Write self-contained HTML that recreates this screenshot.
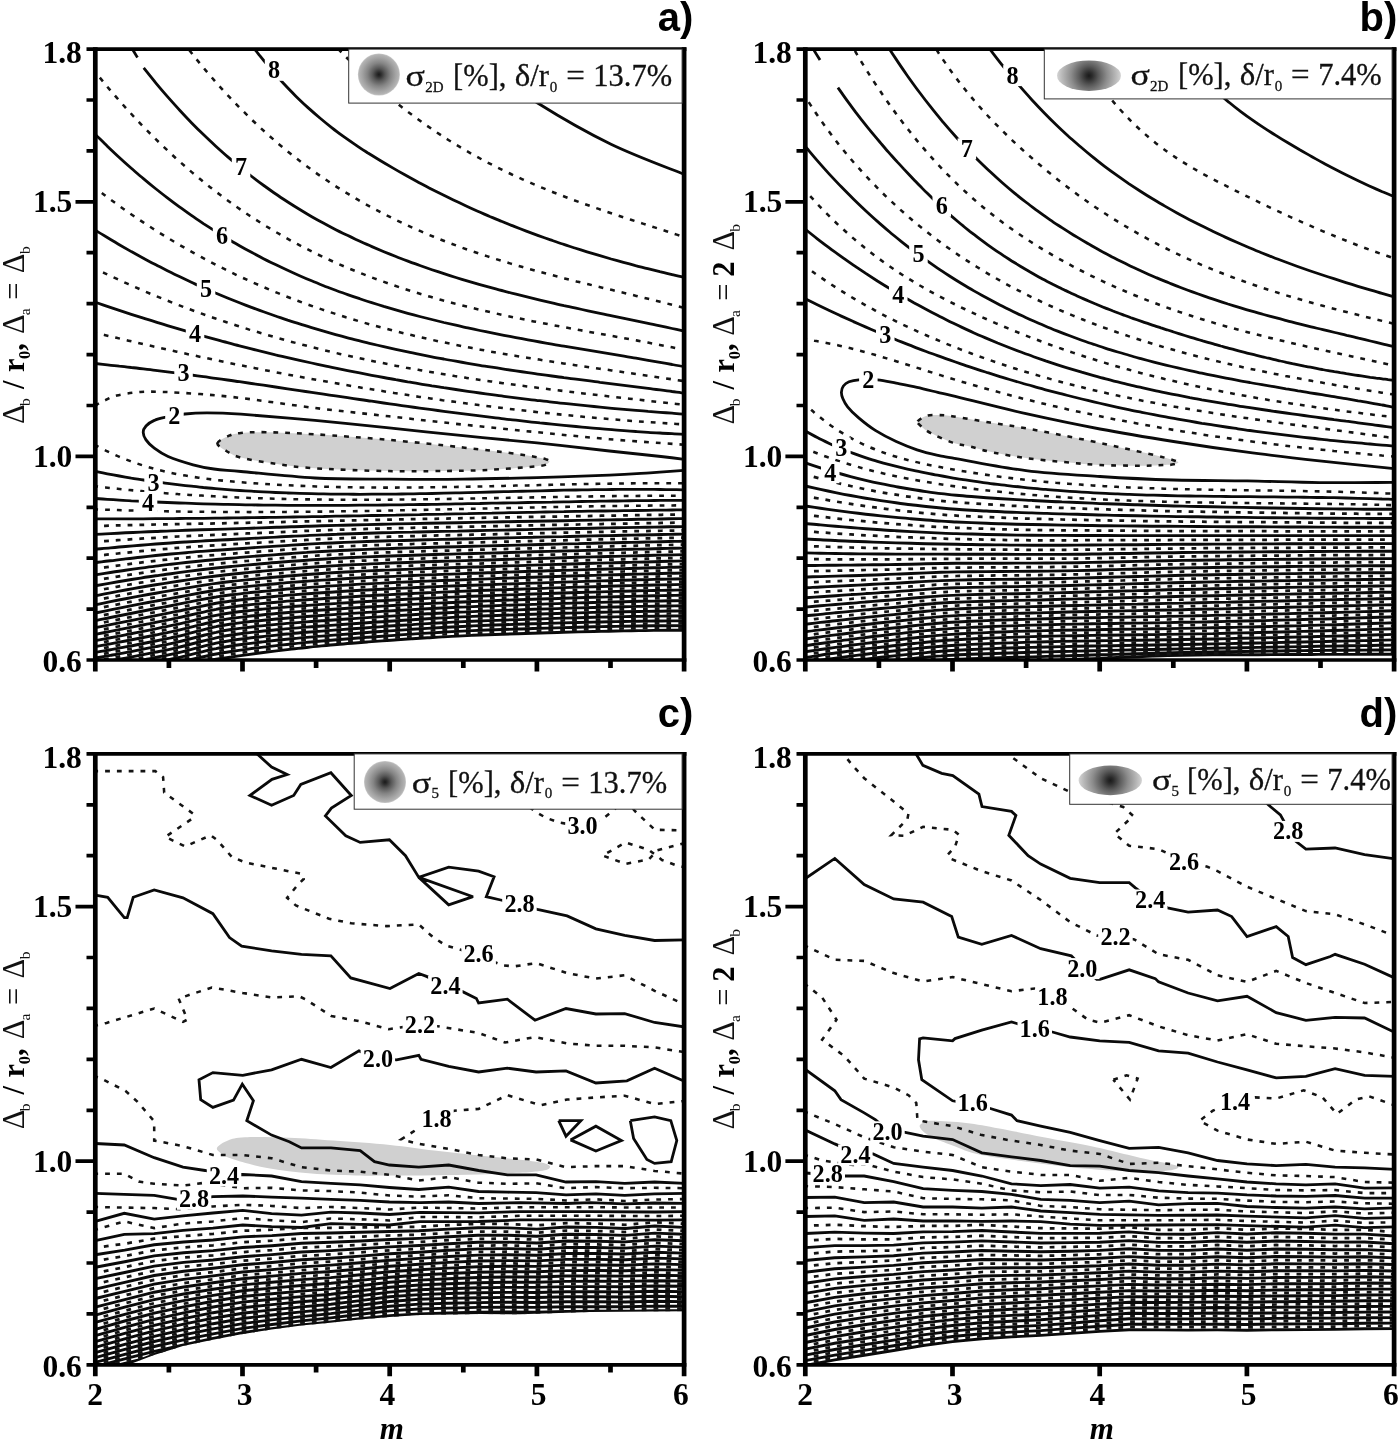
<!DOCTYPE html>
<html><head><meta charset="utf-8"><title>Contour figure</title>
<style>
html,body{margin:0;padding:0;background:#fff;overflow:hidden}
svg{display:block}
.s{fill:none;stroke:#0a0a0a;stroke-width:2.8;stroke-linejoin:miter;stroke-miterlimit:3}
.d{fill:none;stroke:#141414;stroke-width:2.55;stroke-dasharray:4.8 7.0}
.sb{stroke-width:2.9}
.db{stroke-width:2.75;stroke-dasharray:4.8 7.0}
.cl{font-family:'Liberation Serif',serif;font-weight:bold;text-anchor:middle;fill:#000}
.tl{font-family:'Liberation Serif',serif;font-weight:bold;font-size:31.5px;fill:#000}
.pl{font-family:'Liberation Sans',sans-serif;font-weight:bold;font-size:40px;fill:#000;text-anchor:end}
.lg{font-family:'Liberation Serif',serif;font-size:30.5px;fill:#111;stroke:#111;stroke-width:0.3}
.sub{font-size:15px !important}
.yr{font-family:'Liberation Serif',serif;font-size:30.5px;fill:#111}
.yb{font-family:'Liberation Serif',serif;font-size:30.5px;font-weight:bold;fill:#000}
.ysr{font-family:'Liberation Serif',serif;font-size:15.5px;fill:#111}
.ysb{font-family:'Liberation Serif',serif;font-size:16.5px;font-weight:bold;fill:#000}
.xl{font-family:'Liberation Serif',serif;font-style:italic;font-weight:bold;font-size:31px;fill:#000;text-anchor:middle}
</style></head>
<body>
<svg width="1400" height="1442" viewBox="0 0 1400 1442">
<defs><radialGradient id="rg" cx="50%" cy="50%" r="50%"><stop offset="0" stop-color="#1a1a1a"/><stop offset="0.1" stop-color="#2b2b2b"/><stop offset="0.3" stop-color="#585858"/><stop offset="0.55" stop-color="#848484"/><stop offset="0.8" stop-color="#a4a4a4"/><stop offset="0.94" stop-color="#b3b3b3"/><stop offset="1" stop-color="#cacaca"/></radialGradient><radialGradient id="rgb" gradientUnits="userSpaceOnUse" cx="1089" cy="75.7" r="32.5"><stop offset="0" stop-color="#1a1a1a"/><stop offset="0.1" stop-color="#2b2b2b"/><stop offset="0.3" stop-color="#5a5a5a"/><stop offset="0.55" stop-color="#8c8c8c"/><stop offset="0.8" stop-color="#b4b4b4"/><stop offset="0.94" stop-color="#cccccc"/><stop offset="1" stop-color="#dcdcdc"/></radialGradient><radialGradient id="rgd" gradientUnits="userSpaceOnUse" cx="1110.3" cy="780.4" r="32.2"><stop offset="0" stop-color="#1a1a1a"/><stop offset="0.1" stop-color="#2b2b2b"/><stop offset="0.3" stop-color="#5a5a5a"/><stop offset="0.55" stop-color="#8c8c8c"/><stop offset="0.8" stop-color="#b4b4b4"/><stop offset="0.94" stop-color="#cccccc"/><stop offset="1" stop-color="#dcdcdc"/></radialGradient></defs>
<rect width="1400" height="1442" fill="#fff"/>
<clipPath id="clipa"><rect x="95.3" y="49.1" width="588.8" height="610.9"/></clipPath>
<g clip-path="url(#clipa)">
<path d="M217.4,443.3C217.8,440.8 225.2,437.4 229.1,435.7C233,434 234.8,433.5 241,432.9C247.2,432.3 253.7,432 266,432.2C278.3,432.4 294.5,433 315,434.3C335.5,435.6 364.3,437.7 389,439.9C413.7,442.1 442.8,445.3 463,447.5C483.2,449.7 497.7,451.4 510,453C522.3,454.6 530.9,456.1 537,457.2C543.1,458.3 544.4,458.8 546.5,459.5C548.6,460.2 549.6,460.8 549.5,461.6C549.4,462.5 548.1,463.8 546,464.6C543.9,465.4 544.7,465.4 537,466.2C529.3,467 512.3,468.4 500,469.2C487.7,469.9 481.5,470.4 463,470.7C444.5,471 413.7,471.5 389,471.1C364.3,470.7 333.7,469.5 315,468.3C296.3,467.1 289.3,465.8 277,464C264.7,462.2 249.4,459.8 241,457.6C232.6,455.4 230.3,453.4 226.4,451C222.5,448.6 217,445.9 217.4,443.3Z" fill="#d0d0d0"/>
<path class="s" d="M455,40C459.2,43.7 466.2,51.5 480,62C493.8,72.5 516.2,89.5 538,103.2C559.8,116.9 586.6,132.3 611,144.2C635.4,156 671.9,169.3 684.1,174.3 M247,39.2C249,41.8 255.1,49.8 259.1,54.9C263.2,60 267.2,65 271.3,69.7C275.3,74.4 279.4,79 283.4,83.3C287.5,87.7 291.5,91.9 295.6,95.9C299.6,99.9 303.7,103.7 307.7,107.4C311.8,111.1 315.8,114.6 319.9,118C323.9,121.4 327.9,124.7 332,127.8C336,131 340.1,134 344.1,136.9C348.2,139.8 352.2,142.6 356.3,145.3C360.3,148.1 364.4,150.7 368.4,153.3C372.5,155.8 376.5,158.3 380.6,160.8C384.6,163.2 388.7,165.6 392.7,167.9C396.7,170.3 400.8,172.6 404.8,174.8C408.9,177.1 412.9,179.3 417,181.5C421,183.7 425.1,185.8 429.1,187.9C433.2,190 437.2,192 441.3,194.1C445.3,196.1 449.4,198.1 453.4,200C457.5,201.9 461.5,203.8 465.6,205.7C469.6,207.6 473.6,209.4 477.7,211.2C481.7,213 485.8,214.7 489.8,216.5C493.9,218.2 497.9,219.9 502,221.5C506,223.2 510.1,224.8 514.1,226.4C518.2,228 522.2,229.5 526.3,231.1C530.3,232.6 534.4,234.1 538.4,235.6C542.4,237 546.5,238.5 550.5,239.9C554.6,241.3 558.6,242.7 562.7,244C566.7,245.4 570.8,246.7 574.8,248C578.9,249.3 582.9,250.5 587,251.8C591,253 595.1,254.2 599.1,255.4C603.2,256.6 607.2,257.8 611.2,259C615.3,260.1 619.3,261.2 623.4,262.3C627.4,263.4 631.5,264.5 635.5,265.6C639.6,266.6 643.6,267.7 647.7,268.7C651.7,269.7 655.8,270.7 659.8,271.7C663.9,272.6 667.9,273.6 672,274.6C676,275.5 682.1,276.9 684.1,277.3 M126,40C126.8,41.2 129.1,44.1 131,47C132.9,49.9 136.4,55.8 137.5,57.6 M143.7,67.9C145.7,70.4 151.7,78 155.7,82.8C159.7,87.6 163.7,92.3 167.7,96.9C171.7,101.4 175.7,105.9 179.7,110.2C183.7,114.6 187.7,118.8 191.7,122.9C195.7,127 199.7,131 203.7,134.8C207.7,138.7 211.8,142.5 215.8,146.2C219.8,149.8 223.8,153.4 227.8,156.9C231.8,160.3 235.8,163.7 239.8,167C243.8,170.3 247.8,173.4 251.8,176.5C255.8,179.6 259.8,182.6 263.8,185.5C267.8,188.4 271.8,191.3 275.8,194C279.8,196.8 283.8,199.4 287.8,202C291.8,204.6 295.8,207.1 299.8,209.5C303.8,212 307.8,214.4 311.8,216.7C315.8,219 319.8,221.2 323.8,223.3C327.8,225.5 331.8,227.6 335.8,229.7C339.8,231.7 343.8,233.7 347.9,235.6C351.9,237.6 355.9,239.4 359.9,241.3C363.9,243.1 367.9,244.9 371.9,246.6C375.9,248.3 379.9,250 383.9,251.7C387.9,253.3 391.9,254.9 395.9,256.5C399.9,258.1 403.9,259.6 407.9,261.1C411.9,262.6 415.9,264.1 419.9,265.5C423.9,266.9 427.9,268.3 431.9,269.7C435.9,271 439.9,272.4 443.9,273.7C447.9,275 451.9,276.2 455.9,277.5C459.9,278.7 463.9,279.9 467.9,281.1C471.9,282.3 475.9,283.4 479.9,284.6C484,285.7 488,286.8 492,287.9C496,289 500,290.1 504,291.1C508,292.2 512,293.2 516,294.2C520,295.2 524,296.2 528,297.2C532,298.2 536,299.1 540,300.1C544,301 548,301.9 552,302.8C556,303.8 560,304.7 564,305.6C568,306.4 572,307.3 576,308.2C580,309.1 584,309.9 588,310.8C592,311.7 596,312.5 600,313.4C604,314.2 608,315 612,315.9C616,316.7 620.1,317.6 624.1,318.4C628.1,319.2 632.1,320.1 636.1,320.9C640.1,321.7 644.1,322.6 648.1,323.4C652.1,324.3 656.1,325.1 660.1,325.9C664.1,326.8 668.1,327.6 672.1,328.5C676.1,329.4 682.1,330.7 684.1,331.1 M95.3,134.4C97.3,136.3 103.3,142.3 107.3,146.2C111.3,150 115.3,153.8 119.3,157.5C123.3,161.2 127.3,164.8 131.3,168.3C135.4,171.8 139.4,175.3 143.4,178.6C147.4,182 151.4,185.3 155.4,188.5C159.4,191.7 163.4,194.8 167.4,197.9C171.4,201 175.4,204 179.4,206.9C183.4,209.8 187.4,212.6 191.4,215.4C195.4,218.2 199.4,220.9 203.4,223.6C207.5,226.2 211.5,228.8 215.5,231.3C219.5,233.8 223.5,236.3 227.5,238.7C231.5,241.1 235.5,243.4 239.5,245.7C243.5,248 247.5,250.2 251.5,252.3C255.5,254.5 259.5,256.6 263.5,258.7C267.5,260.7 271.5,262.7 275.5,264.6C279.6,266.6 283.6,268.5 287.6,270.3C291.6,272.2 295.6,274 299.6,275.7C303.6,277.5 307.6,279.2 311.6,280.8C315.6,282.5 319.6,284.1 323.6,285.7C327.6,287.2 331.6,288.8 335.6,290.2C339.6,291.7 343.6,293.2 347.6,294.6C351.6,296 355.7,297.4 359.7,298.7C363.7,300.1 367.7,301.4 371.7,302.6C375.7,303.9 379.7,305.1 383.7,306.4C387.7,307.6 391.7,308.7 395.7,309.9C399.7,311 403.7,312.2 407.7,313.3C411.7,314.4 415.7,315.4 419.7,316.5C423.7,317.5 427.8,318.5 431.8,319.5C435.8,320.5 439.8,321.5 443.8,322.5C447.8,323.4 451.8,324.3 455.8,325.2C459.8,326.2 463.8,327 467.8,327.9C471.8,328.8 475.8,329.6 479.8,330.5C483.8,331.3 487.8,332.1 491.8,332.9C495.8,333.7 499.8,334.5 503.9,335.3C507.9,336.1 511.9,336.8 515.9,337.6C519.9,338.3 523.9,339.1 527.9,339.8C531.9,340.5 535.9,341.3 539.9,342C543.9,342.7 547.9,343.4 551.9,344.1C555.9,344.8 559.9,345.5 563.9,346.1C567.9,346.8 571.9,347.5 576,348.2C580,348.9 584,349.5 588,350.2C592,350.9 596,351.5 600,352.2C604,352.9 608,353.5 612,354.2C616,354.9 620,355.5 624,356.2C628,356.9 632,357.6 636,358.2C640,358.9 644,359.6 648.1,360.3C652.1,361 656.1,361.7 660.1,362.4C664.1,363.1 668.1,363.8 672.1,364.5C676.1,365.3 682.1,366.4 684.1,366.7 M95.3,230.1C97.3,231.4 103.3,235.1 107.3,237.5C111.3,240 115.3,242.3 119.3,244.7C123.3,247 127.3,249.3 131.3,251.6C135.4,253.8 139.4,256 143.4,258.2C147.4,260.4 151.4,262.5 155.4,264.6C159.4,266.7 163.4,268.7 167.4,270.7C171.4,272.7 175.4,274.7 179.4,276.6C183.4,278.5 187.4,280.4 191.4,282.3C195.4,284.1 199.4,286 203.4,287.7C207.5,289.5 211.5,291.2 215.5,293C219.5,294.7 223.5,296.3 227.5,298C231.5,299.6 235.5,301.2 239.5,302.8C243.5,304.3 247.5,305.9 251.5,307.4C255.5,308.9 259.5,310.4 263.5,311.8C267.5,313.2 271.5,314.6 275.5,316C279.6,317.4 283.6,318.7 287.6,320.1C291.6,321.4 295.6,322.7 299.6,323.9C303.6,325.2 307.6,326.4 311.6,327.6C315.6,328.8 319.6,330 323.6,331.2C327.6,332.3 331.6,333.5 335.6,334.6C339.6,335.7 343.6,336.7 347.6,337.8C351.6,338.9 355.7,339.9 359.7,340.9C363.7,341.9 367.7,342.9 371.7,343.8C375.7,344.8 379.7,345.7 383.7,346.7C387.7,347.6 391.7,348.5 395.7,349.4C399.7,350.2 403.7,351.1 407.7,351.9C411.7,352.8 415.7,353.6 419.7,354.4C423.7,355.2 427.8,356 431.8,356.8C435.8,357.6 439.8,358.3 443.8,359C447.8,359.8 451.8,360.5 455.8,361.2C459.8,361.9 463.8,362.6 467.8,363.3C471.8,364 475.8,364.6 479.8,365.3C483.8,366 487.8,366.6 491.8,367.2C495.8,367.9 499.8,368.5 503.9,369.1C507.9,369.7 511.9,370.3 515.9,370.9C519.9,371.5 523.9,372 527.9,372.6C531.9,373.2 535.9,373.8 539.9,374.3C543.9,374.9 547.9,375.4 551.9,376C555.9,376.5 559.9,377 563.9,377.6C567.9,378.1 571.9,378.6 576,379.2C580,379.7 584,380.2 588,380.7C592,381.2 596,381.7 600,382.3C604,382.8 608,383.3 612,383.8C616,384.3 620,384.8 624,385.3C628,385.8 632,386.3 636,386.8C640,387.3 644,387.8 648.1,388.3C652.1,388.9 656.1,389.4 660.1,389.9C664.1,390.4 668.1,390.9 672.1,391.5C676.1,392 682.1,392.8 684.1,393 M95.3,302.2C97.3,302.9 103.3,305 107.3,306.4C111.3,307.7 115.3,309.1 119.3,310.4C123.3,311.7 127.3,313 131.3,314.3C135.4,315.6 139.4,316.9 143.4,318.2C147.4,319.5 151.4,320.7 155.4,321.9C159.4,323.2 163.4,324.4 167.4,325.6C171.4,326.8 175.4,328 179.4,329.2C183.4,330.4 187.4,331.5 191.4,332.7C195.4,333.8 199.4,335 203.4,336.1C207.5,337.2 211.5,338.3 215.5,339.4C219.5,340.5 223.5,341.6 227.5,342.6C231.5,343.7 235.5,344.8 239.5,345.8C243.5,346.8 247.5,347.9 251.5,348.9C255.5,349.9 259.5,350.9 263.5,351.8C267.5,352.8 271.5,353.8 275.5,354.8C279.6,355.7 283.6,356.7 287.6,357.6C291.6,358.5 295.6,359.4 299.6,360.3C303.6,361.2 307.6,362.1 311.6,363C315.6,363.9 319.6,364.7 323.6,365.6C327.6,366.5 331.6,367.3 335.6,368.1C339.6,368.9 343.6,369.8 347.6,370.6C351.6,371.4 355.7,372.2 359.7,372.9C363.7,373.7 367.7,374.5 371.7,375.3C375.7,376 379.7,376.8 383.7,377.5C387.7,378.2 391.7,378.9 395.7,379.7C399.7,380.4 403.7,381.1 407.7,381.8C411.7,382.4 415.7,383.1 419.7,383.8C423.7,384.5 427.8,385.1 431.8,385.8C435.8,386.4 439.8,387 443.8,387.7C447.8,388.3 451.8,388.9 455.8,389.5C459.8,390.1 463.8,390.7 467.8,391.3C471.8,391.9 475.8,392.4 479.8,393C483.8,393.6 487.8,394.1 491.8,394.7C495.8,395.2 499.8,395.7 503.9,396.3C507.9,396.8 511.9,397.3 515.9,397.8C519.9,398.3 523.9,398.8 527.9,399.3C531.9,399.8 535.9,400.3 539.9,400.7C543.9,401.2 547.9,401.7 551.9,402.1C555.9,402.6 559.9,403 563.9,403.4C567.9,403.9 571.9,404.3 576,404.7C580,405.1 584,405.5 588,405.9C592,406.3 596,406.7 600,407.1C604,407.5 608,407.9 612,408.3C616,408.6 620,409 624,409.3C628,409.7 632,410 636,410.4C640,410.7 644,411 648.1,411.4C652.1,411.7 656.1,412 660.1,412.3C664.1,412.6 668.1,412.9 672.1,413.2C676.1,413.5 682.1,413.9 684.1,414.1 M95.3,363.5C97.3,363.7 103.3,364.4 107.3,364.8C111.3,365.2 115.3,365.6 119.3,366.1C123.3,366.5 127.3,367 131.3,367.5C135.4,367.9 139.4,368.4 143.4,368.9C147.4,369.4 151.4,369.9 155.4,370.3C159.4,370.8 163.4,371.4 167.4,371.9C171.4,372.4 175.4,372.9 179.4,373.4C183.4,374 187.4,374.5 191.4,375C195.4,375.6 199.4,376.1 203.4,376.7C207.5,377.2 211.5,377.8 215.5,378.3C219.5,378.9 223.5,379.4 227.5,380C231.5,380.6 235.5,381.2 239.5,381.7C243.5,382.3 247.5,382.9 251.5,383.5C255.5,384.1 259.5,384.6 263.5,385.2C267.5,385.8 271.5,386.4 275.5,387C279.6,387.6 283.6,388.2 287.6,388.8C291.6,389.4 295.6,390 299.6,390.6C303.6,391.2 307.6,391.8 311.6,392.4C315.6,393 319.6,393.6 323.6,394.2C327.6,394.8 331.6,395.3 335.6,395.9C339.6,396.5 343.6,397.1 347.6,397.7C351.6,398.3 355.7,398.9 359.7,399.5C363.7,400.1 367.7,400.7 371.7,401.2C375.7,401.8 379.7,402.4 383.7,403C387.7,403.6 391.7,404.1 395.7,404.7C399.7,405.3 403.7,405.8 407.7,406.4C411.7,407 415.7,407.5 419.7,408.1C423.7,408.6 427.8,409.2 431.8,409.7C435.8,410.2 439.8,410.8 443.8,411.3C447.8,411.8 451.8,412.4 455.8,412.9C459.8,413.4 463.8,413.9 467.8,414.4C471.8,414.9 475.8,415.4 479.8,415.9C483.8,416.4 487.8,416.9 491.8,417.4C495.8,417.9 499.8,418.4 503.9,418.8C507.9,419.3 511.9,419.8 515.9,420.2C519.9,420.7 523.9,421.1 527.9,421.6C531.9,422 535.9,422.4 539.9,422.9C543.9,423.3 547.9,423.7 551.9,424.1C555.9,424.5 559.9,424.9 563.9,425.3C567.9,425.7 571.9,426.1 576,426.5C580,426.9 584,427.2 588,427.6C592,428 596,428.3 600,428.6C604,429 608,429.3 612,429.6C616,430 620,430.3 624,430.6C628,430.9 632,431.2 636,431.5C640,431.8 644,432 648.1,432.3C652.1,432.6 656.1,432.8 660.1,433C664.1,433.3 668.1,433.5 672.1,433.7C676.1,434 682.1,434.3 684.1,434.4 M684.1,459.3C680.2,458.8 673.5,457.9 661,456.5C648.5,455.1 630.1,453.3 609.4,451C588.7,448.7 561.4,445.4 537,442.9C512.6,440.3 487.7,438.2 463,435.7C438.3,433.2 413.7,430.4 389,427.9C364.3,425.3 339.7,422.7 315,420.4C290.3,418.1 259,415.5 241,414.2C223,412.9 216.4,412.8 207,412.8C197.6,412.8 191.8,413.2 184.8,414C177.8,414.8 170.1,416.2 165,417.3C159.9,418.4 157.5,418.9 154.3,420.4C151.1,421.8 147.8,424 146,426C144.2,428 143.2,429.9 143.2,432.2C143.2,434.5 144.2,437.2 146,439.9C147.8,442.6 150.6,445.4 154.3,448.2C158,451 161.6,453.7 168.1,456.5C174.6,459.3 185.5,462.7 193.1,464.8C200.7,466.9 205.9,467.9 213.9,469C221.9,470.1 224.2,470 241,471.5C257.9,473 290.3,476.7 315,478C339.7,479.3 364.3,478.9 389,479.1C413.7,479.3 438.3,479.4 463,479.1C487.7,478.9 512.6,478.2 537,477.6C561.4,477 590.6,476 609.4,475.2C628.2,474.4 637.5,473.6 650,472.8C662.5,472 678.4,470.8 684.1,470.4 M95.3,471.4C97.3,471.8 103.3,473 107.3,473.8C111.3,474.5 115.3,475.3 119.3,476C123.3,476.7 127.3,477.4 131.3,478.1C135.4,478.7 139.4,479.4 143.4,480C147.4,480.6 151.4,481.2 155.4,481.7C159.4,482.3 163.4,482.9 167.4,483.4C171.4,483.9 175.4,484.4 179.4,484.9C183.4,485.3 187.4,485.8 191.4,486.2C195.4,486.7 199.4,487.1 203.4,487.5C207.5,487.8 211.5,488.2 215.5,488.6C219.5,488.9 223.5,489.3 227.5,489.6C231.5,489.9 235.5,490.2 239.5,490.5C243.5,490.7 247.5,491 251.5,491.2C255.5,491.5 259.5,491.7 263.5,491.9C267.5,492.1 271.5,492.3 275.5,492.5C279.6,492.7 283.6,492.8 287.6,493C291.6,493.1 295.6,493.3 299.6,493.4C303.6,493.5 307.6,493.6 311.6,493.7C315.6,493.8 319.6,493.9 323.6,493.9C327.6,494 331.6,494.1 335.6,494.1C339.6,494.2 343.6,494.2 347.6,494.2C351.6,494.2 355.7,494.3 359.7,494.3C363.7,494.3 367.7,494.3 371.7,494.2C375.7,494.2 379.7,494.2 383.7,494.2C387.7,494.1 391.7,494.1 395.7,494.1C399.7,494 403.7,494 407.7,493.9C411.7,493.8 415.7,493.8 419.7,493.7C423.7,493.6 427.8,493.6 431.8,493.5C435.8,493.4 439.8,493.3 443.8,493.2C447.8,493.1 451.8,493 455.8,492.9C459.8,492.8 463.8,492.8 467.8,492.6C471.8,492.5 475.8,492.4 479.8,492.3C483.8,492.2 487.8,492.1 491.8,492C495.8,491.9 499.8,491.8 503.9,491.7C507.9,491.6 511.9,491.5 515.9,491.4C519.9,491.3 523.9,491.2 527.9,491.1C531.9,491 535.9,490.9 539.9,490.8C543.9,490.7 547.9,490.6 551.9,490.5C555.9,490.4 559.9,490.3 563.9,490.2C567.9,490.1 571.9,490.1 576,490C580,489.9 584,489.9 588,489.8C592,489.7 596,489.7 600,489.6C604,489.6 608,489.5 612,489.5C616,489.5 620,489.4 624,489.4C628,489.4 632,489.4 636,489.4C640,489.4 644,489.4 648.1,489.4C652.1,489.4 656.1,489.5 660.1,489.5C664.1,489.5 668.1,489.6 672.1,489.6C676.1,489.7 682.1,489.8 684.1,489.9 M95.3,498.5C97.3,498.6 103.3,499 107.3,499.3C111.3,499.6 115.3,499.8 119.3,500.1C123.3,500.3 127.3,500.5 131.3,500.8C135.4,501 139.4,501.2 143.4,501.4C147.4,501.6 151.4,501.8 155.4,502C159.4,502.2 163.4,502.3 167.4,502.5C171.4,502.7 175.4,502.8 179.4,503C183.4,503.1 187.4,503.3 191.4,503.4C195.4,503.6 199.4,503.7 203.4,503.8C207.5,503.9 211.5,504 215.5,504.1C219.5,504.3 223.5,504.3 227.5,504.4C231.5,504.5 235.5,504.6 239.5,504.7C243.5,504.8 247.5,504.8 251.5,504.9C255.5,505 259.5,505 263.5,505.1C267.5,505.1 271.5,505.2 275.5,505.2C279.6,505.2 283.6,505.3 287.6,505.3C291.6,505.3 295.6,505.3 299.6,505.4C303.6,505.4 307.6,505.4 311.6,505.4C315.6,505.4 319.6,505.4 323.6,505.4C327.6,505.4 331.6,505.4 335.6,505.4C339.6,505.3 343.6,505.3 347.6,505.3C351.6,505.3 355.7,505.3 359.7,505.2C363.7,505.2 367.7,505.2 371.7,505.1C375.7,505.1 379.7,505 383.7,505C387.7,505 391.7,504.9 395.7,504.9C399.7,504.8 403.7,504.8 407.7,504.7C411.7,504.6 415.7,504.6 419.7,504.5C423.7,504.5 427.8,504.4 431.8,504.3C435.8,504.3 439.8,504.2 443.8,504.1C447.8,504.1 451.8,504 455.8,503.9C459.8,503.8 463.8,503.8 467.8,503.7C471.8,503.6 475.8,503.5 479.8,503.5C483.8,503.4 487.8,503.3 491.8,503.2C495.8,503.2 499.8,503.1 503.9,503C507.9,502.9 511.9,502.8 515.9,502.8C519.9,502.7 523.9,502.6 527.9,502.5C531.9,502.4 535.9,502.4 539.9,502.3C543.9,502.2 547.9,502.1 551.9,502.1C555.9,502 559.9,501.9 563.9,501.8C567.9,501.8 571.9,501.7 576,501.6C580,501.5 584,501.5 588,501.4C592,501.3 596,501.3 600,501.2C604,501.1 608,501.1 612,501C616,501 620,500.9 624,500.8C628,500.8 632,500.7 636,500.7C640,500.6 644,500.6 648.1,500.6C652.1,500.5 656.1,500.5 660.1,500.4C664.1,500.4 668.1,500.4 672.1,500.3C676.1,500.3 682.1,500.3 684.1,500.3 M95.3,518.9C97.3,518.9 103.3,518.9 107.3,518.9C111.3,518.9 115.3,518.9 119.3,518.9C123.3,518.8 127.3,518.8 131.3,518.8C135.4,518.8 139.4,518.8 143.4,518.8C147.4,518.7 151.4,518.7 155.4,518.7C159.4,518.7 163.4,518.6 167.4,518.6C171.4,518.6 175.4,518.5 179.4,518.5C183.4,518.5 187.4,518.4 191.4,518.4C195.4,518.4 199.4,518.3 203.4,518.3C207.5,518.2 211.5,518.2 215.5,518.1C219.5,518.1 223.5,518 227.5,518C231.5,517.9 235.5,517.9 239.5,517.8C243.5,517.8 247.5,517.7 251.5,517.7C255.5,517.6 259.5,517.5 263.5,517.5C267.5,517.4 271.5,517.4 275.5,517.3C279.6,517.2 283.6,517.2 287.6,517.1C291.6,517 295.6,517 299.6,516.9C303.6,516.8 307.6,516.8 311.6,516.7C315.6,516.6 319.6,516.5 323.6,516.5C327.6,516.4 331.6,516.3 335.6,516.2C339.6,516.2 343.6,516.1 347.6,516C351.6,515.9 355.7,515.9 359.7,515.8C363.7,515.7 367.7,515.6 371.7,515.5C375.7,515.5 379.7,515.4 383.7,515.3C387.7,515.2 391.7,515.1 395.7,515.1C399.7,515 403.7,514.9 407.7,514.8C411.7,514.7 415.7,514.6 419.7,514.6C423.7,514.5 427.8,514.4 431.8,514.3C435.8,514.2 439.8,514.1 443.8,514.1C447.8,514 451.8,513.9 455.8,513.8C459.8,513.7 463.8,513.6 467.8,513.6C471.8,513.5 475.8,513.4 479.8,513.3C483.8,513.2 487.8,513.1 491.8,513.1C495.8,513 499.8,512.9 503.9,512.8C507.9,512.7 511.9,512.7 515.9,512.6C519.9,512.5 523.9,512.4 527.9,512.3C531.9,512.3 535.9,512.2 539.9,512.1C543.9,512 547.9,512 551.9,511.9C555.9,511.8 559.9,511.7 563.9,511.7C567.9,511.6 571.9,511.5 576,511.4C580,511.4 584,511.3 588,511.2C592,511.2 596,511.1 600,511C604,511 608,510.9 612,510.8C616,510.8 620,510.7 624,510.6C628,510.6 632,510.5 636,510.5C640,510.4 644,510.4 648.1,510.3C652.1,510.2 656.1,510.2 660.1,510.1C664.1,510.1 668.1,510 672.1,510C676.1,510 682.1,509.9 684.1,509.9"/>
<path class="s sb" d="M95.3,534.4C97.8,534.2 105.4,533.8 110.4,533.6C115.4,533.3 120.5,533.1 125.5,532.8C130.5,532.6 135.6,532.3 140.6,532.1C145.6,531.9 150.7,531.7 155.7,531.5C160.7,531.3 165.8,531 170.8,530.9C175.8,530.7 180.9,530.5 185.9,530.3C190.9,530.1 195.9,530 201,529.8C206,529.7 211,529.5 216.1,529.4C221.1,529.2 226.1,529 231.2,528.9C236.2,528.7 241.2,528.6 246.3,528.4C251.3,528.2 256.3,528 261.4,527.9C266.4,527.7 271.4,527.5 276.5,527.3C281.5,527.2 286.5,527 291.6,526.8C296.6,526.7 301.6,526.5 306.7,526.3C311.7,526.2 316.7,526 321.8,525.8C326.8,525.7 331.8,525.5 336.9,525.4C341.9,525.2 346.9,525.1 352,525C357,524.9 362,524.7 367.1,524.6C372.1,524.5 377.1,524.4 382.2,524.3C387.2,524.1 392.2,524 397.2,523.9C402.3,523.8 407.3,523.7 412.3,523.6C417.4,523.5 422.4,523.4 427.4,523.3C432.5,523.2 437.5,523.1 442.5,523C447.6,522.9 452.6,522.8 457.6,522.7C462.7,522.6 467.7,522.5 472.7,522.4C477.8,522.3 482.8,522.2 487.8,522.1C492.9,522 497.9,521.9 502.9,521.8C508,521.7 513,521.6 518,521.5C523.1,521.4 528.1,521.3 533.1,521.2C538.2,521.1 543.2,521.1 548.2,521C553.3,520.9 558.3,520.8 563.3,520.7C568.4,520.6 573.4,520.5 578.4,520.4C583.5,520.3 588.5,520.2 593.5,520.1C598.5,520 603.6,520 608.6,519.9C613.6,519.8 618.7,519.7 623.7,519.6C628.7,519.5 633.8,519.4 638.8,519.3C643.8,519.3 648.9,519.2 653.9,519.1C658.9,519 664,518.9 669,518.8C674,518.8 681.6,518.6 684.1,518.6 M95.3,549.3C97.8,549.1 105.4,548.3 110.4,547.9C115.4,547.4 120.5,546.9 125.5,546.5C130.5,546.1 135.6,545.6 140.6,545.2C145.6,544.8 150.7,544.4 155.7,544C160.7,543.7 165.8,543.3 170.8,543C175.8,542.6 180.9,542.3 185.9,542C190.9,541.7 195.9,541.4 201,541.1C206,540.8 211,540.5 216.1,540.3C221.1,540 226.1,539.7 231.2,539.5C236.2,539.2 241.2,538.9 246.3,538.7C251.3,538.4 256.3,538.1 261.4,537.9C266.4,537.6 271.4,537.3 276.5,537.1C281.5,536.8 286.5,536.5 291.6,536.3C296.6,536 301.6,535.8 306.7,535.6C311.7,535.3 316.7,535.1 321.8,534.9C326.8,534.7 331.8,534.4 336.9,534.3C341.9,534.1 346.9,533.9 352,533.7C357,533.6 362,533.4 367.1,533.3C372.1,533.1 377.1,533 382.2,532.8C387.2,532.7 392.2,532.6 397.2,532.4C402.3,532.3 407.3,532.2 412.3,532.1C417.4,531.9 422.4,531.8 427.4,531.7C432.5,531.6 437.5,531.5 442.5,531.4C447.6,531.3 452.6,531.2 457.6,531.1C462.7,531 467.7,530.8 472.7,530.7C477.8,530.6 482.8,530.5 487.8,530.4C492.9,530.3 497.9,530.2 502.9,530.1C508,530 513,529.9 518,529.8C523.1,529.7 528.1,529.6 533.1,529.4C538.2,529.3 543.2,529.2 548.2,529.1C553.3,529 558.3,528.9 563.3,528.8C568.4,528.7 573.4,528.6 578.4,528.5C583.5,528.4 588.5,528.3 593.5,528.2C598.5,528.1 603.6,528 608.6,527.9C613.6,527.8 618.7,527.7 623.7,527.6C628.7,527.5 633.8,527.4 638.8,527.4C643.8,527.3 648.9,527.2 653.9,527.1C658.9,527 664,526.9 669,526.8C674,526.7 681.6,526.6 684.1,526.6 M95.3,562.8C97.8,562.4 105.4,561.4 110.4,560.8C115.4,560.1 120.5,559.5 125.5,558.9C130.5,558.3 135.6,557.7 140.6,557.2C145.6,556.6 150.7,556.1 155.7,555.5C160.7,555 165.8,554.5 170.8,554C175.8,553.6 180.9,553.1 185.9,552.7C190.9,552.2 195.9,551.8 201,551.4C206,551 211,550.7 216.1,550.3C221.1,549.9 226.1,549.6 231.2,549.2C236.2,548.9 241.2,548.5 246.3,548.2C251.3,547.8 256.3,547.5 261.4,547.1C266.4,546.8 271.4,546.4 276.5,546.1C281.5,545.8 286.5,545.5 291.6,545.1C296.6,544.8 301.6,544.5 306.7,544.2C311.7,543.9 316.7,543.7 321.8,543.4C326.8,543.1 331.8,542.9 336.9,542.7C341.9,542.4 346.9,542.2 352,542.1C357,541.9 362,541.7 367.1,541.5C372.1,541.3 377.1,541.2 382.2,541C387.2,540.9 392.2,540.7 397.2,540.6C402.3,540.4 407.3,540.3 412.3,540.2C417.4,540 422.4,539.9 427.4,539.8C432.5,539.6 437.5,539.5 442.5,539.4C447.6,539.3 452.6,539.2 457.6,539C462.7,538.9 467.7,538.8 472.7,538.7C477.8,538.6 482.8,538.5 487.8,538.3C492.9,538.2 497.9,538.1 502.9,538C508,537.9 513,537.7 518,537.6C523.1,537.5 528.1,537.4 533.1,537.3C538.2,537.1 543.2,537 548.2,536.9C553.3,536.8 558.3,536.7 563.3,536.6C568.4,536.4 573.4,536.3 578.4,536.2C583.5,536.1 588.5,536 593.5,535.9C598.5,535.8 603.6,535.7 608.6,535.6C613.6,535.5 618.7,535.4 623.7,535.3C628.7,535.2 633.8,535.1 638.8,535C643.8,534.8 648.9,534.7 653.9,534.7C658.9,534.6 664,534.5 669,534.4C674,534.3 681.6,534.1 684.1,534.1 M95.3,574.9C97.8,574.5 105.4,573.3 110.4,572.5C115.4,571.7 120.5,570.9 125.5,570.2C130.5,569.5 135.6,568.8 140.6,568.1C145.6,567.4 150.7,566.7 155.7,566.1C160.7,565.4 165.8,564.8 170.8,564.2C175.8,563.6 180.9,563.1 185.9,562.5C190.9,562 195.9,561.5 201,561C206,560.4 211,560 216.1,559.5C221.1,559 226.1,558.6 231.2,558.2C236.2,557.8 241.2,557.4 246.3,556.9C251.3,556.5 256.3,556.1 261.4,555.7C266.4,555.3 271.4,554.9 276.5,554.6C281.5,554.2 286.5,553.8 291.6,553.5C296.6,553.1 301.6,552.8 306.7,552.4C311.7,552.1 316.7,551.8 321.8,551.5C326.8,551.2 331.8,550.9 336.9,550.7C341.9,550.4 346.9,550.2 352,550C357,549.8 362,549.6 367.1,549.4C372.1,549.2 377.1,549 382.2,548.8C387.2,548.7 392.2,548.5 397.2,548.3C402.3,548.2 407.3,548 412.3,547.9C417.4,547.7 422.4,547.6 427.4,547.5C432.5,547.3 437.5,547.2 442.5,547C447.6,546.9 452.6,546.8 457.6,546.7C462.7,546.5 467.7,546.4 472.7,546.3C477.8,546.1 482.8,546 487.8,545.9C492.9,545.8 497.9,545.6 502.9,545.5C508,545.4 513,545.2 518,545.1C523.1,545 528.1,544.8 533.1,544.7C538.2,544.6 543.2,544.4 548.2,544.3C553.3,544.2 558.3,544.1 563.3,543.9C568.4,543.8 573.4,543.7 578.4,543.6C583.5,543.5 588.5,543.3 593.5,543.2C598.5,543.1 603.6,543 608.6,542.9C613.6,542.7 618.7,542.6 623.7,542.5C628.7,542.4 633.8,542.3 638.8,542.2C643.8,542.1 648.9,542 653.9,541.9C658.9,541.8 664,541.6 669,541.5C674,541.4 681.6,541.3 684.1,541.2 M95.3,585.8C97.8,585.4 105.4,584 110.4,583.1C115.4,582.2 120.5,581.4 125.5,580.5C130.5,579.7 135.6,578.9 140.6,578.1C145.6,577.3 150.7,576.5 155.7,575.8C160.7,575.1 165.8,574.3 170.8,573.7C175.8,573 180.9,572.3 185.9,571.6C190.9,571 195.9,570.4 201,569.8C206,569.2 211,568.6 216.1,568C221.1,567.5 226.1,567 231.2,566.5C236.2,566 241.2,565.6 246.3,565.1C251.3,564.7 256.3,564.2 261.4,563.8C266.4,563.3 271.4,562.9 276.5,562.5C281.5,562.1 286.5,561.7 291.6,561.3C296.6,560.9 301.6,560.5 306.7,560.2C311.7,559.8 316.7,559.5 321.8,559.2C326.8,558.9 331.8,558.6 336.9,558.3C341.9,558 346.9,557.8 352,557.5C357,557.3 362,557.1 367.1,556.9C372.1,556.7 377.1,556.5 382.2,556.3C387.2,556.1 392.2,555.9 397.2,555.8C402.3,555.6 407.3,555.4 412.3,555.3C417.4,555.1 422.4,554.9 427.4,554.8C432.5,554.6 437.5,554.5 442.5,554.3C447.6,554.2 452.6,554.1 457.6,553.9C462.7,553.8 467.7,553.6 472.7,553.5C477.8,553.4 482.8,553.2 487.8,553.1C492.9,552.9 497.9,552.8 502.9,552.7C508,552.5 513,552.4 518,552.2C523.1,552.1 528.1,551.9 533.1,551.8C538.2,551.7 543.2,551.5 548.2,551.4C553.3,551.3 558.3,551.1 563.3,551C568.4,550.9 573.4,550.7 578.4,550.6C583.5,550.5 588.5,550.3 593.5,550.2C598.5,550.1 603.6,549.9 608.6,549.8C613.6,549.7 618.7,549.6 623.7,549.4C628.7,549.3 633.8,549.2 638.8,549.1C643.8,549 648.9,548.9 653.9,548.7C658.9,548.6 664,548.5 669,548.4C674,548.3 681.6,548.1 684.1,548.1 M95.3,595.8C97.8,595.3 105.4,593.8 110.4,592.8C115.4,591.9 120.5,590.9 125.5,590C130.5,589.1 135.6,588.2 140.6,587.3C145.6,586.5 150.7,585.6 155.7,584.8C160.7,584 165.8,583.2 170.8,582.4C175.8,581.6 180.9,580.9 185.9,580.1C190.9,579.4 195.9,578.6 201,577.9C206,577.3 211,576.6 216.1,576C221.1,575.3 226.1,574.8 231.2,574.2C236.2,573.7 241.2,573.2 246.3,572.7C251.3,572.2 256.3,571.8 261.4,571.3C266.4,570.8 271.4,570.4 276.5,569.9C281.5,569.5 286.5,569.1 291.6,568.7C296.6,568.3 301.6,567.9 306.7,567.5C311.7,567.2 316.7,566.8 321.8,566.5C326.8,566.2 331.8,565.9 336.9,565.6C341.9,565.3 346.9,565 352,564.8C357,564.5 362,564.3 367.1,564.1C372.1,563.8 377.1,563.6 382.2,563.4C387.2,563.2 392.2,563 397.2,562.8C402.3,562.7 407.3,562.5 412.3,562.3C417.4,562.1 422.4,562 427.4,561.8C432.5,561.6 437.5,561.5 442.5,561.3C447.6,561.2 452.6,561 457.6,560.9C462.7,560.7 467.7,560.6 472.7,560.4C477.8,560.3 482.8,560.1 487.8,560C492.9,559.8 497.9,559.7 502.9,559.5C508,559.3 513,559.2 518,559C523.1,558.9 528.1,558.7 533.1,558.6C538.2,558.4 543.2,558.3 548.2,558.2C553.3,558 558.3,557.9 563.3,557.7C568.4,557.6 573.4,557.4 578.4,557.3C583.5,557.2 588.5,557 593.5,556.9C598.5,556.7 603.6,556.6 608.6,556.5C613.6,556.3 618.7,556.2 623.7,556.1C628.7,556 633.8,555.8 638.8,555.7C643.8,555.6 648.9,555.5 653.9,555.3C658.9,555.2 664,555.1 669,555C674,554.9 681.6,554.7 684.1,554.6 M95.3,604.8C97.8,604.3 105.4,602.7 110.4,601.7C115.4,600.7 120.5,599.7 125.5,598.8C130.5,597.8 135.6,596.8 140.6,595.9C145.6,595 150.7,594.1 155.7,593.2C160.7,592.3 165.8,591.5 170.8,590.6C175.8,589.8 180.9,588.9 185.9,588.1C190.9,587.3 195.9,586.4 201,585.6C206,584.8 211,584.1 216.1,583.4C221.1,582.7 226.1,582.1 231.2,581.5C236.2,580.9 241.2,580.4 246.3,579.9C251.3,579.4 256.3,578.9 261.4,578.4C266.4,577.9 271.4,577.4 276.5,577C281.5,576.5 286.5,576.1 291.6,575.7C296.6,575.3 301.6,574.9 306.7,574.5C311.7,574.2 316.7,573.8 321.8,573.5C326.8,573.1 331.8,572.8 336.9,572.5C341.9,572.2 346.9,571.9 352,571.7C357,571.4 362,571.2 367.1,570.9C372.1,570.7 377.1,570.5 382.2,570.3C387.2,570 392.2,569.8 397.2,569.6C402.3,569.4 407.3,569.2 412.3,569.1C417.4,568.9 422.4,568.7 427.4,568.5C432.5,568.3 437.5,568.2 442.5,568C447.6,567.8 452.6,567.7 457.6,567.5C462.7,567.3 467.7,567.2 472.7,567C477.8,566.9 482.8,566.7 487.8,566.5C492.9,566.4 497.9,566.2 502.9,566C508,565.9 513,565.7 518,565.6C523.1,565.4 528.1,565.2 533.1,565.1C538.2,564.9 543.2,564.8 548.2,564.6C553.3,564.5 558.3,564.3 563.3,564.2C568.4,564 573.4,563.9 578.4,563.7C583.5,563.6 588.5,563.4 593.5,563.3C598.5,563.1 603.6,563 608.6,562.9C613.6,562.7 618.7,562.6 623.7,562.5C628.7,562.3 633.8,562.2 638.8,562.1C643.8,561.9 648.9,561.8 653.9,561.7C658.9,561.5 664,561.4 669,561.3C674,561.2 681.6,561 684.1,560.9 M95.3,613C97.8,612.5 105.4,610.9 110.4,609.9C115.4,608.9 120.5,607.9 125.5,606.9C130.5,605.9 135.6,604.9 140.6,603.9C145.6,603 150.7,602 155.7,601.1C160.7,600.2 165.8,599.3 170.8,598.3C175.8,597.4 180.9,596.5 185.9,595.6C190.9,594.7 195.9,593.7 201,592.8C206,592 211,591.1 216.1,590.3C221.1,589.6 226.1,588.9 231.2,588.3C236.2,587.7 241.2,587.2 246.3,586.6C251.3,586.1 256.3,585.6 261.4,585.1C266.4,584.6 271.4,584.1 276.5,583.7C281.5,583.2 286.5,582.8 291.6,582.4C296.6,582 301.6,581.6 306.7,581.2C311.7,580.8 316.7,580.5 321.8,580.1C326.8,579.8 331.8,579.5 336.9,579.2C341.9,578.9 346.9,578.6 352,578.3C357,578 362,577.8 367.1,577.5C372.1,577.3 377.1,577 382.2,576.8C387.2,576.6 392.2,576.4 397.2,576.1C402.3,575.9 407.3,575.7 412.3,575.5C417.4,575.3 422.4,575.1 427.4,574.9C432.5,574.7 437.5,574.6 442.5,574.4C447.6,574.2 452.6,574 457.6,573.9C462.7,573.7 467.7,573.5 472.7,573.3C477.8,573.2 482.8,573 487.8,572.8C492.9,572.7 497.9,572.5 502.9,572.3C508,572.1 513,572 518,571.8C523.1,571.6 528.1,571.5 533.1,571.3C538.2,571.2 543.2,571 548.2,570.8C553.3,570.7 558.3,570.5 563.3,570.4C568.4,570.2 573.4,570 578.4,569.9C583.5,569.7 588.5,569.6 593.5,569.4C598.5,569.3 603.6,569.1 608.6,569C613.6,568.9 618.7,568.7 623.7,568.6C628.7,568.4 633.8,568.3 638.8,568.2C643.8,568 648.9,567.9 653.9,567.8C658.9,567.7 664,567.5 669,567.4C674,567.3 681.6,567.1 684.1,567 M95.3,620.7C97.8,620.1 105.4,618.6 110.4,617.5C115.4,616.5 120.5,615.5 125.5,614.5C130.5,613.5 135.6,612.5 140.6,611.5C145.6,610.5 150.7,609.5 155.7,608.5C160.7,607.6 165.8,606.6 170.8,605.7C175.8,604.7 180.9,603.7 185.9,602.7C190.9,601.7 195.9,600.7 201,599.7C206,598.7 211,597.8 216.1,597C221.1,596.1 226.1,595.5 231.2,594.8C236.2,594.2 241.2,593.6 246.3,593.1C251.3,592.5 256.3,592 261.4,591.5C266.4,591 271.4,590.5 276.5,590.1C281.5,589.6 286.5,589.2 291.6,588.8C296.6,588.4 301.6,588 306.7,587.6C311.7,587.2 316.7,586.9 321.8,586.6C326.8,586.2 331.8,585.9 336.9,585.6C341.9,585.3 346.9,585 352,584.7C357,584.4 362,584.1 367.1,583.9C372.1,583.6 377.1,583.3 382.2,583.1C387.2,582.9 392.2,582.6 397.2,582.4C402.3,582.2 407.3,581.9 412.3,581.7C417.4,581.5 422.4,581.3 427.4,581.1C432.5,580.9 437.5,580.7 442.5,580.5C447.6,580.3 452.6,580.1 457.6,580C462.7,579.8 467.7,579.6 472.7,579.4C477.8,579.2 482.8,579 487.8,578.9C492.9,578.7 497.9,578.5 502.9,578.3C508,578.2 513,578 518,577.8C523.1,577.6 528.1,577.5 533.1,577.3C538.2,577.1 543.2,577 548.2,576.8C553.3,576.6 558.3,576.5 563.3,576.3C568.4,576.1 573.4,576 578.4,575.8C583.5,575.7 588.5,575.5 593.5,575.4C598.5,575.2 603.6,575.1 608.6,574.9C613.6,574.8 618.7,574.6 623.7,574.5C628.7,574.4 633.8,574.2 638.8,574.1C643.8,574 648.9,573.8 653.9,573.7C658.9,573.6 664,573.4 669,573.3C674,573.2 681.6,573 684.1,573 M95.3,627.7C97.8,627.2 105.4,625.7 110.4,624.7C115.4,623.7 120.5,622.6 125.5,621.6C130.5,620.6 135.6,619.6 140.6,618.6C145.6,617.6 150.7,616.6 155.7,615.6C160.7,614.6 165.8,613.6 170.8,612.6C175.8,611.6 180.9,610.6 185.9,609.5C190.9,608.5 195.9,607.3 201,606.3C206,605.2 211,604.2 216.1,603.3C221.1,602.4 226.1,601.7 231.2,601C236.2,600.3 241.2,599.8 246.3,599.2C251.3,598.7 256.3,598.2 261.4,597.7C266.4,597.2 271.4,596.7 276.5,596.2C281.5,595.8 286.5,595.4 291.6,594.9C296.6,594.5 301.6,594.2 306.7,593.8C311.7,593.4 316.7,593.1 321.8,592.7C326.8,592.4 331.8,592.1 336.9,591.7C341.9,591.4 346.9,591.1 352,590.8C357,590.5 362,590.2 367.1,590C372.1,589.7 377.1,589.4 382.2,589.2C387.2,588.9 392.2,588.7 397.2,588.4C402.3,588.2 407.3,587.9 412.3,587.7C417.4,587.5 422.4,587.3 427.4,587C432.5,586.8 437.5,586.6 442.5,586.4C447.6,586.2 452.6,586 457.6,585.8C462.7,585.6 467.7,585.4 472.7,585.2C477.8,585 482.8,584.9 487.8,584.7C492.9,584.5 497.9,584.3 502.9,584.1C508,583.9 513,583.8 518,583.6C523.1,583.4 528.1,583.2 533.1,583.1C538.2,582.9 543.2,582.7 548.2,582.6C553.3,582.4 558.3,582.2 563.3,582.1C568.4,581.9 573.4,581.7 578.4,581.6C583.5,581.4 588.5,581.3 593.5,581.1C598.5,581 603.6,580.8 608.6,580.7C613.6,580.5 618.7,580.4 623.7,580.2C628.7,580.1 633.8,580 638.8,579.8C643.8,579.7 648.9,579.6 653.9,579.4C658.9,579.3 664,579.2 669,579.1C674,579 681.6,578.8 684.1,578.7 M95.3,634.4C97.8,633.9 105.4,632.4 110.4,631.4C115.4,630.4 120.5,629.4 125.5,628.4C130.5,627.4 135.6,626.4 140.6,625.4C145.6,624.4 150.7,623.4 155.7,622.3C160.7,621.3 165.8,620.3 170.8,619.3C175.8,618.2 180.9,617.2 185.9,616C190.9,614.9 195.9,613.7 201,612.6C206,611.5 211,610.3 216.1,609.4C221.1,608.4 226.1,607.7 231.2,607C236.2,606.3 241.2,605.7 246.3,605.2C251.3,604.6 256.3,604.1 261.4,603.6C266.4,603.1 271.4,602.6 276.5,602.2C281.5,601.7 286.5,601.3 291.6,600.9C296.6,600.5 301.6,600.1 306.7,599.7C311.7,599.4 316.7,599 321.8,598.7C326.8,598.3 331.8,598 336.9,597.7C341.9,597.4 346.9,597 352,596.7C357,596.4 362,596.1 367.1,595.8C372.1,595.6 377.1,595.3 382.2,595C387.2,594.7 392.2,594.5 397.2,594.2C402.3,594 407.3,593.7 412.3,593.5C417.4,593.2 422.4,593 427.4,592.8C432.5,592.5 437.5,592.3 442.5,592.1C447.6,591.9 452.6,591.7 457.6,591.5C462.7,591.2 467.7,591 472.7,590.8C477.8,590.6 482.8,590.5 487.8,590.3C492.9,590.1 497.9,589.9 502.9,589.7C508,589.5 513,589.3 518,589.2C523.1,589 528.1,588.8 533.1,588.6C538.2,588.5 543.2,588.3 548.2,588.1C553.3,587.9 558.3,587.8 563.3,587.6C568.4,587.4 573.4,587.3 578.4,587.1C583.5,587 588.5,586.8 593.5,586.7C598.5,586.5 603.6,586.4 608.6,586.2C613.6,586.1 618.7,585.9 623.7,585.8C628.7,585.7 633.8,585.5 638.8,585.4C643.8,585.3 648.9,585.1 653.9,585C658.9,584.9 664,584.8 669,584.7C674,584.6 681.6,584.4 684.1,584.4 M95.3,640.6C97.8,640.1 105.4,638.7 110.4,637.8C115.4,636.8 120.5,635.8 125.5,634.8C130.5,633.8 135.6,632.9 140.6,631.8C145.6,630.8 150.7,629.8 155.7,628.8C160.7,627.8 165.8,626.8 170.8,625.7C175.8,624.6 180.9,623.5 185.9,622.3C190.9,621.2 195.9,619.8 201,618.7C206,617.5 211,616.3 216.1,615.3C221.1,614.3 226.1,613.5 231.2,612.8C236.2,612.1 241.2,611.5 246.3,611C251.3,610.4 256.3,609.8 261.4,609.3C266.4,608.8 271.4,608.4 276.5,607.9C281.5,607.5 286.5,607 291.6,606.6C296.6,606.2 301.6,605.9 306.7,605.5C311.7,605.1 316.7,604.8 321.8,604.4C326.8,604.1 331.8,603.8 336.9,603.4C341.9,603.1 346.9,602.8 352,602.5C357,602.1 362,601.8 367.1,601.5C372.1,601.2 377.1,600.9 382.2,600.7C387.2,600.4 392.2,600.1 397.2,599.8C402.3,599.5 407.3,599.3 412.3,599C417.4,598.8 422.4,598.5 427.4,598.3C432.5,598 437.5,597.8 442.5,597.6C447.6,597.3 452.6,597.1 457.6,596.9C462.7,596.7 467.7,596.5 472.7,596.3C477.8,596.1 482.8,595.9 487.8,595.7C492.9,595.5 497.9,595.3 502.9,595.1C508,594.9 513,594.7 518,594.6C523.1,594.4 528.1,594.2 533.1,594C538.2,593.8 543.2,593.7 548.2,593.5C553.3,593.3 558.3,593.2 563.3,593C568.4,592.8 573.4,592.7 578.4,592.5C583.5,592.4 588.5,592.2 593.5,592.1C598.5,591.9 603.6,591.8 608.6,591.6C613.6,591.5 618.7,591.3 623.7,591.2C628.7,591.1 633.8,591 638.8,590.8C643.8,590.7 648.9,590.6 653.9,590.5C658.9,590.4 664,590.3 669,590.2C674,590.1 681.6,589.9 684.1,589.9 M95.3,646.6C97.8,646.2 105.4,644.8 110.4,643.9C115.4,642.9 120.5,642 125.5,641C130.5,640 135.6,639 140.6,638C145.6,637 150.7,636 155.7,635C160.7,634 165.8,633 170.8,631.9C175.8,630.8 180.9,629.6 185.9,628.4C190.9,627.2 195.9,625.8 201,624.6C206,623.4 211,622.1 216.1,621C221.1,620 226.1,619.2 231.2,618.4C236.2,617.7 241.2,617.2 246.3,616.6C251.3,616 256.3,615.5 261.4,615C266.4,614.4 271.4,614 276.5,613.5C281.5,613.1 286.5,612.6 291.6,612.2C296.6,611.8 301.6,611.5 306.7,611.1C311.7,610.7 316.7,610.4 321.8,610C326.8,609.7 331.8,609.3 336.9,609C341.9,608.7 346.9,608.3 352,608C357,607.7 362,607.4 367.1,607C372.1,606.7 377.1,606.4 382.2,606.1C387.2,605.8 392.2,605.5 397.2,605.2C402.3,605 407.3,604.7 412.3,604.4C417.4,604.1 422.4,603.9 427.4,603.6C432.5,603.4 437.5,603.1 442.5,602.9C447.6,602.6 452.6,602.4 457.6,602.2C462.7,601.9 467.7,601.7 472.7,601.5C477.8,601.3 482.8,601.1 487.8,600.9C492.9,600.7 497.9,600.5 502.9,600.3C508,600.1 513,600 518,599.8C523.1,599.6 528.1,599.4 533.1,599.3C538.2,599.1 543.2,598.9 548.2,598.7C553.3,598.6 558.3,598.4 563.3,598.2C568.4,598.1 573.4,597.9 578.4,597.8C583.5,597.6 588.5,597.5 593.5,597.3C598.5,597.2 603.6,597 608.6,596.9C613.6,596.8 618.7,596.6 623.7,596.5C628.7,596.4 633.8,596.3 638.8,596.1C643.8,596 648.9,595.9 653.9,595.8C658.9,595.7 664,595.6 669,595.5C674,595.4 681.6,595.3 684.1,595.3 M95.3,652.4C97.8,651.9 105.4,650.6 110.4,649.7C115.4,648.8 120.5,647.9 125.5,646.9C130.5,646 135.6,645 140.6,644C145.6,643 150.7,642 155.7,641C160.7,639.9 165.8,638.9 170.8,637.8C175.8,636.7 180.9,635.6 185.9,634.3C190.9,633.1 195.9,631.6 201,630.4C206,629.1 211,627.7 216.1,626.7C221.1,625.6 226.1,624.8 231.2,624C236.2,623.3 241.2,622.7 246.3,622.1C251.3,621.5 256.3,621 261.4,620.5C266.4,620 271.4,619.5 276.5,619C281.5,618.6 286.5,618.1 291.6,617.7C296.6,617.3 301.6,616.9 306.7,616.5C311.7,616.2 316.7,615.8 321.8,615.5C326.8,615.1 331.8,614.8 336.9,614.4C341.9,614.1 346.9,613.7 352,613.4C357,613.1 362,612.7 367.1,612.4C372.1,612.1 377.1,611.8 382.2,611.4C387.2,611.1 392.2,610.8 397.2,610.5C402.3,610.2 407.3,609.9 412.3,609.6C417.4,609.4 422.4,609.1 427.4,608.8C432.5,608.5 437.5,608.3 442.5,608C447.6,607.8 452.6,607.5 457.6,607.3C462.7,607 467.7,606.8 472.7,606.6C477.8,606.4 482.8,606.2 487.8,606C492.9,605.8 497.9,605.6 502.9,605.4C508,605.2 513,605.1 518,604.9C523.1,604.7 528.1,604.5 533.1,604.4C538.2,604.2 543.2,604 548.2,603.9C553.3,603.7 558.3,603.5 563.3,603.4C568.4,603.2 573.4,603 578.4,602.9C583.5,602.7 588.5,602.6 593.5,602.5C598.5,602.3 603.6,602.2 608.6,602.1C613.6,601.9 618.7,601.8 623.7,601.7C628.7,601.6 633.8,601.5 638.8,601.3C643.8,601.2 648.9,601.1 653.9,601.1C658.9,601 664,600.9 669,600.8C674,600.7 681.6,600.6 684.1,600.6 M95.3,658C97.8,657.6 105.4,656.3 110.4,655.4C115.4,654.5 120.5,653.6 125.5,652.6C130.5,651.7 135.6,650.7 140.6,649.7C145.6,648.7 150.7,647.7 155.7,646.7C160.7,645.7 165.8,644.7 170.8,643.6C175.8,642.4 180.9,641.3 185.9,640C190.9,638.8 195.9,637.3 201,636C206,634.7 211,633.3 216.1,632.3C221.1,631.2 226.1,630.3 231.2,629.5C236.2,628.8 241.2,628.2 246.3,627.6C251.3,627 256.3,626.4 261.4,625.9C266.4,625.4 271.4,624.9 276.5,624.4C281.5,623.9 286.5,623.5 291.6,623.1C296.6,622.7 301.6,622.3 306.7,621.9C311.7,621.5 316.7,621.1 321.8,620.8C326.8,620.4 331.8,620.1 336.9,619.7C341.9,619.3 346.9,619 352,618.7C357,618.3 362,618 367.1,617.6C372.1,617.3 377.1,616.9 382.2,616.6C387.2,616.3 392.2,616 397.2,615.6C402.3,615.3 407.3,615 412.3,614.7C417.4,614.4 422.4,614.1 427.4,613.8C432.5,613.6 437.5,613.3 442.5,613C447.6,612.8 452.6,612.5 457.6,612.3C462.7,612 467.7,611.8 472.7,611.6C477.8,611.4 482.8,611.1 487.8,610.9C492.9,610.8 497.9,610.6 502.9,610.4C508,610.2 513,610 518,609.9C523.1,609.7 528.1,609.5 533.1,609.3C538.2,609.2 543.2,609 548.2,608.9C553.3,608.7 558.3,608.5 563.3,608.4C568.4,608.2 573.4,608.1 578.4,607.9C583.5,607.8 588.5,607.6 593.5,607.5C598.5,607.4 603.6,607.2 608.6,607.1C613.6,607 618.7,606.9 623.7,606.8C628.7,606.6 633.8,606.5 638.8,606.4C643.8,606.4 648.9,606.3 653.9,606.2C658.9,606.1 664,606 669,606C674,605.9 681.6,605.8 684.1,605.8 M95.3,663.6C97.8,663.1 105.4,661.8 110.4,660.9C115.4,660 120.5,659.1 125.5,658.2C130.5,657.2 135.6,656.2 140.6,655.2C145.6,654.2 150.7,653.2 155.7,652.2C160.7,651.2 165.8,650.2 170.8,649.1C175.8,647.9 180.9,646.8 185.9,645.5C190.9,644.3 195.9,642.8 201,641.5C206,640.2 211,638.9 216.1,637.8C221.1,636.7 226.1,635.8 231.2,635C236.2,634.2 241.2,633.7 246.3,633C251.3,632.4 256.3,631.9 261.4,631.3C266.4,630.8 271.4,630.2 276.5,629.8C281.5,629.3 286.5,628.8 291.6,628.4C296.6,627.9 301.6,627.5 306.7,627.1C311.7,626.7 316.7,626.3 321.8,626C326.8,625.6 331.8,625.2 336.9,624.9C341.9,624.5 346.9,624.1 352,623.8C357,623.4 362,623.1 367.1,622.7C372.1,622.3 377.1,622 382.2,621.7C387.2,621.3 392.2,621 397.2,620.7C402.3,620.3 407.3,620 412.3,619.7C417.4,619.4 422.4,619.1 427.4,618.8C432.5,618.5 437.5,618.2 442.5,617.9C447.6,617.7 452.6,617.4 457.6,617.1C462.7,616.9 467.7,616.7 472.7,616.4C477.8,616.2 482.8,616 487.8,615.8C492.9,615.6 497.9,615.4 502.9,615.3C508,615.1 513,614.9 518,614.8C523.1,614.6 528.1,614.4 533.1,614.2C538.2,614.1 543.2,613.9 548.2,613.8C553.3,613.6 558.3,613.4 563.3,613.3C568.4,613.1 573.4,613 578.4,612.9C583.5,612.7 588.5,612.6 593.5,612.4C598.5,612.3 603.6,612.2 608.6,612.1C613.6,612 618.7,611.8 623.7,611.7C628.7,611.6 633.8,611.5 638.8,611.5C643.8,611.4 648.9,611.3 653.9,611.2C658.9,611.2 664,611.1 669,611C674,611 681.6,610.9 684.1,610.9 M95.3,669C97.8,668.6 105.4,667.2 110.4,666.3C115.4,665.4 120.5,664.4 125.5,663.5C130.5,662.5 135.6,661.5 140.6,660.5C145.6,659.5 150.7,658.5 155.7,657.4C160.7,656.4 165.8,655.4 170.8,654.3C175.8,653.2 180.9,652 185.9,650.8C190.9,649.6 195.9,648.2 201,646.9C206,645.6 211,644.3 216.1,643.2C221.1,642.2 226.1,641.3 231.2,640.5C236.2,639.7 241.2,639.1 246.3,638.5C251.3,637.8 256.3,637.2 261.4,636.7C266.4,636.1 271.4,635.6 276.5,635.1C281.5,634.5 286.5,634.1 291.6,633.6C296.6,633.1 301.6,632.7 306.7,632.3C311.7,631.9 316.7,631.5 321.8,631.1C326.8,630.7 331.8,630.3 336.9,629.9C341.9,629.5 346.9,629.2 352,628.8C357,628.4 362,628 367.1,627.7C372.1,627.3 377.1,626.9 382.2,626.6C387.2,626.2 392.2,625.9 397.2,625.5C402.3,625.2 407.3,624.9 412.3,624.6C417.4,624.2 422.4,623.9 427.4,623.6C432.5,623.3 437.5,623 442.5,622.7C447.6,622.5 452.6,622.2 457.6,621.9C462.7,621.7 467.7,621.4 472.7,621.2C477.8,621 482.8,620.8 487.8,620.6C492.9,620.4 497.9,620.2 502.9,620.1C508,619.9 513,619.7 518,619.6C523.1,619.4 528.1,619.2 533.1,619.1C538.2,618.9 543.2,618.7 548.2,618.6C553.3,618.4 558.3,618.3 563.3,618.1C568.4,618 573.4,617.8 578.4,617.7C583.5,617.6 588.5,617.4 593.5,617.3C598.5,617.2 603.6,617.1 608.6,617C613.6,616.8 618.7,616.7 623.7,616.6C628.7,616.5 633.8,616.5 638.8,616.4C643.8,616.3 648.9,616.2 653.9,616.2C658.9,616.1 664,616.1 669,616C674,616 681.6,616 684.1,615.9 M95.3,674.5C97.8,674 105.4,672.6 110.4,671.6C115.4,670.6 120.5,669.6 125.5,668.6C130.5,667.6 135.6,666.5 140.6,665.5C145.6,664.5 150.7,663.4 155.7,662.4C160.7,661.4 165.8,660.3 170.8,659.2C175.8,658.1 180.9,657 185.9,655.8C190.9,654.6 195.9,653.3 201,652.1C206,650.9 211,649.7 216.1,648.7C221.1,647.6 226.1,646.8 231.2,646C236.2,645.2 241.2,644.6 246.3,643.9C251.3,643.2 256.3,642.6 261.4,642C266.4,641.4 271.4,640.9 276.5,640.3C281.5,639.8 286.5,639.3 291.6,638.8C296.6,638.3 301.6,637.8 306.7,637.4C311.7,636.9 316.7,636.5 321.8,636.1C326.8,635.7 331.8,635.3 336.9,634.9C341.9,634.5 346.9,634.1 352,633.7C357,633.3 362,632.9 367.1,632.5C372.1,632.2 377.1,631.8 382.2,631.4C387.2,631.1 392.2,630.7 397.2,630.4C402.3,630 407.3,629.7 412.3,629.3C417.4,629 422.4,628.7 427.4,628.4C432.5,628.1 437.5,627.8 442.5,627.5C447.6,627.2 452.6,626.9 457.6,626.7C462.7,626.4 467.7,626.2 472.7,625.9C477.8,625.7 482.8,625.5 487.8,625.3C492.9,625.1 497.9,625 502.9,624.8C508,624.6 513,624.5 518,624.3C523.1,624.1 528.1,624 533.1,623.8C538.2,623.7 543.2,623.5 548.2,623.4C553.3,623.2 558.3,623.1 563.3,622.9C568.4,622.8 573.4,622.6 578.4,622.5C583.5,622.4 588.5,622.2 593.5,622.1C598.5,622 603.6,621.9 608.6,621.8C613.6,621.7 618.7,621.6 623.7,621.5C628.7,621.4 633.8,621.3 638.8,621.2C643.8,621.1 648.9,621.1 653.9,621C658.9,621 664,620.9 669,620.9C674,620.9 681.6,620.9 684.1,620.9 M95.3,680C97.8,679.4 105.4,677.8 110.4,676.7C115.4,675.6 120.5,674.5 125.5,673.4C130.5,672.4 135.6,671.3 140.6,670.2C145.6,669.1 150.7,668.1 155.7,667C160.7,665.9 165.8,664.9 170.8,663.8C175.8,662.8 180.9,661.7 185.9,660.6C190.9,659.5 195.9,658.3 201,657.2C206,656.1 211,655 216.1,654C221.1,653.1 226.1,652.3 231.2,651.5C236.2,650.7 241.2,650 246.3,649.4C251.3,648.7 256.3,648 261.4,647.4C266.4,646.8 271.4,646.2 276.5,645.6C281.5,645 286.5,644.5 291.6,644C296.6,643.4 301.6,642.9 306.7,642.4C311.7,641.9 316.7,641.5 321.8,641C326.8,640.6 331.8,640.1 336.9,639.7C341.9,639.3 346.9,638.9 352,638.5C357,638.1 362,637.7 367.1,637.3C372.1,636.9 377.1,636.6 382.2,636.2C387.2,635.8 392.2,635.4 397.2,635.1C402.3,634.7 407.3,634.4 412.3,634.1C417.4,633.7 422.4,633.4 427.4,633.1C432.5,632.8 437.5,632.5 442.5,632.2C447.6,631.9 452.6,631.6 457.6,631.4C462.7,631.1 467.7,630.9 472.7,630.6C477.8,630.4 482.8,630.2 487.8,630C492.9,629.8 497.9,629.7 502.9,629.5C508,629.3 513,629.2 518,629C523.1,628.9 528.1,628.7 533.1,628.5C538.2,628.4 543.2,628.2 548.2,628.1C553.3,627.9 558.3,627.8 563.3,627.6C568.4,627.5 573.4,627.4 578.4,627.2C583.5,627.1 588.5,627 593.5,626.8C598.5,626.7 603.6,626.6 608.6,626.5C613.6,626.4 618.7,626.3 623.7,626.2C628.7,626.1 633.8,626 638.8,626C643.8,625.9 648.9,625.8 653.9,625.8C658.9,625.7 664,625.7 669,625.7C674,625.7 681.6,625.7 684.1,625.6 M95.3,685.4C97.8,684.8 105.4,682.9 110.4,681.6C115.4,680.4 120.5,679.2 125.5,678C130.5,676.8 135.6,675.6 140.6,674.5C145.6,673.4 150.7,672.3 155.7,671.2C160.7,670.1 165.8,669.1 170.8,668C175.8,667 180.9,666 185.9,665C190.9,664 195.9,663 201,662.1C206,661.1 211,660.2 216.1,659.3C221.1,658.5 226.1,657.7 231.2,657C236.2,656.2 241.2,655.5 246.3,654.9C251.3,654.2 256.3,653.5 261.4,652.8C266.4,652.2 271.4,651.5 276.5,650.9C281.5,650.3 286.5,649.7 291.6,649.1C296.6,648.5 301.6,648 306.7,647.5C311.7,646.9 316.7,646.4 321.8,645.9C326.8,645.4 331.8,644.9 336.9,644.5C341.9,644 346.9,643.6 352,643.2C357,642.8 362,642.4 367.1,642C372.1,641.6 377.1,641.3 382.2,640.9C387.2,640.5 392.2,640.1 397.2,639.8C402.3,639.4 407.3,639.1 412.3,638.7C417.4,638.4 422.4,638.1 427.4,637.8C432.5,637.5 437.5,637.1 442.5,636.9C447.6,636.6 452.6,636.3 457.6,636.1C462.7,635.8 467.7,635.6 472.7,635.3C477.8,635.1 482.8,634.9 487.8,634.7C492.9,634.5 497.9,634.4 502.9,634.2C508,634 513,633.9 518,633.7C523.1,633.5 528.1,633.4 533.1,633.2C538.2,633.1 543.2,632.9 548.2,632.8C553.3,632.6 558.3,632.4 563.3,632.3C568.4,632.2 573.4,632 578.4,631.9C583.5,631.8 588.5,631.6 593.5,631.5C598.5,631.4 603.6,631.3 608.6,631.2C613.6,631.1 618.7,631 623.7,630.9C628.7,630.8 633.8,630.7 638.8,630.6C643.8,630.6 648.9,630.5 653.9,630.4C658.9,630.4 664,630.4 669,630.3C674,630.3 681.6,630.3 684.1,630.3"/>
<path class="d" d="M330,40.1C332,42.2 337.9,48.6 341.8,52.7C345.7,56.7 349.7,60.7 353.6,64.6C357.5,68.4 361.5,72.2 365.4,75.8C369.3,79.5 373.3,83.1 377.2,86.5C381.1,90 385.1,93.4 389,96.7C393,100 396.9,103.2 400.8,106.3C404.8,109.4 408.7,112.4 412.6,115.3C416.6,118.3 420.5,121.1 424.4,123.9C428.4,126.7 432.3,129.4 436.2,132C440.2,134.7 444.1,137.2 448,139.7C452,142.2 455.9,144.6 459.8,146.9C463.8,149.3 467.7,151.6 471.6,153.8C475.6,156 479.5,158.2 483.4,160.3C487.4,162.4 491.3,164.4 495.2,166.4C499.2,168.4 503.1,170.3 507.1,172.2C511,174.1 514.9,175.9 518.9,177.7C522.8,179.5 526.7,181.2 530.7,182.9C534.6,184.6 538.5,186.3 542.5,187.9C546.4,189.5 550.3,191.1 554.3,192.7C558.2,194.2 562.1,195.7 566.1,197.2C570,198.7 573.9,200.2 577.9,201.6C581.8,203 585.7,204.4 589.7,205.8C593.6,207.2 597.5,208.6 601.5,209.9C605.4,211.3 609.3,212.6 613.3,213.9C617.2,215.2 621.1,216.5 625.1,217.8C629,219.1 633,220.4 636.9,221.7C640.8,223 644.8,224.2 648.7,225.5C652.6,226.8 656.6,228 660.5,229.3C664.4,230.6 668.4,231.9 672.3,233.2C676.2,234.4 682.1,236.4 684.1,237 M182,40.8C184,43.4 190,51.2 194,56.1C197.9,61.1 201.9,65.9 205.9,70.6C209.9,75.3 213.9,79.9 217.9,84.4C221.8,88.9 225.8,93.2 229.8,97.4C233.8,101.7 237.8,105.8 241.8,109.8C245.8,113.8 249.7,117.7 253.7,121.5C257.7,125.3 261.7,129 265.7,132.6C269.7,136.2 273.7,139.7 277.6,143.1C281.6,146.5 285.6,149.7 289.6,153C293.6,156.2 297.6,159.3 301.5,162.3C305.5,165.3 309.5,168.3 313.5,171.1C317.5,174 321.5,176.8 325.5,179.4C329.4,182.1 333.4,184.8 337.4,187.3C341.4,189.9 345.4,192.3 349.4,194.7C353.4,197.1 357.3,199.5 361.3,201.7C365.3,204 369.3,206.2 373.3,208.3C377.3,210.5 381.2,212.6 385.2,214.6C389.2,216.6 393.2,218.6 397.2,220.5C401.2,222.4 405.2,224.3 409.1,226.1C413.1,228 417.1,229.7 421.1,231.4C425.1,233.2 429.1,234.9 433.1,236.5C437,238.1 441,239.7 445,241.3C449,242.8 453,244.3 457,245.8C460.9,247.3 464.9,248.7 468.9,250.1C472.9,251.5 476.9,252.9 480.9,254.2C484.9,255.5 488.8,256.8 492.8,258.1C496.8,259.4 500.8,260.6 504.8,261.8C508.8,263 512.7,264.2 516.7,265.4C520.7,266.5 524.7,267.7 528.7,268.8C532.7,269.9 536.7,271 540.6,272.1C544.6,273.2 548.6,274.2 552.6,275.3C556.6,276.3 560.6,277.3 564.6,278.4C568.5,279.4 572.5,280.4 576.5,281.4C580.5,282.4 584.5,283.4 588.5,284.3C592.4,285.3 596.4,286.3 600.4,287.2C604.4,288.2 608.4,289.2 612.4,290.1C616.4,291.1 620.3,292.1 624.3,293C628.3,294 632.3,294.9 636.3,295.9C640.3,296.9 644.3,297.9 648.2,298.8C652.2,299.8 656.2,300.8 660.2,301.8C664.2,302.8 668.2,303.8 672.1,304.8C676.1,305.8 682.1,307.4 684.1,307.9 M92.3,68.4C94.3,70.9 100.4,78.4 104.4,83.2C108.4,88.1 112.4,92.8 116.5,97.4C120.5,102 124.5,106.5 128.5,110.9C132.6,115.3 136.6,119.6 140.6,123.8C144.6,128 148.7,132.1 152.7,136.1C156.7,140.1 160.7,144 164.8,147.9C168.8,151.7 172.8,155.4 176.8,159.1C180.9,162.7 184.9,166.2 188.9,169.7C192.9,173.2 197,176.5 201,179.8C205,183.1 209,186.3 213.1,189.4C217.1,192.6 221.1,195.6 225.2,198.6C229.2,201.6 233.2,204.4 237.2,207.3C241.3,210.1 245.3,212.8 249.3,215.5C253.3,218.1 257.4,220.7 261.4,223.3C265.4,225.8 269.4,228.2 273.5,230.6C277.5,233 281.5,235.3 285.5,237.6C289.6,239.9 293.6,242.1 297.6,244.2C301.6,246.3 305.7,248.4 309.7,250.4C313.7,252.5 317.7,254.4 321.8,256.3C325.8,258.3 329.8,260.1 333.9,261.9C337.9,263.7 341.9,265.5 345.9,267.2C350,268.9 354,270.5 358,272.1C362,273.8 366.1,275.3 370.1,276.8C374.1,278.4 378.1,279.8 382.2,281.3C386.2,282.7 390.2,284.1 394.2,285.5C398.3,286.9 402.3,288.2 406.3,289.5C410.3,290.8 414.4,292 418.4,293.3C422.4,294.5 426.4,295.7 430.5,296.8C434.5,298 438.5,299.1 442.5,300.3C446.6,301.4 450.6,302.4 454.6,303.5C458.7,304.5 462.7,305.6 466.7,306.6C470.7,307.6 474.8,308.5 478.8,309.5C482.8,310.4 486.8,311.4 490.9,312.3C494.9,313.2 498.9,314.1 502.9,315C507,315.9 511,316.7 515,317.6C519,318.4 523.1,319.2 527.1,320C531.1,320.9 535.1,321.7 539.2,322.4C543.2,323.2 547.2,324 551.2,324.8C555.3,325.6 559.3,326.3 563.3,327.1C567.4,327.8 571.4,328.6 575.4,329.3C579.4,330.1 583.5,330.8 587.5,331.5C591.5,332.3 595.5,333 599.6,333.7C603.6,334.5 607.6,335.2 611.6,335.9C615.7,336.6 619.7,337.4 623.7,338.1C627.7,338.9 631.8,339.6 635.8,340.3C639.8,341.1 643.8,341.8 647.9,342.6C651.9,343.4 655.9,344.1 659.9,344.9C664,345.7 668,346.5 672,347.3C676,348.1 682.1,349.3 684.1,349.7 M92.3,185.8C94.3,187.3 100.4,192 104.4,195C108.4,198 112.4,201 116.5,203.9C120.5,206.8 124.5,209.6 128.5,212.4C132.6,215.2 136.6,218 140.6,220.6C144.6,223.3 148.7,225.9 152.7,228.5C156.7,231.1 160.7,233.6 164.8,236.1C168.8,238.5 172.8,241 176.8,243.3C180.9,245.7 184.9,248 188.9,250.3C192.9,252.5 197,254.8 201,256.9C205,259.1 209,261.2 213.1,263.3C217.1,265.4 221.1,267.4 225.2,269.4C229.2,271.4 233.2,273.4 237.2,275.3C241.3,277.2 245.3,279 249.3,280.8C253.3,282.7 257.4,284.4 261.4,286.2C265.4,287.9 269.4,289.6 273.5,291.3C277.5,292.9 281.5,294.6 285.5,296.1C289.6,297.7 293.6,299.3 297.6,300.8C301.6,302.3 305.7,303.8 309.7,305.2C313.7,306.6 317.7,308 321.8,309.4C325.8,310.8 329.8,312.1 333.9,313.4C337.9,314.7 341.9,316 345.9,317.3C350,318.5 354,319.7 358,320.9C362,322.1 366.1,323.3 370.1,324.4C374.1,325.5 378.1,326.6 382.2,327.7C386.2,328.8 390.2,329.8 394.2,330.9C398.3,331.9 402.3,332.9 406.3,333.9C410.3,334.9 414.4,335.8 418.4,336.8C422.4,337.7 426.4,338.6 430.5,339.5C434.5,340.4 438.5,341.3 442.5,342.1C446.6,343 450.6,343.8 454.6,344.6C458.7,345.5 462.7,346.3 466.7,347C470.7,347.8 474.8,348.6 478.8,349.3C482.8,350.1 486.8,350.8 490.9,351.6C494.9,352.3 498.9,353 502.9,353.7C507,354.4 511,355.1 515,355.7C519,356.4 523.1,357.1 527.1,357.7C531.1,358.4 535.1,359 539.2,359.6C543.2,360.3 547.2,360.9 551.2,361.5C555.3,362.1 559.3,362.8 563.3,363.4C567.4,364 571.4,364.6 575.4,365.2C579.4,365.8 583.5,366.3 587.5,366.9C591.5,367.5 595.5,368.1 599.6,368.7C603.6,369.3 607.6,369.8 611.6,370.4C615.7,371 619.7,371.6 623.7,372.2C627.7,372.8 631.8,373.3 635.8,373.9C639.8,374.5 643.8,375.1 647.9,375.7C651.9,376.3 655.9,376.9 659.9,377.5C664,378.1 668,378.7 672,379.3C676,379.9 682.1,380.8 684.1,381.1 M92.3,267.2C94.3,268.2 100.4,271.1 104.4,273.1C108.4,275 112.4,276.9 116.5,278.7C120.5,280.6 124.5,282.4 128.5,284.2C132.6,286 136.6,287.8 140.6,289.5C144.6,291.3 148.7,293 152.7,294.7C156.7,296.3 160.7,298 164.8,299.6C168.8,301.2 172.8,302.8 176.8,304.4C180.9,305.9 184.9,307.5 188.9,309C192.9,310.5 197,311.9 201,313.4C205,314.8 209,316.3 213.1,317.7C217.1,319.1 221.1,320.4 225.2,321.8C229.2,323.1 233.2,324.4 237.2,325.7C241.3,327 245.3,328.3 249.3,329.6C253.3,330.8 257.4,332 261.4,333.2C265.4,334.4 269.4,335.6 273.5,336.8C277.5,337.9 281.5,339 285.5,340.2C289.6,341.3 293.6,342.4 297.6,343.4C301.6,344.5 305.7,345.5 309.7,346.6C313.7,347.6 317.7,348.6 321.8,349.6C325.8,350.6 329.8,351.5 333.9,352.5C337.9,353.4 341.9,354.4 345.9,355.3C350,356.2 354,357.1 358,357.9C362,358.8 366.1,359.7 370.1,360.5C374.1,361.4 378.1,362.2 382.2,363C386.2,363.8 390.2,364.6 394.2,365.4C398.3,366.1 402.3,366.9 406.3,367.7C410.3,368.4 414.4,369.1 418.4,369.8C422.4,370.6 426.4,371.3 430.5,372C434.5,372.7 438.5,373.3 442.5,374C446.6,374.7 450.6,375.3 454.6,376C458.7,376.6 462.7,377.2 466.7,377.9C470.7,378.5 474.8,379.1 478.8,379.7C482.8,380.3 486.8,380.9 490.9,381.4C494.9,382 498.9,382.6 502.9,383.2C507,383.7 511,384.3 515,384.8C519,385.4 523.1,385.9 527.1,386.4C531.1,386.9 535.1,387.5 539.2,388C543.2,388.5 547.2,389 551.2,389.5C555.3,390 559.3,390.5 563.3,391C567.4,391.5 571.4,392 575.4,392.4C579.4,392.9 583.5,393.4 587.5,393.9C591.5,394.3 595.5,394.8 599.6,395.3C603.6,395.7 607.6,396.2 611.6,396.7C615.7,397.1 619.7,397.6 623.7,398C627.7,398.5 631.8,399 635.8,399.4C639.8,399.9 643.8,400.3 647.9,400.8C651.9,401.2 655.9,401.7 659.9,402.1C664,402.6 668,403 672,403.5C676,403.9 682.1,404.6 684.1,404.9 M92.3,332C94.3,332.5 100.4,334 104.4,334.9C108.4,335.9 112.4,336.9 116.5,337.8C120.5,338.8 124.5,339.7 128.5,340.7C132.6,341.6 136.6,342.6 140.6,343.5C144.6,344.4 148.7,345.4 152.7,346.3C156.7,347.2 160.7,348.1 164.8,349C168.8,349.9 172.8,350.8 176.8,351.7C180.9,352.6 184.9,353.5 188.9,354.4C192.9,355.2 197,356.1 201,357C205,357.8 209,358.7 213.1,359.6C217.1,360.4 221.1,361.2 225.2,362.1C229.2,362.9 233.2,363.7 237.2,364.6C241.3,365.4 245.3,366.2 249.3,367C253.3,367.8 257.4,368.6 261.4,369.4C265.4,370.2 269.4,371 273.5,371.8C277.5,372.6 281.5,373.3 285.5,374.1C289.6,374.9 293.6,375.6 297.6,376.4C301.6,377.1 305.7,377.9 309.7,378.6C313.7,379.3 317.7,380.1 321.8,380.8C325.8,381.5 329.8,382.2 333.9,382.9C337.9,383.6 341.9,384.3 345.9,385C350,385.7 354,386.4 358,387.1C362,387.8 366.1,388.4 370.1,389.1C374.1,389.7 378.1,390.4 382.2,391C386.2,391.7 390.2,392.3 394.2,393C398.3,393.6 402.3,394.2 406.3,394.8C410.3,395.4 414.4,396.1 418.4,396.7C422.4,397.3 426.4,397.8 430.5,398.4C434.5,399 438.5,399.6 442.5,400.2C446.6,400.7 450.6,401.3 454.6,401.8C458.7,402.4 462.7,402.9 466.7,403.5C470.7,404 474.8,404.5 478.8,405.1C482.8,405.6 486.8,406.1 490.9,406.6C494.9,407.1 498.9,407.6 502.9,408.1C507,408.6 511,409.1 515,409.5C519,410 523.1,410.5 527.1,410.9C531.1,411.4 535.1,411.8 539.2,412.3C543.2,412.7 547.2,413.1 551.2,413.5C555.3,414 559.3,414.4 563.3,414.8C567.4,415.2 571.4,415.6 575.4,416C579.4,416.4 583.5,416.8 587.5,417.1C591.5,417.5 595.5,417.9 599.6,418.2C603.6,418.6 607.6,418.9 611.6,419.2C615.7,419.6 619.7,419.9 623.7,420.2C627.7,420.6 631.8,420.9 635.8,421.2C639.8,421.5 643.8,421.8 647.9,422.1C651.9,422.3 655.9,422.6 659.9,422.9C664,423.1 668,423.4 672,423.7C676,423.9 682.1,424.3 684.1,424.4 M684.1,444.7C671.6,443.8 633.9,441.3 609.4,439.2C584.9,437.1 561.4,434.6 537,432.2C512.6,429.8 487.7,427.2 463,424.6C438.3,422 413.7,419.1 389,416.3C364.3,413.5 339.7,411.1 315,408C290.3,404.9 260.2,400.3 241,398C221.8,395.7 212.6,395.1 200,394.1C187.4,393.1 175.2,392.4 165.3,392C155.4,391.6 148.5,391.4 140.4,392C132.3,392.6 122.7,394.1 116.8,395.5C110.9,396.9 108.8,398.6 105,400.3C101.2,402.1 96.1,405.1 94.3,406 M94.3,444.6C96.3,445.7 102.3,448.9 106.3,450.9C110.3,452.8 114.4,454.6 118.4,456.4C122.4,458.1 126.4,459.6 130.4,461.1C134.4,462.6 138.4,464 142.4,465.3C146.5,466.5 150.5,467.7 154.5,468.8C158.5,469.9 162.5,470.9 166.5,471.8C170.5,472.8 174.5,473.6 178.6,474.4C182.6,475.1 186.6,475.8 190.6,476.5C194.6,477.1 198.6,477.7 202.6,478.3C206.6,478.8 210.7,479.3 214.7,479.8C218.7,480.2 222.7,480.6 226.7,481C230.7,481.4 234.7,481.7 238.7,482.1C242.8,482.4 246.8,482.7 250.8,483C254.8,483.3 258.8,483.6 262.8,483.9C266.8,484.1 270.8,484.4 274.9,484.6C278.9,484.8 282.9,485 286.9,485.2C290.9,485.5 294.9,485.6 298.9,485.8C302.9,486 306.9,486.1 311,486.3C315,486.4 319,486.6 323,486.7C327,486.8 331,486.9 335,487C339,487.1 343.1,487.2 347.1,487.2C351.1,487.3 355.1,487.4 359.1,487.4C363.1,487.5 367.1,487.5 371.1,487.5C375.2,487.5 379.2,487.6 383.2,487.6C387.2,487.6 391.2,487.6 395.2,487.6C399.2,487.6 403.2,487.6 407.3,487.5C411.3,487.5 415.3,487.5 419.3,487.4C423.3,487.4 427.3,487.4 431.3,487.3C435.3,487.3 439.4,487.2 443.4,487.1C447.4,487.1 451.4,487 455.4,486.9C459.4,486.9 463.4,486.8 467.4,486.7C471.5,486.6 475.5,486.6 479.5,486.5C483.5,486.4 487.5,486.3 491.5,486.2C495.5,486.1 499.5,486 503.5,485.9C507.6,485.8 511.6,485.7 515.6,485.6C519.6,485.5 523.6,485.4 527.6,485.4C531.6,485.3 535.6,485.2 539.7,485.1C543.7,485 547.7,484.9 551.7,484.8C555.7,484.7 559.7,484.6 563.7,484.5C567.7,484.4 571.8,484.3 575.8,484.2C579.8,484.2 583.8,484.1 587.8,484C591.8,483.9 595.8,483.9 599.8,483.8C603.9,483.7 607.9,483.7 611.9,483.6C615.9,483.5 619.9,483.5 623.9,483.5C627.9,483.4 631.9,483.4 636,483.3C640,483.3 644,483.3 648,483.3C652,483.2 656,483.2 660,483.2C664,483.2 668.1,483.2 672.1,483.2C676.1,483.3 682.1,483.3 684.1,483.3 M93.3,486C95.3,486.2 101.3,487 105.4,487.4C109.4,487.9 113.4,488.3 117.4,488.7C121.4,489.2 125.5,489.6 129.5,490C133.5,490.4 137.5,490.8 141.5,491.1C145.5,491.5 149.6,491.9 153.6,492.2C157.6,492.5 161.6,492.9 165.6,493.2C169.7,493.5 173.7,493.8 177.7,494.1C181.7,494.4 185.7,494.6 189.8,494.9C193.8,495.2 197.8,495.4 201.8,495.6C205.8,495.9 209.9,496.1 213.9,496.3C217.9,496.5 221.9,496.7 225.9,496.9C229.9,497.1 234,497.3 238,497.5C242,497.6 246,497.8 250,497.9C254.1,498.1 258.1,498.2 262.1,498.3C266.1,498.5 270.1,498.6 274.2,498.7C278.2,498.8 282.2,498.9 286.2,499C290.2,499.1 294.3,499.2 298.3,499.2C302.3,499.3 306.3,499.4 310.3,499.4C314.3,499.5 318.4,499.5 322.4,499.6C326.4,499.6 330.4,499.6 334.4,499.7C338.5,499.7 342.5,499.7 346.5,499.7C350.5,499.7 354.5,499.7 358.6,499.7C362.6,499.7 366.6,499.7 370.6,499.7C374.6,499.7 378.7,499.7 382.7,499.7C386.7,499.7 390.7,499.6 394.7,499.6C398.7,499.6 402.8,499.5 406.8,499.5C410.8,499.5 414.8,499.4 418.8,499.4C422.9,499.3 426.9,499.3 430.9,499.2C434.9,499.2 438.9,499.1 443,499C447,499 451,498.9 455,498.8C459,498.8 463.1,498.7 467.1,498.6C471.1,498.6 475.1,498.5 479.1,498.4C483.1,498.3 487.2,498.3 491.2,498.2C495.2,498.1 499.2,498 503.2,498C507.3,497.9 511.3,497.8 515.3,497.7C519.3,497.7 523.3,497.6 527.4,497.5C531.4,497.4 535.4,497.4 539.4,497.3C543.4,497.2 547.5,497.1 551.5,497.1C555.5,497 559.5,496.9 563.5,496.8C567.5,496.8 571.6,496.7 575.6,496.6C579.6,496.6 583.6,496.5 587.6,496.5C591.7,496.4 595.7,496.3 599.7,496.3C603.7,496.2 607.7,496.2 611.8,496.1C615.8,496.1 619.8,496.1 623.8,496C627.8,496 631.9,495.9 635.9,495.9C639.9,495.9 643.9,495.9 647.9,495.8C651.9,495.8 656,495.8 660,495.8C664,495.8 668,495.8 672,495.8C676.1,495.8 682.1,495.8 684.1,495.8 M93.3,509.2C95.3,509.3 101.3,509.6 105.4,509.7C109.4,509.8 113.4,510 117.4,510.1C121.4,510.2 125.5,510.4 129.5,510.5C133.5,510.6 137.5,510.7 141.5,510.8C145.5,510.9 149.6,511 153.6,511.1C157.6,511.2 161.6,511.3 165.6,511.3C169.7,511.4 173.7,511.5 177.7,511.5C181.7,511.6 185.7,511.7 189.8,511.7C193.8,511.8 197.8,511.8 201.8,511.8C205.8,511.9 209.9,511.9 213.9,511.9C217.9,512 221.9,512 225.9,512C229.9,512 234,512 238,512C242,512.1 246,512.1 250,512.1C254.1,512.1 258.1,512.1 262.1,512C266.1,512 270.1,512 274.2,512C278.2,512 282.2,512 286.2,511.9C290.2,511.9 294.3,511.9 298.3,511.8C302.3,511.8 306.3,511.8 310.3,511.7C314.3,511.7 318.4,511.6 322.4,511.6C326.4,511.5 330.4,511.5 334.4,511.4C338.5,511.4 342.5,511.3 346.5,511.3C350.5,511.2 354.5,511.1 358.6,511.1C362.6,511 366.6,510.9 370.6,510.9C374.6,510.8 378.7,510.7 382.7,510.7C386.7,510.6 390.7,510.5 394.7,510.4C398.7,510.3 402.8,510.3 406.8,510.2C410.8,510.1 414.8,510 418.8,509.9C422.9,509.9 426.9,509.8 430.9,509.7C434.9,509.6 438.9,509.5 443,509.4C447,509.3 451,509.3 455,509.2C459,509.1 463.1,509 467.1,508.9C471.1,508.8 475.1,508.7 479.1,508.6C483.1,508.6 487.2,508.5 491.2,508.4C495.2,508.3 499.2,508.2 503.2,508.1C507.3,508 511.3,507.9 515.3,507.8C519.3,507.8 523.3,507.7 527.4,507.6C531.4,507.5 535.4,507.4 539.4,507.3C543.4,507.3 547.5,507.2 551.5,507.1C555.5,507 559.5,506.9 563.5,506.9C567.5,506.8 571.6,506.7 575.6,506.6C579.6,506.6 583.6,506.5 587.6,506.4C591.7,506.4 595.7,506.3 599.7,506.2C603.7,506.2 607.7,506.1 611.8,506C615.8,506 619.8,505.9 623.8,505.9C627.8,505.8 631.9,505.8 635.9,505.7C639.9,505.7 643.9,505.6 647.9,505.6C651.9,505.6 656,505.5 660,505.5C664,505.5 668,505.4 672,505.4C676.1,505.4 682.1,505.4 684.1,505.3 M217.4,443.3C217.8,440.8 225.2,437.4 229.1,435.7C233,434 234.8,433.5 241,432.9C247.2,432.3 253.7,432 266,432.2C278.3,432.4 294.5,433 315,434.3C335.5,435.6 364.3,437.7 389,439.9C413.7,442.1 442.8,445.3 463,447.5C483.2,449.7 497.7,451.4 510,453C522.3,454.6 530.9,456.1 537,457.2C543.1,458.3 544.4,458.8 546.5,459.5C548.6,460.2 549.6,460.8 549.5,461.6C549.4,462.5 548.1,463.8 546,464.6C543.9,465.4 544.7,465.4 537,466.2C529.3,467 512.3,468.4 500,469.2C487.7,469.9 481.5,470.4 463,470.7C444.5,471 413.7,471.5 389,471.1C364.3,470.7 333.7,469.5 315,468.3C296.3,467.1 289.3,465.8 277,464C264.7,462.2 249.4,459.8 241,457.6C232.6,455.4 230.3,453.4 226.4,451C222.5,448.6 217,445.9 217.4,443.3Z"/>
<path class="d db" d="M92.3,526.6C92.8,526.5 92.3,526.2 95.3,526C98.3,525.9 105.4,525.8 110.4,525.6C115.4,525.5 120.5,525.4 125.5,525.3C130.5,525.1 135.6,525 140.6,524.9C145.6,524.8 150.7,524.7 155.7,524.5C160.7,524.4 165.8,524.3 170.8,524.2C175.8,524.1 180.9,524 185.9,523.9C190.9,523.8 195.9,523.7 201,523.7C206,523.6 211,523.5 216.1,523.4C221.1,523.3 226.1,523.2 231.2,523.1C236.2,523 241.2,522.9 246.3,522.8C251.3,522.7 256.3,522.6 261.4,522.5C266.4,522.3 271.4,522.2 276.5,522.1C281.5,522 286.5,521.9 291.6,521.7C296.6,521.6 301.6,521.5 306.7,521.4C311.7,521.3 316.7,521.2 321.8,521C326.8,520.9 331.8,520.8 336.9,520.7C341.9,520.6 346.9,520.5 352,520.4C357,520.3 362,520.2 367.1,520.1C372.1,520 377.1,519.9 382.2,519.8C387.2,519.7 392.2,519.6 397.2,519.5C402.3,519.4 407.3,519.3 412.3,519.2C417.4,519.1 422.4,519 427.4,518.9C432.5,518.8 437.5,518.7 442.5,518.6C447.6,518.5 452.6,518.4 457.6,518.3C462.7,518.2 467.7,518.1 472.7,518C477.8,517.9 482.8,517.8 487.8,517.7C492.9,517.7 497.9,517.6 502.9,517.5C508,517.4 513,517.3 518,517.2C523.1,517.1 528.1,517 533.1,516.9C538.2,516.8 543.2,516.8 548.2,516.7C553.3,516.6 558.3,516.5 563.3,516.4C568.4,516.3 573.4,516.2 578.4,516.1C583.5,516.1 588.5,516 593.5,515.9C598.5,515.8 603.6,515.7 608.6,515.6C613.6,515.5 618.7,515.5 623.7,515.4C628.7,515.3 633.8,515.2 638.8,515.1C643.8,515 648.9,515 653.9,514.9C658.9,514.8 664,514.7 669,514.6C674,514.6 681.6,514.4 684.1,514.4 M92.3,542.4C92.8,542.3 92.3,542.1 95.3,541.8C98.3,541.5 105.4,541.1 110.4,540.7C115.4,540.3 120.5,540 125.5,539.7C130.5,539.3 135.6,539 140.6,538.7C145.6,538.3 150.7,538 155.7,537.8C160.7,537.5 165.8,537.2 170.8,536.9C175.8,536.6 180.9,536.4 185.9,536.1C190.9,535.9 195.9,535.7 201,535.5C206,535.2 211,535 216.1,534.8C221.1,534.6 226.1,534.4 231.2,534.2C236.2,534 241.2,533.7 246.3,533.5C251.3,533.3 256.3,533.1 261.4,532.9C266.4,532.6 271.4,532.4 276.5,532.2C281.5,532 286.5,531.8 291.6,531.6C296.6,531.3 301.6,531.1 306.7,530.9C311.7,530.7 316.7,530.5 321.8,530.4C326.8,530.2 331.8,530 336.9,529.8C341.9,529.7 346.9,529.5 352,529.4C357,529.2 362,529.1 367.1,528.9C372.1,528.8 377.1,528.7 382.2,528.5C387.2,528.4 392.2,528.3 397.2,528.2C402.3,528.1 407.3,527.9 412.3,527.8C417.4,527.7 422.4,527.6 427.4,527.5C432.5,527.4 437.5,527.3 442.5,527.2C447.6,527.1 452.6,527 457.6,526.9C462.7,526.8 467.7,526.7 472.7,526.6C477.8,526.5 482.8,526.4 487.8,526.3C492.9,526.2 497.9,526.1 502.9,526C508,525.9 513,525.7 518,525.6C523.1,525.5 528.1,525.4 533.1,525.3C538.2,525.2 543.2,525.1 548.2,525C553.3,524.9 558.3,524.8 563.3,524.8C568.4,524.7 573.4,524.6 578.4,524.5C583.5,524.4 588.5,524.3 593.5,524.2C598.5,524.1 603.6,524 608.6,523.9C613.6,523.8 618.7,523.7 623.7,523.6C628.7,523.5 633.8,523.4 638.8,523.4C643.8,523.3 648.9,523.2 653.9,523.1C658.9,523 664,522.9 669,522.8C674,522.7 681.6,522.6 684.1,522.6 M92.3,556.6C92.8,556.5 92.3,556.4 95.3,556C98.3,555.6 105.4,554.9 110.4,554.3C115.4,553.8 120.5,553.2 125.5,552.7C130.5,552.2 135.6,551.7 140.6,551.2C145.6,550.7 150.7,550.2 155.7,549.8C160.7,549.3 165.8,548.9 170.8,548.5C175.8,548.1 180.9,547.7 185.9,547.3C190.9,547 195.9,546.6 201,546.3C206,545.9 211,545.6 216.1,545.3C221.1,545 226.1,544.7 231.2,544.3C236.2,544 241.2,543.7 246.3,543.4C251.3,543.1 256.3,542.8 261.4,542.5C266.4,542.2 271.4,541.9 276.5,541.6C281.5,541.3 286.5,541 291.6,540.7C296.6,540.4 301.6,540.2 306.7,539.9C311.7,539.6 316.7,539.4 321.8,539.1C326.8,538.9 331.8,538.7 336.9,538.5C341.9,538.3 346.9,538.1 352,537.9C357,537.7 362,537.5 367.1,537.4C372.1,537.2 377.1,537.1 382.2,536.9C387.2,536.8 392.2,536.6 397.2,536.5C402.3,536.4 407.3,536.2 412.3,536.1C417.4,536 422.4,535.9 427.4,535.7C432.5,535.6 437.5,535.5 442.5,535.4C447.6,535.3 452.6,535.2 457.6,535.1C462.7,534.9 467.7,534.8 472.7,534.7C477.8,534.6 482.8,534.5 487.8,534.4C492.9,534.3 497.9,534.1 502.9,534C508,533.9 513,533.8 518,533.7C523.1,533.6 528.1,533.5 533.1,533.4C538.2,533.2 543.2,533.1 548.2,533C553.3,532.9 558.3,532.8 563.3,532.7C568.4,532.6 573.4,532.5 578.4,532.4C583.5,532.3 588.5,532.2 593.5,532.1C598.5,532 603.6,531.8 608.6,531.7C613.6,531.6 618.7,531.5 623.7,531.4C628.7,531.3 633.8,531.2 638.8,531.2C643.8,531.1 648.9,531 653.9,530.9C658.9,530.8 664,530.7 669,530.6C674,530.5 681.6,530.4 684.1,530.3 M92.3,569.4C92.8,569.3 92.3,569.3 95.3,568.8C98.3,568.4 105.4,567.3 110.4,566.6C115.4,565.9 120.5,565.2 125.5,564.6C130.5,563.9 135.6,563.2 140.6,562.6C145.6,562 150.7,561.4 155.7,560.8C160.7,560.2 165.8,559.7 170.8,559.1C175.8,558.6 180.9,558.1 185.9,557.6C190.9,557.1 195.9,556.6 201,556.2C206,555.7 211,555.3 216.1,554.9C221.1,554.5 226.1,554.1 231.2,553.7C236.2,553.3 241.2,552.9 246.3,552.6C251.3,552.2 256.3,551.8 261.4,551.4C266.4,551.1 271.4,550.7 276.5,550.3C281.5,550 286.5,549.6 291.6,549.3C296.6,549 301.6,548.6 306.7,548.3C311.7,548 316.7,547.7 321.8,547.4C326.8,547.2 331.8,546.9 336.9,546.7C341.9,546.4 346.9,546.2 352,546C357,545.8 362,545.6 367.1,545.4C372.1,545.3 377.1,545.1 382.2,544.9C387.2,544.8 392.2,544.6 397.2,544.5C402.3,544.3 407.3,544.2 412.3,544C417.4,543.9 422.4,543.7 427.4,543.6C432.5,543.5 437.5,543.4 442.5,543.2C447.6,543.1 452.6,543 457.6,542.8C462.7,542.7 467.7,542.6 472.7,542.5C477.8,542.4 482.8,542.2 487.8,542.1C492.9,542 497.9,541.9 502.9,541.7C508,541.6 513,541.5 518,541.4C523.1,541.2 528.1,541.1 533.1,541C538.2,540.9 543.2,540.7 548.2,540.6C553.3,540.5 558.3,540.4 563.3,540.3C568.4,540.1 573.4,540 578.4,539.9C583.5,539.8 588.5,539.7 593.5,539.6C598.5,539.4 603.6,539.3 608.6,539.2C613.6,539.1 618.7,539 623.7,538.9C628.7,538.8 633.8,538.7 638.8,538.6C643.8,538.5 648.9,538.4 653.9,538.3C658.9,538.2 664,538.1 669,538C674,537.9 681.6,537.7 684.1,537.7 M92.3,581C92.8,580.9 92.3,580.9 95.3,580.4C98.3,579.8 105.4,578.6 110.4,577.8C115.4,577 120.5,576.1 125.5,575.4C130.5,574.6 135.6,573.8 140.6,573.1C145.6,572.3 150.7,571.6 155.7,570.9C160.7,570.2 165.8,569.6 170.8,568.9C175.8,568.3 180.9,567.7 185.9,567.1C190.9,566.5 195.9,565.9 201,565.4C206,564.8 211,564.3 216.1,563.8C221.1,563.3 226.1,562.8 231.2,562.3C236.2,561.9 241.2,561.5 246.3,561C251.3,560.6 256.3,560.2 261.4,559.7C266.4,559.3 271.4,558.9 276.5,558.5C281.5,558.1 286.5,557.7 291.6,557.4C296.6,557 301.6,556.6 306.7,556.3C311.7,556 316.7,555.6 321.8,555.3C326.8,555 331.8,554.7 336.9,554.5C341.9,554.2 346.9,554 352,553.8C357,553.5 362,553.3 367.1,553.1C372.1,552.9 377.1,552.7 382.2,552.6C387.2,552.4 392.2,552.2 397.2,552C402.3,551.9 407.3,551.7 412.3,551.6C417.4,551.4 422.4,551.3 427.4,551.1C432.5,551 437.5,550.8 442.5,550.7C447.6,550.6 452.6,550.4 457.6,550.3C462.7,550.2 467.7,550 472.7,549.9C477.8,549.8 482.8,549.6 487.8,549.5C492.9,549.3 497.9,549.2 502.9,549.1C508,548.9 513,548.8 518,548.7C523.1,548.5 528.1,548.4 533.1,548.3C538.2,548.1 543.2,548 548.2,547.9C553.3,547.7 558.3,547.6 563.3,547.5C568.4,547.3 573.4,547.2 578.4,547.1C583.5,547 588.5,546.8 593.5,546.7C598.5,546.6 603.6,546.5 608.6,546.3C613.6,546.2 618.7,546.1 623.7,546C628.7,545.9 633.8,545.8 638.8,545.6C643.8,545.5 648.9,545.4 653.9,545.3C658.9,545.2 664,545.1 669,545C674,544.9 681.6,544.7 684.1,544.7 M92.3,591.4C92.8,591.3 92.3,591.4 95.3,590.8C98.3,590.2 105.4,588.9 110.4,588C115.4,587 120.5,586.1 125.5,585.3C130.5,584.4 135.6,583.5 140.6,582.7C145.6,581.9 150.7,581.1 155.7,580.3C160.7,579.5 165.8,578.8 170.8,578C175.8,577.3 180.9,576.6 185.9,575.9C190.9,575.2 195.9,574.5 201,573.9C206,573.2 211,572.6 216.1,572C221.1,571.4 226.1,570.9 231.2,570.4C236.2,569.9 241.2,569.4 246.3,568.9C251.3,568.4 256.3,568 261.4,567.5C266.4,567.1 271.4,566.6 276.5,566.2C281.5,565.8 286.5,565.4 291.6,565C296.6,564.6 301.6,564.2 306.7,563.9C311.7,563.5 316.7,563.2 321.8,562.8C326.8,562.5 331.8,562.2 336.9,561.9C341.9,561.6 346.9,561.4 352,561.2C357,560.9 362,560.7 367.1,560.5C372.1,560.3 377.1,560.1 382.2,559.9C387.2,559.7 392.2,559.5 397.2,559.3C402.3,559.1 407.3,558.9 412.3,558.8C417.4,558.6 422.4,558.5 427.4,558.3C432.5,558.1 437.5,558 442.5,557.8C447.6,557.7 452.6,557.5 457.6,557.4C462.7,557.2 467.7,557.1 472.7,557C477.8,556.8 482.8,556.7 487.8,556.5C492.9,556.4 497.9,556.2 502.9,556.1C508,555.9 513,555.8 518,555.6C523.1,555.5 528.1,555.3 533.1,555.2C538.2,555.1 543.2,554.9 548.2,554.8C553.3,554.6 558.3,554.5 563.3,554.4C568.4,554.2 573.4,554.1 578.4,553.9C583.5,553.8 588.5,553.7 593.5,553.5C598.5,553.4 603.6,553.3 608.6,553.1C613.6,553 618.7,552.9 623.7,552.8C628.7,552.6 633.8,552.5 638.8,552.4C643.8,552.3 648.9,552.2 653.9,552C658.9,551.9 664,551.8 669,551.7C674,551.6 681.6,551.4 684.1,551.4 M92.3,600.9C92.8,600.8 92.3,600.9 95.3,600.3C98.3,599.7 105.4,598.2 110.4,597.3C115.4,596.3 120.5,595.3 125.5,594.4C130.5,593.4 135.6,592.5 140.6,591.6C145.6,590.7 150.7,589.9 155.7,589C160.7,588.2 165.8,587.3 170.8,586.5C175.8,585.7 180.9,584.9 185.9,584.1C190.9,583.3 195.9,582.5 201,581.8C206,581 211,580.3 216.1,579.7C221.1,579 226.1,578.4 231.2,577.9C236.2,577.3 241.2,576.8 246.3,576.3C251.3,575.8 256.3,575.3 261.4,574.8C266.4,574.4 271.4,573.9 276.5,573.5C281.5,573 286.5,572.6 291.6,572.2C296.6,571.8 301.6,571.4 306.7,571C311.7,570.7 316.7,570.3 321.8,570C326.8,569.6 331.8,569.3 336.9,569C341.9,568.7 346.9,568.5 352,568.2C357,568 362,567.7 367.1,567.5C372.1,567.3 377.1,567.1 382.2,566.8C387.2,566.6 392.2,566.4 397.2,566.2C402.3,566 407.3,565.9 412.3,565.7C417.4,565.5 422.4,565.3 427.4,565.2C432.5,565 437.5,564.8 442.5,564.7C447.6,564.5 452.6,564.3 457.6,564.2C462.7,564 467.7,563.9 472.7,563.7C477.8,563.6 482.8,563.4 487.8,563.2C492.9,563.1 497.9,562.9 502.9,562.8C508,562.6 513,562.5 518,562.3C523.1,562.1 528.1,562 533.1,561.8C538.2,561.7 543.2,561.5 548.2,561.4C553.3,561.2 558.3,561.1 563.3,560.9C568.4,560.8 573.4,560.6 578.4,560.5C583.5,560.4 588.5,560.2 593.5,560.1C598.5,559.9 603.6,559.8 608.6,559.7C613.6,559.5 618.7,559.4 623.7,559.3C628.7,559.1 633.8,559 638.8,558.9C643.8,558.8 648.9,558.6 653.9,558.5C658.9,558.4 664,558.3 669,558.1C674,558 681.6,557.8 684.1,557.8 M92.3,609.5C92.8,609.4 92.3,609.5 95.3,608.9C98.3,608.3 105.4,606.8 110.4,605.8C115.4,604.8 120.5,603.8 125.5,602.8C130.5,601.8 135.6,600.9 140.6,599.9C145.6,599 150.7,598.1 155.7,597.2C160.7,596.2 165.8,595.4 170.8,594.5C175.8,593.6 180.9,592.7 185.9,591.8C190.9,591 195.9,590.1 201,589.2C206,588.4 211,587.6 216.1,586.9C221.1,586.1 226.1,585.5 231.2,584.9C236.2,584.3 241.2,583.8 246.3,583.3C251.3,582.7 256.3,582.2 261.4,581.7C266.4,581.3 271.4,580.8 276.5,580.3C281.5,579.9 286.5,579.5 291.6,579C296.6,578.6 301.6,578.2 306.7,577.9C311.7,577.5 316.7,577.1 321.8,576.8C326.8,576.5 331.8,576.1 336.9,575.8C341.9,575.5 346.9,575.3 352,575C357,574.7 362,574.5 367.1,574.2C372.1,574 377.1,573.8 382.2,573.5C387.2,573.3 392.2,573.1 397.2,572.9C402.3,572.7 407.3,572.5 412.3,572.3C417.4,572.1 422.4,571.9 427.4,571.7C432.5,571.5 437.5,571.4 442.5,571.2C447.6,571 452.6,570.8 457.6,570.7C462.7,570.5 467.7,570.3 472.7,570.2C477.8,570 482.8,569.8 487.8,569.7C492.9,569.5 497.9,569.3 502.9,569.2C508,569 513,568.9 518,568.7C523.1,568.5 528.1,568.4 533.1,568.2C538.2,568 543.2,567.9 548.2,567.7C553.3,567.6 558.3,567.4 563.3,567.3C568.4,567.1 573.4,567 578.4,566.8C583.5,566.7 588.5,566.5 593.5,566.4C598.5,566.2 603.6,566.1 608.6,565.9C613.6,565.8 618.7,565.7 623.7,565.5C628.7,565.4 633.8,565.2 638.8,565.1C643.8,565 648.9,564.9 653.9,564.7C658.9,564.6 664,564.5 669,564.4C674,564.2 681.6,564.1 684.1,564 M92.3,617.5C92.8,617.4 92.3,617.5 95.3,616.9C98.3,616.2 105.4,614.8 110.4,613.7C115.4,612.7 120.5,611.7 125.5,610.7C130.5,609.7 135.6,608.7 140.6,607.7C145.6,606.7 150.7,605.8 155.7,604.8C160.7,603.9 165.8,602.9 170.8,602C175.8,601.1 180.9,600.1 185.9,599.2C190.9,598.2 195.9,597.2 201,596.3C206,595.4 211,594.4 216.1,593.7C221.1,592.9 226.1,592.2 231.2,591.6C236.2,590.9 241.2,590.4 246.3,589.9C251.3,589.3 256.3,588.8 261.4,588.3C266.4,587.8 271.4,587.3 276.5,586.9C281.5,586.4 286.5,586 291.6,585.6C296.6,585.2 301.6,584.8 306.7,584.4C311.7,584 316.7,583.7 321.8,583.3C326.8,583 331.8,582.7 336.9,582.4C341.9,582.1 346.9,581.8 352,581.5C357,581.2 362,581 367.1,580.7C372.1,580.4 377.1,580.2 382.2,580C387.2,579.7 392.2,579.5 397.2,579.3C402.3,579 407.3,578.8 412.3,578.6C417.4,578.4 422.4,578.2 427.4,578C432.5,577.8 437.5,577.6 442.5,577.5C447.6,577.3 452.6,577.1 457.6,576.9C462.7,576.7 467.7,576.5 472.7,576.4C477.8,576.2 482.8,576 487.8,575.8C492.9,575.7 497.9,575.5 502.9,575.3C508,575.2 513,575 518,574.8C523.1,574.6 528.1,574.5 533.1,574.3C538.2,574.1 543.2,574 548.2,573.8C553.3,573.7 558.3,573.5 563.3,573.3C568.4,573.2 573.4,573 578.4,572.9C583.5,572.7 588.5,572.6 593.5,572.4C598.5,572.3 603.6,572.1 608.6,572C613.6,571.8 618.7,571.7 623.7,571.5C628.7,571.4 633.8,571.3 638.8,571.1C643.8,571 648.9,570.9 653.9,570.7C658.9,570.6 664,570.5 669,570.4C674,570.2 681.6,570.1 684.1,570 M92.3,624.8C92.8,624.7 92.3,624.8 95.3,624.2C98.3,623.6 105.4,622.1 110.4,621.1C115.4,620.1 120.5,619.1 125.5,618.1C130.5,617 135.6,616 140.6,615C145.6,614 150.7,613.1 155.7,612.1C160.7,611.1 165.8,610.1 170.8,609.1C175.8,608.1 180.9,607.1 185.9,606.1C190.9,605.1 195.9,604 201,603C206,602 211,601 216.1,600.1C221.1,599.3 226.1,598.6 231.2,597.9C236.2,597.2 241.2,596.7 246.3,596.2C251.3,595.6 256.3,595.1 261.4,594.6C266.4,594.1 271.4,593.6 276.5,593.2C281.5,592.7 286.5,592.3 291.6,591.9C296.6,591.5 301.6,591.1 306.7,590.7C311.7,590.3 316.7,590 321.8,589.6C326.8,589.3 331.8,589 336.9,588.7C341.9,588.3 346.9,588 352,587.8C357,587.5 362,587.2 367.1,586.9C372.1,586.6 377.1,586.4 382.2,586.1C387.2,585.9 392.2,585.6 397.2,585.4C402.3,585.2 407.3,584.9 412.3,584.7C417.4,584.5 422.4,584.3 427.4,584.1C432.5,583.9 437.5,583.7 442.5,583.5C447.6,583.3 452.6,583.1 457.6,582.9C462.7,582.7 467.7,582.5 472.7,582.3C477.8,582.1 482.8,582 487.8,581.8C492.9,581.6 497.9,581.4 502.9,581.2C508,581.1 513,580.9 518,580.7C523.1,580.5 528.1,580.4 533.1,580.2C538.2,580 543.2,579.8 548.2,579.7C553.3,579.5 558.3,579.3 563.3,579.2C568.4,579 573.4,578.9 578.4,578.7C583.5,578.5 588.5,578.4 593.5,578.2C598.5,578.1 603.6,577.9 608.6,577.8C613.6,577.6 618.7,577.5 623.7,577.4C628.7,577.2 633.8,577.1 638.8,577C643.8,576.8 648.9,576.7 653.9,576.6C658.9,576.4 664,576.3 669,576.2C674,576.1 681.6,575.9 684.1,575.9 M92.3,631.6C92.8,631.5 92.3,631.6 95.3,631C98.3,630.4 105.4,629 110.4,628C115.4,627 120.5,626 125.5,625C130.5,624 135.6,623 140.6,622C145.6,621 150.7,620 155.7,619C160.7,618 165.8,617 170.8,616C175.8,614.9 180.9,613.9 185.9,612.8C190.9,611.7 195.9,610.5 201,609.4C206,608.3 211,607.2 216.1,606.3C221.1,605.4 226.1,604.7 231.2,604C236.2,603.3 241.2,602.8 246.3,602.2C251.3,601.7 256.3,601.1 261.4,600.6C266.4,600.1 271.4,599.6 276.5,599.2C281.5,598.7 286.5,598.3 291.6,597.9C296.6,597.5 301.6,597.1 306.7,596.8C311.7,596.4 316.7,596 321.8,595.7C326.8,595.3 331.8,595 336.9,594.7C341.9,594.4 346.9,594.1 352,593.8C357,593.5 362,593.2 367.1,592.9C372.1,592.6 377.1,592.3 382.2,592.1C387.2,591.8 392.2,591.6 397.2,591.3C402.3,591.1 407.3,590.8 412.3,590.6C417.4,590.3 422.4,590.1 427.4,589.9C432.5,589.7 437.5,589.5 442.5,589.2C447.6,589 452.6,588.8 457.6,588.6C462.7,588.4 467.7,588.2 472.7,588C477.8,587.8 482.8,587.7 487.8,587.5C492.9,587.3 497.9,587.1 502.9,586.9C508,586.7 513,586.6 518,586.4C523.1,586.2 528.1,586 533.1,585.8C538.2,585.7 543.2,585.5 548.2,585.3C553.3,585.2 558.3,585 563.3,584.8C568.4,584.7 573.4,584.5 578.4,584.3C583.5,584.2 588.5,584 593.5,583.9C598.5,583.7 603.6,583.6 608.6,583.4C613.6,583.3 618.7,583.2 623.7,583C628.7,582.9 633.8,582.7 638.8,582.6C643.8,582.5 648.9,582.4 653.9,582.2C658.9,582.1 664,582 669,581.9C674,581.8 681.6,581.6 684.1,581.6 M92.3,638.1C92.8,638 92.3,638.1 95.3,637.5C98.3,636.9 105.4,635.6 110.4,634.6C115.4,633.6 120.5,632.6 125.5,631.6C130.5,630.6 135.6,629.6 140.6,628.6C145.6,627.6 150.7,626.6 155.7,625.6C160.7,624.6 165.8,623.6 170.8,622.5C175.8,621.4 180.9,620.3 185.9,619.2C190.9,618 195.9,616.8 201,615.6C206,614.5 211,613.3 216.1,612.3C221.1,611.4 226.1,610.6 231.2,609.9C236.2,609.2 241.2,608.6 246.3,608.1C251.3,607.5 256.3,607 261.4,606.5C266.4,606 271.4,605.5 276.5,605C281.5,604.6 286.5,604.2 291.6,603.8C296.6,603.4 301.6,603 306.7,602.6C311.7,602.2 316.7,601.9 321.8,601.5C326.8,601.2 331.8,600.9 336.9,600.6C341.9,600.2 346.9,599.9 352,599.6C357,599.3 362,599 367.1,598.7C372.1,598.4 377.1,598.1 382.2,597.8C387.2,597.5 392.2,597.3 397.2,597C402.3,596.8 407.3,596.5 412.3,596.2C417.4,596 422.4,595.8 427.4,595.5C432.5,595.3 437.5,595 442.5,594.8C447.6,594.6 452.6,594.4 457.6,594.2C462.7,594 467.7,593.8 472.7,593.6C477.8,593.4 482.8,593.2 487.8,593C492.9,592.8 497.9,592.6 502.9,592.4C508,592.2 513,592 518,591.9C523.1,591.7 528.1,591.5 533.1,591.3C538.2,591.1 543.2,591 548.2,590.8C553.3,590.6 558.3,590.5 563.3,590.3C568.4,590.1 573.4,590 578.4,589.8C583.5,589.7 588.5,589.5 593.5,589.4C598.5,589.2 603.6,589.1 608.6,588.9C613.6,588.8 618.7,588.6 623.7,588.5C628.7,588.4 633.8,588.2 638.8,588.1C643.8,588 648.9,587.9 653.9,587.8C658.9,587.6 664,587.5 669,587.4C674,587.3 681.6,587.2 684.1,587.1 M92.3,644.2C92.8,644.1 92.3,644.2 95.3,643.6C98.3,643 105.4,641.8 110.4,640.8C115.4,639.9 120.5,638.9 125.5,637.9C130.5,636.9 135.6,635.9 140.6,634.9C145.6,633.9 150.7,632.9 155.7,631.9C160.7,630.9 165.8,629.9 170.8,628.8C175.8,627.7 180.9,626.6 185.9,625.4C190.9,624.2 195.9,622.8 201,621.6C206,620.4 211,619.2 216.1,618.2C221.1,617.2 226.1,616.3 231.2,615.6C236.2,614.9 241.2,614.3 246.3,613.8C251.3,613.2 256.3,612.7 261.4,612.1C266.4,611.6 271.4,611.2 276.5,610.7C281.5,610.3 286.5,609.8 291.6,609.4C296.6,609 301.6,608.7 306.7,608.3C311.7,607.9 316.7,607.6 321.8,607.2C326.8,606.9 331.8,606.5 336.9,606.2C341.9,605.9 346.9,605.6 352,605.2C357,604.9 362,604.6 367.1,604.3C372.1,604 377.1,603.7 382.2,603.4C387.2,603.1 392.2,602.8 397.2,602.5C402.3,602.3 407.3,602 412.3,601.7C417.4,601.5 422.4,601.2 427.4,600.9C432.5,600.7 437.5,600.5 442.5,600.2C447.6,600 452.6,599.8 457.6,599.5C462.7,599.3 467.7,599.1 472.7,598.9C477.8,598.7 482.8,598.5 487.8,598.3C492.9,598.1 497.9,597.9 502.9,597.7C508,597.5 513,597.3 518,597.2C523.1,597 528.1,596.8 533.1,596.6C538.2,596.5 543.2,596.3 548.2,596.1C553.3,596 558.3,595.8 563.3,595.6C568.4,595.5 573.4,595.3 578.4,595.1C583.5,595 588.5,594.8 593.5,594.7C598.5,594.5 603.6,594.4 608.6,594.3C613.6,594.1 618.7,594 623.7,593.9C628.7,593.7 633.8,593.6 638.8,593.5C643.8,593.4 648.9,593.3 653.9,593.2C658.9,593 664,592.9 669,592.8C674,592.8 681.6,592.6 684.1,592.6 M92.3,650.1C92.8,650 92.3,650.1 95.3,649.5C98.3,648.9 105.4,647.7 110.4,646.8C115.4,645.9 120.5,644.9 125.5,644C130.5,643 135.6,642 140.6,641C145.6,640 150.7,639 155.7,638C160.7,637 165.8,636 170.8,634.9C175.8,633.8 180.9,632.6 185.9,631.4C190.9,630.1 195.9,628.7 201,627.5C206,626.2 211,624.9 216.1,623.9C221.1,622.8 226.1,622 231.2,621.2C236.2,620.5 241.2,619.9 246.3,619.4C251.3,618.8 256.3,618.2 261.4,617.7C266.4,617.2 271.4,616.7 276.5,616.3C281.5,615.8 286.5,615.4 291.6,615C296.6,614.6 301.6,614.2 306.7,613.8C311.7,613.4 316.7,613.1 321.8,612.7C326.8,612.4 331.8,612 336.9,611.7C341.9,611.4 346.9,611 352,610.7C357,610.4 362,610 367.1,609.7C372.1,609.4 377.1,609.1 382.2,608.8C387.2,608.5 392.2,608.2 397.2,607.9C402.3,607.6 407.3,607.3 412.3,607C417.4,606.7 422.4,606.5 427.4,606.2C432.5,605.9 437.5,605.7 442.5,605.4C447.6,605.2 452.6,605 457.6,604.7C462.7,604.5 467.7,604.3 472.7,604.1C477.8,603.8 482.8,603.6 487.8,603.4C492.9,603.2 497.9,603.1 502.9,602.9C508,602.7 513,602.5 518,602.3C523.1,602.2 528.1,602 533.1,601.8C538.2,601.6 543.2,601.5 548.2,601.3C553.3,601.1 558.3,601 563.3,600.8C568.4,600.6 573.4,600.5 578.4,600.3C583.5,600.2 588.5,600 593.5,599.9C598.5,599.7 603.6,599.6 608.6,599.5C613.6,599.3 618.7,599.2 623.7,599.1C628.7,599 633.8,598.9 638.8,598.7C643.8,598.6 648.9,598.5 653.9,598.4C658.9,598.3 664,598.2 669,598.2C674,598.1 681.6,598 684.1,597.9 M92.3,655.8C92.8,655.7 92.3,655.7 95.3,655.2C98.3,654.7 105.4,653.5 110.4,652.6C115.4,651.7 120.5,650.7 125.5,649.8C130.5,648.8 135.6,647.9 140.6,646.9C145.6,645.9 150.7,644.9 155.7,643.8C160.7,642.8 165.8,641.8 170.8,640.7C175.8,639.6 180.9,638.4 185.9,637.2C190.9,635.9 195.9,634.5 201,633.2C206,631.9 211,630.5 216.1,629.5C221.1,628.4 226.1,627.6 231.2,626.8C236.2,626 241.2,625.5 246.3,624.9C251.3,624.3 256.3,623.7 261.4,623.2C266.4,622.7 271.4,622.2 276.5,621.7C281.5,621.2 286.5,620.8 291.6,620.4C296.6,620 301.6,619.6 306.7,619.2C311.7,618.8 316.7,618.5 321.8,618.1C326.8,617.8 331.8,617.4 336.9,617.1C341.9,616.7 346.9,616.4 352,616C357,615.7 362,615.3 367.1,615C372.1,614.7 377.1,614.3 382.2,614C387.2,613.7 392.2,613.4 397.2,613.1C402.3,612.8 407.3,612.5 412.3,612.2C417.4,611.9 422.4,611.6 427.4,611.3C432.5,611 437.5,610.8 442.5,610.5C447.6,610.3 452.6,610 457.6,609.8C462.7,609.5 467.7,609.3 472.7,609.1C477.8,608.9 482.8,608.7 487.8,608.5C492.9,608.3 497.9,608.1 502.9,607.9C508,607.7 513,607.6 518,607.4C523.1,607.2 528.1,607 533.1,606.9C538.2,606.7 543.2,606.5 548.2,606.4C553.3,606.2 558.3,606 563.3,605.9C568.4,605.7 573.4,605.6 578.4,605.4C583.5,605.3 588.5,605.1 593.5,605C598.5,604.8 603.6,604.7 608.6,604.6C613.6,604.5 618.7,604.3 623.7,604.2C628.7,604.1 633.8,604 638.8,603.9C643.8,603.8 648.9,603.7 653.9,603.6C658.9,603.5 664,603.5 669,603.4C674,603.3 681.6,603.2 684.1,603.2 M92.3,661.4C92.8,661.3 92.3,661.3 95.3,660.8C98.3,660.3 105.4,659.1 110.4,658.2C115.4,657.3 120.5,656.3 125.5,655.4C130.5,654.5 135.6,653.5 140.6,652.5C145.6,651.5 150.7,650.5 155.7,649.5C160.7,648.4 165.8,647.4 170.8,646.3C175.8,645.2 180.9,644 185.9,642.8C190.9,641.5 195.9,640.1 201,638.8C206,637.5 211,636.1 216.1,635C221.1,633.9 226.1,633.1 231.2,632.3C236.2,631.5 241.2,630.9 246.3,630.3C251.3,629.7 256.3,629.1 261.4,628.6C266.4,628.1 271.4,627.6 276.5,627.1C281.5,626.6 286.5,626.2 291.6,625.7C296.6,625.3 301.6,624.9 306.7,624.5C311.7,624.1 316.7,623.7 321.8,623.4C326.8,623 331.8,622.6 336.9,622.3C341.9,621.9 346.9,621.6 352,621.2C357,620.9 362,620.5 367.1,620.2C372.1,619.8 377.1,619.5 382.2,619.1C387.2,618.8 392.2,618.5 397.2,618.1C402.3,617.8 407.3,617.5 412.3,617.2C417.4,616.9 422.4,616.6 427.4,616.3C432.5,616 437.5,615.7 442.5,615.5C447.6,615.2 452.6,615 457.6,614.7C462.7,614.5 467.7,614.2 472.7,614C477.8,613.8 482.8,613.6 487.8,613.4C492.9,613.2 497.9,613 502.9,612.8C508,612.7 513,612.5 518,612.3C523.1,612.1 528.1,612 533.1,611.8C538.2,611.6 543.2,611.5 548.2,611.3C553.3,611.1 558.3,611 563.3,610.8C568.4,610.7 573.4,610.5 578.4,610.4C583.5,610.2 588.5,610.1 593.5,610C598.5,609.8 603.6,609.7 608.6,609.6C613.6,609.5 618.7,609.4 623.7,609.3C628.7,609.1 633.8,609 638.8,609C643.8,608.9 648.9,608.8 653.9,608.7C658.9,608.6 664,608.6 669,608.5C674,608.5 681.6,608.4 684.1,608.4 M92.3,666.9C92.8,666.8 92.3,666.8 95.3,666.3C98.3,665.8 105.4,664.5 110.4,663.6C115.4,662.7 120.5,661.8 125.5,660.8C130.5,659.9 135.6,658.9 140.6,657.9C145.6,656.9 150.7,655.9 155.7,654.8C160.7,653.8 165.8,652.8 170.8,651.7C175.8,650.6 180.9,649.4 185.9,648.2C190.9,646.9 195.9,645.5 201,644.2C206,642.9 211,641.6 216.1,640.5C221.1,639.4 226.1,638.6 231.2,637.8C236.2,637 241.2,636.4 246.3,635.8C251.3,635.1 256.3,634.5 261.4,634C266.4,633.4 271.4,632.9 276.5,632.4C281.5,631.9 286.5,631.4 291.6,631C296.6,630.5 301.6,630.1 306.7,629.7C311.7,629.3 316.7,628.9 321.8,628.5C326.8,628.1 331.8,627.8 336.9,627.4C341.9,627 346.9,626.6 352,626.3C357,625.9 362,625.5 367.1,625.2C372.1,624.8 377.1,624.5 382.2,624.1C387.2,623.8 392.2,623.4 397.2,623.1C402.3,622.8 407.3,622.4 412.3,622.1C417.4,621.8 422.4,621.5 427.4,621.2C432.5,620.9 437.5,620.6 442.5,620.3C447.6,620.1 452.6,619.8 457.6,619.5C462.7,619.3 467.7,619 472.7,618.8C477.8,618.6 482.8,618.4 487.8,618.2C492.9,618 497.9,617.8 502.9,617.7C508,617.5 513,617.3 518,617.2C523.1,617 528.1,616.8 533.1,616.7C538.2,616.5 543.2,616.3 548.2,616.2C553.3,616 558.3,615.9 563.3,615.7C568.4,615.6 573.4,615.4 578.4,615.3C583.5,615.1 588.5,615 593.5,614.9C598.5,614.8 603.6,614.6 608.6,614.5C613.6,614.4 618.7,614.3 623.7,614.2C628.7,614.1 633.8,614 638.8,613.9C643.8,613.8 648.9,613.8 653.9,613.7C658.9,613.6 664,613.6 669,613.5C674,613.5 681.6,613.5 684.1,613.4 M92.3,672.4C92.8,672.3 92.3,672.3 95.3,671.8C98.3,671.2 105.4,669.9 110.4,668.9C115.4,668 120.5,667 125.5,666C130.5,665 135.6,664 140.6,663C145.6,662 150.7,661 155.7,659.9C160.7,658.9 165.8,657.9 170.8,656.8C175.8,655.7 180.9,654.5 185.9,653.3C190.9,652.1 195.9,650.7 201,649.5C206,648.3 211,647 216.1,646C221.1,644.9 226.1,644 231.2,643.2C236.2,642.5 241.2,641.8 246.3,641.2C251.3,640.5 256.3,639.9 261.4,639.3C266.4,638.8 271.4,638.2 276.5,637.7C281.5,637.2 286.5,636.7 291.6,636.2C296.6,635.7 301.6,635.3 306.7,634.8C311.7,634.4 316.7,634 321.8,633.6C326.8,633.2 331.8,632.8 336.9,632.4C341.9,632 346.9,631.6 352,631.2C357,630.9 362,630.5 367.1,630.1C372.1,629.7 377.1,629.4 382.2,629C387.2,628.7 392.2,628.3 397.2,628C402.3,627.6 407.3,627.3 412.3,626.9C417.4,626.6 422.4,626.3 427.4,626C432.5,625.7 437.5,625.4 442.5,625.1C447.6,624.8 452.6,624.6 457.6,624.3C462.7,624 467.7,623.8 472.7,623.6C477.8,623.4 482.8,623.2 487.8,623C492.9,622.8 497.9,622.6 502.9,622.4C508,622.3 513,622.1 518,621.9C523.1,621.8 528.1,621.6 533.1,621.4C538.2,621.3 543.2,621.1 548.2,621C553.3,620.8 558.3,620.7 563.3,620.5C568.4,620.4 573.4,620.2 578.4,620.1C583.5,620 588.5,619.8 593.5,619.7C598.5,619.6 603.6,619.5 608.6,619.4C613.6,619.2 618.7,619.1 623.7,619.1C628.7,619 633.8,618.9 638.8,618.8C643.8,618.7 648.9,618.7 653.9,618.6C658.9,618.5 664,618.5 669,618.5C674,618.4 681.6,618.4 684.1,618.4 M92.3,677.8C92.8,677.7 92.3,677.8 95.3,677.2C98.3,676.6 105.4,675.2 110.4,674.1C115.4,673.1 120.5,672 125.5,671C130.5,670 135.6,668.9 140.6,667.9C145.6,666.8 150.7,665.8 155.7,664.7C160.7,663.7 165.8,662.6 170.8,661.5C175.8,660.4 180.9,659.3 185.9,658.2C190.9,657 195.9,655.8 201,654.7C206,653.5 211,652.3 216.1,651.4C221.1,650.4 226.1,649.5 231.2,648.7C236.2,647.9 241.2,647.3 246.3,646.6C251.3,646 256.3,645.3 261.4,644.7C266.4,644.1 271.4,643.5 276.5,643C281.5,642.4 286.5,641.9 291.6,641.4C296.6,640.9 301.6,640.4 306.7,639.9C311.7,639.4 316.7,639 321.8,638.5C326.8,638.1 331.8,637.7 336.9,637.3C341.9,636.9 346.9,636.5 352,636.1C357,635.7 362,635.3 367.1,634.9C372.1,634.6 377.1,634.2 382.2,633.8C387.2,633.4 392.2,633.1 397.2,632.7C402.3,632.4 407.3,632 412.3,631.7C417.4,631.4 422.4,631 427.4,630.7C432.5,630.4 437.5,630.1 442.5,629.8C447.6,629.5 452.6,629.3 457.6,629C462.7,628.8 467.7,628.5 472.7,628.3C477.8,628.1 482.8,627.9 487.8,627.7C492.9,627.5 497.9,627.3 502.9,627.2C508,627 513,626.8 518,626.7C523.1,626.5 528.1,626.3 533.1,626.2C538.2,626 543.2,625.9 548.2,625.7C553.3,625.6 558.3,625.4 563.3,625.3C568.4,625.1 573.4,625 578.4,624.9C583.5,624.7 588.5,624.6 593.5,624.5C598.5,624.3 603.6,624.2 608.6,624.1C613.6,624 618.7,623.9 623.7,623.8C628.7,623.7 633.8,623.7 638.8,623.6C643.8,623.5 648.9,623.5 653.9,623.4C658.9,623.4 664,623.3 669,623.3C674,623.3 681.6,623.3 684.1,623.2 M92.3,683.3C92.8,683.2 92.3,683.4 95.3,682.7C98.3,682 105.4,680.3 110.4,679.2C115.4,678 120.5,676.8 125.5,675.7C130.5,674.6 135.6,673.5 140.6,672.4C145.6,671.3 150.7,670.2 155.7,669.1C160.7,668 165.8,667 170.8,665.9C175.8,664.9 180.9,663.8 185.9,662.8C190.9,661.7 195.9,660.6 201,659.6C206,658.6 211,657.6 216.1,656.7C221.1,655.8 226.1,655 231.2,654.2C236.2,653.5 241.2,652.8 246.3,652.1C251.3,651.4 256.3,650.8 261.4,650.1C266.4,649.5 271.4,648.9 276.5,648.3C281.5,647.7 286.5,647.1 291.6,646.5C296.6,646 301.6,645.5 306.7,644.9C311.7,644.4 316.7,643.9 321.8,643.5C326.8,643 331.8,642.5 336.9,642.1C341.9,641.7 346.9,641.3 352,640.9C357,640.5 362,640.1 367.1,639.7C372.1,639.3 377.1,638.9 382.2,638.5C387.2,638.2 392.2,637.8 397.2,637.4C402.3,637.1 407.3,636.7 412.3,636.4C417.4,636.1 422.4,635.7 427.4,635.4C432.5,635.1 437.5,634.8 442.5,634.5C447.6,634.2 452.6,634 457.6,633.7C462.7,633.5 467.7,633.2 472.7,633C477.8,632.8 482.8,632.6 487.8,632.4C492.9,632.2 497.9,632 502.9,631.9C508,631.7 513,631.5 518,631.4C523.1,631.2 528.1,631 533.1,630.9C538.2,630.7 543.2,630.6 548.2,630.4C553.3,630.3 558.3,630.1 563.3,630C568.4,629.8 573.4,629.7 578.4,629.6C583.5,629.4 588.5,629.3 593.5,629.2C598.5,629.1 603.6,628.9 608.6,628.8C613.6,628.7 618.7,628.6 623.7,628.5C628.7,628.4 633.8,628.4 638.8,628.3C643.8,628.2 648.9,628.2 653.9,628.1C658.9,628.1 664,628 669,628C674,628 681.6,628 684.1,628"/>
<rect x="264.8" y="59.8" width="18.5" height="21" fill="#fff"/>
<rect x="231.8" y="156" width="18.5" height="21" fill="#fff"/>
<rect x="212.8" y="225" width="18.5" height="21" fill="#fff"/>
<rect x="196.8" y="278.5" width="18.5" height="21" fill="#fff"/>
<rect x="185.8" y="323.5" width="18.5" height="21" fill="#fff"/>
<rect x="174.3" y="362.3" width="18.5" height="21" fill="#fff"/>
<rect x="165.2" y="405.8" width="18.5" height="21" fill="#fff"/>
<rect x="144.3" y="472.7" width="18.5" height="21" fill="#fff"/>
<rect x="138.8" y="492" width="18.5" height="21" fill="#fff"/>
</g>
<text class="cl" x="274" y="78.3" font-size="24.2">8</text>
<text class="cl" x="241" y="174.5" font-size="24.2">7</text>
<text class="cl" x="222" y="243.5" font-size="24.2">6</text>
<text class="cl" x="206" y="297" font-size="24.2">5</text>
<text class="cl" x="195" y="342" font-size="24.2">4</text>
<text class="cl" x="183.6" y="380.8" font-size="24.2">3</text>
<text class="cl" x="174.4" y="424.3" font-size="24.2">2</text>
<text class="cl" x="153.6" y="491.2" font-size="24.2">3</text>
<text class="cl" x="148" y="510.5" font-size="24.2">4</text>
<path d="M86.5,49.1H686.4M86.5,660H686.4" stroke="#000" stroke-width="3.7" fill="none"/>
<path d="M95.3,47.2V671.5M684.1,47.2V671.5M168.9,660V667.9M242.5,660V671.5M316.1,660V667.9M389.7,660V671.5M463.3,660V667.9M536.9,660V671.5M610.5,660V667.9" stroke="#000" stroke-width="4.7" fill="none"/>
<path d="M86.5,100H95.3M86.5,150.9H95.3M75.5,201.8H95.3M86.5,252.7H95.3M86.5,303.6H95.3M86.5,354.6H95.3M86.5,405.5H95.3M75.5,456.4H95.3M86.5,507.3H95.3M86.5,558.2H95.3M86.5,609.1H95.3" stroke="#000" stroke-width="3.7" fill="none"/>
<text class="tl" text-anchor="end" x="81.8" y="62.7">1.8</text>
<text class="tl" text-anchor="end" x="72.3" y="212.4">1.5</text>
<text class="tl" text-anchor="end" x="72.3" y="467">1.0</text>
<text class="tl" text-anchor="end" x="81.8" y="672.3">0.6</text>
<rect x="348.7" y="49.1" width="333.4" height="54" fill="#fff" stroke="#333" stroke-width="1"/>
<circle cx="378.9" cy="74.5" r="21" fill="url(#rg)"/>
<text class="lg" transform="translate(405.6,85.8) scale(1.18,1)" x="0" y="0">σ</text>
<text class="lg sub" x="425.2" y="91.6">2D</text>
<text class="lg" x="453.1" y="85.8">[%],</text>
<text class="lg" transform="translate(514.8,85.8) scale(1.08,1)" x="0" y="0">δ</text>
<text class="lg" x="530.3" y="85.8">/r</text>
<text class="lg sub" x="549.8" y="91.6">0</text>
<text class="lg" transform="translate(566.2,85.8) scale(1.08,1)" x="0" y="0">=</text>
<text class="lg" x="593.3" y="85.8">13.7%</text>
<clipPath id="clipb"><rect x="805.3" y="49.1" width="588.8" height="610.9"/></clipPath>
<g clip-path="url(#clipb)">
<path d="M917.7,421.4C918.6,419.7 923.4,416.9 926.7,415.8C930.1,414.8 933.6,415 937.8,415.1C942,415.2 943.3,415 952,416.2C960.7,417.4 977.7,420.5 990,422.5C1002.3,424.5 1013.8,426.1 1026,428.3C1038.2,430.5 1050.7,433.1 1063,435.5C1075.3,437.9 1089.2,440.6 1100,442.9C1110.8,445.2 1118.5,447 1127.7,449.1C1137,451.2 1148.1,453.5 1155.5,455.3C1162.9,457.1 1168.2,458.6 1172,459.8C1175.8,461 1178.4,461.7 1178.4,462.5C1178.4,463.3 1174.2,464.2 1172,464.6C1169.8,465 1170.3,464.8 1165.2,465C1160.1,465.2 1152.5,465.7 1141.6,465.7C1130.7,465.7 1113.1,465.6 1100,465C1086.9,464.4 1075.3,463.1 1063,462C1050.7,460.9 1037.6,459.7 1026,458.1C1014.4,456.5 1002.9,454.5 993.6,452.6C984.3,450.7 976.9,448.2 970,446.5C963.1,444.8 958.5,444.6 952,442.4C945.5,440.2 935.9,435.8 930.8,433.1C925.6,430.4 923.3,428.1 921.1,426.2C918.9,424.2 916.8,423.1 917.7,421.4Z" fill="#d0d0d0"/>
<path class="s" d="M1170,41.6C1172,44 1177.9,51.4 1181.8,56.1C1185.7,60.7 1189.7,65.1 1193.6,69.3C1197.5,73.5 1201.5,77.5 1205.4,81.3C1209.3,85.1 1213.2,88.8 1217.2,92.3C1221.1,95.8 1225,99.1 1229,102.3C1232.9,105.6 1236.8,108.6 1240.8,111.6C1244.7,114.6 1248.6,117.4 1252.6,120.1C1256.5,122.9 1260.4,125.5 1264.4,128.1C1268.3,130.7 1272.2,133.2 1276.2,135.6C1280.1,138.1 1284,140.5 1287.9,142.8C1291.9,145.2 1295.8,147.5 1299.7,149.8C1303.7,152 1307.6,154.3 1311.5,156.5C1315.5,158.7 1319.4,160.9 1323.3,163C1327.3,165.1 1331.2,167.2 1335.1,169.2C1339.1,171.3 1343,173.3 1346.9,175.2C1350.9,177.2 1354.8,179.1 1358.7,181C1362.6,182.9 1366.6,184.7 1370.5,186.5C1374.4,188.2 1378.4,190 1382.3,191.7C1386.2,193.3 1392.1,195.7 1394.1,196.6 M984,41.3C986,44 992,52.1 996.1,57.3C1000.1,62.5 1004.1,67.5 1008.1,72.4C1012.1,77.3 1016.2,82.1 1020.2,86.7C1024.2,91.4 1028.2,95.8 1032.2,100.2C1036.3,104.6 1040.3,108.8 1044.3,112.9C1048.3,117 1052.3,121 1056.4,124.9C1060.4,128.8 1064.4,132.5 1068.4,136.2C1072.5,139.8 1076.5,143.4 1080.5,146.8C1084.5,150.3 1088.5,153.6 1092.6,156.8C1096.6,160.1 1100.6,163.2 1104.6,166.3C1108.6,169.3 1112.7,172.3 1116.7,175.2C1120.7,178 1124.7,180.8 1128.7,183.6C1132.8,186.3 1136.8,188.9 1140.8,191.5C1144.8,194.1 1148.8,196.6 1152.9,199C1156.9,201.4 1160.9,203.8 1164.9,206.1C1168.9,208.4 1173,210.7 1177,212.9C1181,215.1 1185,217.3 1189,219.4C1193.1,221.5 1197.1,223.5 1201.1,225.5C1205.1,227.6 1209.2,229.5 1213.2,231.5C1217.2,233.4 1221.2,235.3 1225.2,237.1C1229.3,239 1233.3,240.8 1237.3,242.5C1241.3,244.3 1245.3,246 1249.4,247.7C1253.4,249.4 1257.4,251.1 1261.4,252.7C1265.4,254.3 1269.5,255.9 1273.5,257.5C1277.5,259 1281.5,260.6 1285.5,262C1289.6,263.5 1293.6,265 1297.6,266.5C1301.6,267.9 1305.6,269.3 1309.7,270.7C1313.7,272.1 1317.7,273.4 1321.7,274.8C1325.7,276.1 1329.8,277.4 1333.8,278.7C1337.8,280 1341.8,281.3 1345.9,282.6C1349.9,283.8 1353.9,285.1 1357.9,286.3C1361.9,287.5 1366,288.7 1370,289.9C1374,291.1 1378,292.3 1382,293.4C1386.1,294.6 1392.1,296.3 1394.1,296.9 M884,40.6C886,43.7 891.9,53 895.9,58.9C899.8,64.9 903.8,70.6 907.7,76.2C911.7,81.8 915.6,87.2 919.6,92.5C923.5,97.8 927.5,102.9 931.5,107.9C935.4,112.9 939.4,117.7 943.3,122.4C947.3,127.1 951.2,131.6 955.2,136C959.1,140.5 963.1,144.7 967,148.9C971,153 974.9,157.1 978.9,161C982.9,164.9 986.8,168.7 990.8,172.3C994.7,176 998.7,179.6 1002.6,183C1006.6,186.5 1010.5,189.8 1014.5,193.1C1018.4,196.3 1022.4,199.5 1026.4,202.5C1030.3,205.6 1034.3,208.5 1038.2,211.4C1042.2,214.3 1046.1,217.1 1050.1,219.8C1054,222.5 1058,225.1 1061.9,227.7C1065.9,230.3 1069.9,232.8 1073.8,235.2C1077.8,237.6 1081.7,240 1085.7,242.3C1089.6,244.6 1093.6,246.8 1097.5,249C1101.5,251.2 1105.4,253.4 1109.4,255.4C1113.3,257.5 1117.3,259.5 1121.3,261.5C1125.2,263.5 1129.2,265.4 1133.1,267.3C1137.1,269.1 1141,270.9 1145,272.7C1148.9,274.5 1152.9,276.2 1156.8,277.9C1160.8,279.6 1164.8,281.2 1168.7,282.8C1172.7,284.4 1176.6,286 1180.6,287.5C1184.5,289 1188.5,290.5 1192.4,291.9C1196.4,293.3 1200.3,294.7 1204.3,296.1C1208.2,297.5 1212.2,298.8 1216.2,300.1C1220.1,301.4 1224.1,302.7 1228,304C1232,305.2 1235.9,306.4 1239.9,307.6C1243.8,308.8 1247.8,310 1251.7,311.1C1255.7,312.2 1259.7,313.4 1263.6,314.5C1267.6,315.6 1271.5,316.6 1275.5,317.7C1279.4,318.8 1283.4,319.8 1287.3,320.8C1291.3,321.8 1295.2,322.9 1299.2,323.8C1303.2,324.8 1307.1,325.8 1311.1,326.8C1315,327.8 1319,328.7 1322.9,329.7C1326.9,330.7 1330.8,331.6 1334.8,332.5C1338.7,333.5 1342.7,334.4 1346.6,335.4C1350.6,336.3 1354.6,337.2 1358.5,338.2C1362.5,339.1 1366.4,340 1370.4,341C1374.3,341.9 1378.3,342.9 1382.2,343.8C1386.2,344.7 1392.1,346.2 1394.1,346.7 M808,40.1C809,41.8 812,46.9 814,50.3C816,53.6 819,58.5 820,60.1 M837.9,87.6C838.9,89 841.9,93.3 843.9,96.1C845.9,98.9 847.9,101.7 849.9,104.4C851.9,107.1 853.9,109.7 855.8,112.4C857.8,115 859.8,117.6 861.8,120.1C863.8,122.6 865.8,125.2 867.8,127.6C869.8,130.1 871.8,132.5 873.8,134.9C875.8,137.3 877.8,139.7 879.8,142C881.8,144.4 883.8,146.7 885.7,149C887.7,151.2 889.7,153.5 891.7,155.7C893.7,158 895.7,160.2 897.7,162.4C899.7,164.5 901.7,166.7 903.7,168.9C905.7,171 907.7,173.1 909.7,175.2C911.7,177.4 913.7,179.4 915.7,181.5C917.6,183.6 919.6,185.6 921.6,187.6C923.6,189.7 925.6,191.7 927.6,193.6C929.6,195.6 931.6,197.6 933.6,199.5C935.6,201.4 937.6,203.3 939.6,205.2C941.6,207.1 943.6,208.9 945.6,210.7C947.5,212.5 949.5,214.3 951.5,216.1C953.5,217.8 955.5,219.5 957.5,221.2C959.5,222.9 961.5,224.6 963.5,226.2C965.5,227.9 967.5,229.5 969.5,231.1C971.5,232.6 973.5,234.2 975.5,235.7C977.5,237.3 979.4,238.8 981.4,240.2C983.4,241.7 985.4,243.2 987.4,244.6C989.4,246 991.4,247.4 993.4,248.8C995.4,250.2 997.4,251.6 999.4,252.9C1001.4,254.2 1003.4,255.6 1005.4,256.9C1007.4,258.2 1009.3,259.4 1011.3,260.7C1013.3,261.9 1015.3,263.2 1017.3,264.4C1019.3,265.6 1021.3,266.8 1023.3,268C1025.3,269.2 1027.3,270.3 1029.3,271.5C1031.3,272.6 1033.3,273.8 1035.3,274.9C1037.3,276 1039.3,277.1 1041.2,278.2C1043.2,279.3 1045.2,280.3 1047.2,281.4C1049.2,282.4 1051.2,283.4 1053.2,284.5C1055.2,285.5 1057.2,286.5 1059.2,287.5C1061.2,288.5 1063.2,289.4 1065.2,290.4C1067.2,291.3 1069.2,292.3 1071.1,293.2C1073.1,294.1 1075.1,295.1 1077.1,296C1079.1,296.9 1081.1,297.8 1083.1,298.6C1085.1,299.5 1087.1,300.4 1089.1,301.2C1091.1,302.1 1093.1,302.9 1095.1,303.8C1097.1,304.6 1099.1,305.4 1101,306.2C1103,307.1 1105,307.8 1107,308.6C1109,309.4 1111,310.2 1113,311C1115,311.7 1117,312.5 1119,313.3C1121,314 1123,314.8 1125,315.5C1127,316.2 1129,316.9 1131,317.7C1132.9,318.4 1134.9,319.1 1136.9,319.8C1138.9,320.5 1140.9,321.2 1142.9,321.9C1144.9,322.6 1146.9,323.2 1148.9,323.9C1150.9,324.6 1152.9,325.3 1154.9,325.9C1156.9,326.6 1158.9,327.2 1160.9,327.9C1162.8,328.5 1164.8,329.2 1166.8,329.8C1168.8,330.5 1170.8,331.1 1172.8,331.7C1174.8,332.4 1176.8,333 1178.8,333.6C1180.8,334.3 1182.8,334.9 1184.8,335.5C1186.8,336.1 1188.8,336.7 1190.8,337.3C1192.8,337.9 1194.7,338.5 1196.7,339.1C1198.7,339.7 1200.7,340.3 1202.7,340.9C1204.7,341.4 1206.7,342 1208.7,342.6C1210.7,343.2 1212.7,343.7 1214.7,344.3C1216.7,344.9 1218.7,345.4 1220.7,346C1222.7,346.5 1224.6,347.1 1226.6,347.6C1228.6,348.2 1230.6,348.7 1232.6,349.2C1234.6,349.8 1236.6,350.3 1238.6,350.8C1240.6,351.3 1242.6,351.8 1244.6,352.3C1246.6,352.9 1248.6,353.4 1250.6,353.9C1252.6,354.4 1254.6,354.9 1256.5,355.3C1258.5,355.8 1260.5,356.3 1262.5,356.8C1264.5,357.3 1266.5,357.7 1268.5,358.2C1270.5,358.7 1272.5,359.1 1274.5,359.6C1276.5,360.1 1278.5,360.5 1280.5,361C1282.5,361.4 1284.5,361.8 1286.4,362.3C1288.4,362.7 1290.4,363.1 1292.4,363.6C1294.4,364 1296.4,364.4 1298.4,364.8C1300.4,365.2 1302.4,365.6 1304.4,366.1C1306.4,366.5 1308.4,366.9 1310.4,367.2C1312.4,367.6 1314.4,368 1316.4,368.4C1318.3,368.8 1320.3,369.2 1322.3,369.5C1324.3,369.9 1326.3,370.3 1328.3,370.6C1330.3,371 1332.3,371.3 1334.3,371.7C1336.3,372 1338.3,372.3 1340.3,372.7C1342.3,373 1344.3,373.3 1346.3,373.7C1348.2,374 1350.2,374.3 1352.2,374.6C1354.2,374.9 1356.2,375.2 1358.2,375.5C1360.2,375.8 1362.2,376.1 1364.2,376.4C1366.2,376.7 1368.2,377 1370.2,377.3C1372.2,377.5 1374.2,377.8 1376.2,378.1C1378.2,378.3 1380.1,378.6 1382.1,378.8C1384.1,379.1 1386.1,379.3 1388.1,379.6C1390.1,379.8 1393.1,380.2 1394.1,380.3 M805.3,146.5C807.3,148.8 813.3,156 817.3,160.6C821.3,165.2 825.3,169.7 829.3,174.1C833.3,178.4 837.3,182.7 841.3,186.8C845.4,191 849.4,195 853.4,199C857.4,202.9 861.4,206.8 865.4,210.5C869.4,214.2 873.4,217.9 877.4,221.4C881.4,225 885.4,228.4 889.4,231.8C893.4,235.2 897.4,238.4 901.4,241.6C905.4,244.8 909.4,247.9 913.4,250.9C917.5,254 921.5,256.9 925.5,259.7C929.5,262.6 933.5,265.4 937.5,268.1C941.5,270.8 945.5,273.4 949.5,276C953.5,278.6 957.5,281.1 961.5,283.5C965.5,285.9 969.5,288.3 973.5,290.6C977.5,292.9 981.5,295.1 985.5,297.3C989.6,299.5 993.6,301.6 997.6,303.7C1001.6,305.8 1005.6,307.8 1009.6,309.8C1013.6,311.8 1017.6,313.7 1021.6,315.6C1025.6,317.4 1029.6,319.3 1033.6,321C1037.6,322.8 1041.6,324.5 1045.6,326.2C1049.6,327.9 1053.6,329.5 1057.6,331.1C1061.6,332.7 1065.7,334.3 1069.7,335.8C1073.7,337.3 1077.7,338.7 1081.7,340.2C1085.7,341.6 1089.7,343 1093.7,344.3C1097.7,345.7 1101.7,347 1105.7,348.3C1109.7,349.6 1113.7,350.8 1117.7,352C1121.7,353.2 1125.7,354.4 1129.7,355.5C1133.7,356.7 1137.8,357.8 1141.8,358.9C1145.8,360 1149.8,361 1153.8,362.1C1157.8,363.1 1161.8,364.1 1165.8,365.1C1169.8,366 1173.8,367 1177.8,367.9C1181.8,368.8 1185.8,369.7 1189.8,370.6C1193.8,371.5 1197.8,372.4 1201.8,373.2C1205.8,374.1 1209.8,374.9 1213.9,375.7C1217.9,376.5 1221.9,377.3 1225.9,378.1C1229.9,378.8 1233.9,379.6 1237.9,380.3C1241.9,381.1 1245.9,381.8 1249.9,382.5C1253.9,383.3 1257.9,384 1261.9,384.7C1265.9,385.4 1269.9,386.1 1273.9,386.7C1277.9,387.4 1281.9,388.1 1286,388.8C1290,389.4 1294,390.1 1298,390.8C1302,391.4 1306,392.1 1310,392.8C1314,393.4 1318,394.1 1322,394.7C1326,395.4 1330,396.1 1334,396.7C1338,397.4 1342,398.1 1346,398.7C1350,399.4 1354,400.1 1358.1,400.8C1362.1,401.4 1366.1,402.1 1370.1,402.8C1374.1,403.5 1378.1,404.2 1382.1,405C1386.1,405.7 1392.1,406.8 1394.1,407.1 M805.3,229.3C807.3,230.9 813.3,235.7 817.3,238.8C821.3,241.9 825.3,244.9 829.3,247.9C833.3,250.9 837.3,253.8 841.3,256.7C845.4,259.5 849.4,262.3 853.4,265.1C857.4,267.8 861.4,270.5 865.4,273.2C869.4,275.8 873.4,278.4 877.4,281C881.4,283.5 885.4,286 889.4,288.4C893.4,290.9 897.4,293.2 901.4,295.6C905.4,297.9 909.4,300.2 913.4,302.5C917.5,304.7 921.5,306.9 925.5,309C929.5,311.2 933.5,313.3 937.5,315.3C941.5,317.4 945.5,319.4 949.5,321.4C953.5,323.3 957.5,325.3 961.5,327.1C965.5,329 969.5,330.9 973.5,332.7C977.5,334.5 981.5,336.2 985.5,337.9C989.6,339.6 993.6,341.3 997.6,343C1001.6,344.6 1005.6,346.2 1009.6,347.8C1013.6,349.3 1017.6,350.8 1021.6,352.3C1025.6,353.8 1029.6,355.3 1033.6,356.7C1037.6,358.1 1041.6,359.5 1045.6,360.9C1049.6,362.2 1053.6,363.5 1057.6,364.8C1061.6,366.1 1065.7,367.4 1069.7,368.6C1073.7,369.8 1077.7,371 1081.7,372.2C1085.7,373.3 1089.7,374.5 1093.7,375.6C1097.7,376.7 1101.7,377.8 1105.7,378.8C1109.7,379.9 1113.7,380.9 1117.7,381.9C1121.7,382.9 1125.7,383.9 1129.7,384.8C1133.7,385.8 1137.8,386.7 1141.8,387.6C1145.8,388.5 1149.8,389.4 1153.8,390.3C1157.8,391.2 1161.8,392 1165.8,392.8C1169.8,393.7 1173.8,394.5 1177.8,395.2C1181.8,396 1185.8,396.8 1189.8,397.6C1193.8,398.3 1197.8,399 1201.8,399.8C1205.8,400.5 1209.8,401.2 1213.9,401.9C1217.9,402.6 1221.9,403.2 1225.9,403.9C1229.9,404.6 1233.9,405.2 1237.9,405.8C1241.9,406.5 1245.9,407.1 1249.9,407.7C1253.9,408.3 1257.9,408.9 1261.9,409.5C1265.9,410.1 1269.9,410.7 1273.9,411.3C1277.9,411.9 1281.9,412.4 1286,413C1290,413.6 1294,414.1 1298,414.7C1302,415.2 1306,415.8 1310,416.3C1314,416.9 1318,417.4 1322,418C1326,418.5 1330,419 1334,419.6C1338,420.1 1342,420.6 1346,421.2C1350,421.7 1354,422.3 1358.1,422.8C1362.1,423.3 1366.1,423.9 1370.1,424.4C1374.1,425 1378.1,425.5 1382.1,426C1386.1,426.6 1392.1,427.4 1394.1,427.7 M805.3,298.8C807.3,299.8 813.3,302.8 817.3,304.8C821.3,306.7 825.3,308.6 829.3,310.5C833.3,312.4 837.3,314.3 841.3,316.1C845.4,318 849.4,319.8 853.4,321.6C857.4,323.4 861.4,325.1 865.4,326.9C869.4,328.6 873.4,330.3 877.4,332C881.4,333.7 885.4,335.4 889.4,337C893.4,338.7 897.4,340.3 901.4,341.9C905.4,343.5 909.4,345.1 913.4,346.6C917.5,348.2 921.5,349.7 925.5,351.2C929.5,352.7 933.5,354.2 937.5,355.6C941.5,357.1 945.5,358.5 949.5,359.9C953.5,361.3 957.5,362.7 961.5,364.1C965.5,365.5 969.5,366.8 973.5,368.1C977.5,369.5 981.5,370.8 985.5,372C989.6,373.3 993.6,374.6 997.6,375.8C1001.6,377.1 1005.6,378.3 1009.6,379.5C1013.6,380.7 1017.6,381.9 1021.6,383C1025.6,384.2 1029.6,385.3 1033.6,386.4C1037.6,387.6 1041.6,388.7 1045.6,389.8C1049.6,390.8 1053.6,391.9 1057.6,392.9C1061.6,394 1065.7,395 1069.7,396C1073.7,397 1077.7,398 1081.7,399C1085.7,400 1089.7,400.9 1093.7,401.9C1097.7,402.8 1101.7,403.7 1105.7,404.6C1109.7,405.5 1113.7,406.4 1117.7,407.3C1121.7,408.1 1125.7,409 1129.7,409.8C1133.7,410.7 1137.8,411.5 1141.8,412.3C1145.8,413.1 1149.8,413.9 1153.8,414.7C1157.8,415.4 1161.8,416.2 1165.8,416.9C1169.8,417.7 1173.8,418.4 1177.8,419.1C1181.8,419.8 1185.8,420.5 1189.8,421.2C1193.8,421.9 1197.8,422.6 1201.8,423.3C1205.8,423.9 1209.8,424.6 1213.9,425.2C1217.9,425.8 1221.9,426.4 1225.9,427C1229.9,427.7 1233.9,428.2 1237.9,428.8C1241.9,429.4 1245.9,430 1249.9,430.5C1253.9,431.1 1257.9,431.6 1261.9,432.2C1265.9,432.7 1269.9,433.2 1273.9,433.7C1277.9,434.2 1281.9,434.7 1286,435.2C1290,435.7 1294,436.2 1298,436.7C1302,437.1 1306,437.6 1310,438C1314,438.5 1318,438.9 1322,439.3C1326,439.8 1330,440.2 1334,440.6C1338,441 1342,441.4 1346,441.8C1350,442.2 1354,442.5 1358.1,442.9C1362.1,443.3 1366.1,443.7 1370.1,444C1374.1,444.4 1378.1,444.7 1382.1,445.1C1386.1,445.4 1392.1,445.9 1394.1,446.1 M1394.1,468.7C1381.6,467.4 1343.9,463.6 1319.4,460.9C1294.9,458.1 1271.3,455.4 1247,452.2C1222.7,449 1198,445.4 1173.5,441.5C1149,437.6 1124.6,433.6 1100,429C1075.4,424.4 1050.7,419.2 1026,413.7C1001.3,408.1 966.7,399.2 952,395.7C937.3,392.1 943.6,393.8 937.8,392.4C932,391 923.9,388.9 917,387.4C910.1,385.9 902.8,384.5 896.2,383.2C889.6,381.9 883.6,380.4 877.4,379.8C871.1,379.2 863.4,379.5 858.7,379.8C854,380.1 851.5,380.8 849,381.8C846.5,382.8 844.7,384.3 843.4,386C842.1,387.7 841.5,390.1 841.4,392.2C841.3,394.3 841.8,396.1 842.8,398.5C843.8,400.9 845,403.6 847.6,406.8C850.2,410 854.1,414 858.7,417.9C863.3,421.8 869,426.5 875.3,430.4C881.5,434.3 889.2,438.3 896.2,441.5C903.2,444.7 910.1,447.5 917,449.8C923.9,452.1 932,454 937.8,455.3C943.6,456.6 937.3,455.2 952,457.8C966.7,460.4 1001.3,467.5 1026,470.6C1050.7,473.7 1075.4,474.9 1100,476.5C1124.6,478.1 1149,479.3 1173.5,480C1198,480.7 1222.7,480.5 1247,480.9C1271.3,481.3 1294.9,482.4 1319.4,482.6C1343.9,482.9 1381.6,482.4 1394.1,482.4 M805.3,431.1C807.3,432.2 813.3,435.5 817.3,437.6C821.3,439.7 825.3,441.6 829.3,443.5C833.3,445.3 837.3,447.1 841.3,448.7C845.4,450.4 849.4,451.9 853.4,453.4C857.4,454.9 861.4,456.3 865.4,457.6C869.4,458.9 873.4,460.2 877.4,461.4C881.4,462.6 885.4,463.7 889.4,464.7C893.4,465.8 897.4,466.8 901.4,467.7C905.4,468.7 909.4,469.6 913.4,470.4C917.5,471.3 921.5,472.1 925.5,472.9C929.5,473.7 933.5,474.5 937.5,475.2C941.5,475.9 945.5,476.6 949.5,477.3C953.5,478 957.5,478.7 961.5,479.3C965.5,479.9 969.5,480.6 973.5,481.1C977.5,481.7 981.5,482.3 985.5,482.8C989.6,483.4 993.6,483.9 997.6,484.4C1001.6,484.9 1005.6,485.4 1009.6,485.8C1013.6,486.3 1017.6,486.7 1021.6,487.1C1025.6,487.6 1029.6,488 1033.6,488.3C1037.6,488.7 1041.6,489.1 1045.6,489.4C1049.6,489.8 1053.6,490.1 1057.6,490.4C1061.6,490.7 1065.7,491 1069.7,491.3C1073.7,491.6 1077.7,491.8 1081.7,492.1C1085.7,492.3 1089.7,492.6 1093.7,492.8C1097.7,493 1101.7,493.2 1105.7,493.4C1109.7,493.6 1113.7,493.8 1117.7,493.9C1121.7,494.1 1125.7,494.3 1129.7,494.4C1133.7,494.6 1137.8,494.7 1141.8,494.8C1145.8,495 1149.8,495.1 1153.8,495.2C1157.8,495.3 1161.8,495.4 1165.8,495.5C1169.8,495.6 1173.8,495.7 1177.8,495.8C1181.8,495.8 1185.8,495.9 1189.8,496C1193.8,496.1 1197.8,496.1 1201.8,496.2C1205.8,496.2 1209.8,496.3 1213.9,496.3C1217.9,496.4 1221.9,496.4 1225.9,496.5C1229.9,496.5 1233.9,496.6 1237.9,496.6C1241.9,496.6 1245.9,496.7 1249.9,496.7C1253.9,496.8 1257.9,496.8 1261.9,496.8C1265.9,496.9 1269.9,496.9 1273.9,496.9C1277.9,497 1281.9,497 1286,497.1C1290,497.1 1294,497.1 1298,497.2C1302,497.2 1306,497.3 1310,497.3C1314,497.4 1318,497.5 1322,497.5C1326,497.6 1330,497.6 1334,497.7C1338,497.8 1342,497.9 1346,498C1350,498.1 1354,498.2 1358.1,498.3C1362.1,498.4 1366.1,498.5 1370.1,498.6C1374.1,498.7 1378.1,498.8 1382.1,499C1386.1,499.1 1392.1,499.4 1394.1,499.4"/>
<path class="s sb" d="M805.3,462.9C807.8,463.8 815.4,466.3 820.4,467.8C825.4,469.4 830.5,470.9 835.5,472.4C840.5,473.8 845.6,475.2 850.6,476.6C855.6,477.9 860.7,479.2 865.7,480.4C870.7,481.6 875.8,482.7 880.8,483.7C885.8,484.8 890.9,485.7 895.9,486.7C900.9,487.6 905.9,488.4 911,489.3C916,490.1 921,490.9 926.1,491.6C931.1,492.3 936.1,493 941.2,493.6C946.2,494.2 951.2,494.7 956.3,495.2C961.3,495.7 966.3,496.1 971.4,496.5C976.4,496.9 981.4,497.3 986.5,497.7C991.5,498 996.5,498.4 1001.6,498.7C1006.6,499 1011.6,499.3 1016.7,499.6C1021.7,499.9 1026.7,500.2 1031.8,500.4C1036.8,500.7 1041.8,500.9 1046.9,501.2C1051.9,501.4 1056.9,501.6 1062,501.9C1067,502.1 1072,502.3 1077.1,502.5C1082.1,502.7 1087.1,502.9 1092.2,503.1C1097.2,503.4 1102.2,503.6 1107.2,503.7C1112.3,503.9 1117.3,504.1 1122.3,504.3C1127.4,504.5 1132.4,504.7 1137.4,504.8C1142.5,505 1147.5,505.1 1152.5,505.3C1157.6,505.5 1162.6,505.6 1167.6,505.7C1172.7,505.9 1177.7,506 1182.7,506.1C1187.8,506.3 1192.8,506.4 1197.8,506.5C1202.9,506.6 1207.9,506.7 1212.9,506.8C1218,506.9 1223,507 1228,507.1C1233.1,507.2 1238.1,507.3 1243.1,507.4C1248.2,507.5 1253.2,507.6 1258.2,507.7C1263.3,507.8 1268.3,507.9 1273.3,508C1278.4,508.1 1283.4,508.1 1288.4,508.2C1293.5,508.3 1298.5,508.4 1303.5,508.5C1308.5,508.5 1313.6,508.6 1318.6,508.7C1323.6,508.7 1328.7,508.8 1333.7,508.9C1338.7,508.9 1343.8,509 1348.8,509C1353.8,509.1 1358.9,509.1 1363.9,509.2C1368.9,509.2 1374,509.2 1379,509.3C1384,509.3 1391.6,509.3 1394.1,509.3 M805.3,486C807.8,486.6 815.4,488.3 820.4,489.4C825.4,490.5 830.5,491.5 835.5,492.6C840.5,493.6 845.6,494.6 850.6,495.5C855.6,496.4 860.7,497.3 865.7,498.2C870.7,499 875.8,499.8 880.8,500.6C885.8,501.4 890.9,502.1 895.9,502.7C900.9,503.4 905.9,504.1 911,504.7C916,505.3 921,506 926.1,506.5C931.1,507.1 936.1,507.6 941.2,508C946.2,508.5 951.2,508.9 956.3,509.2C961.3,509.6 966.3,509.9 971.4,510.2C976.4,510.5 981.4,510.8 986.5,511C991.5,511.3 996.5,511.5 1001.6,511.7C1006.6,512 1011.6,512.2 1016.7,512.4C1021.7,512.6 1026.7,512.8 1031.8,512.9C1036.8,513.1 1041.8,513.3 1046.9,513.4C1051.9,513.6 1056.9,513.8 1062,513.9C1067,514.1 1072,514.2 1077.1,514.3C1082.1,514.5 1087.1,514.6 1092.2,514.7C1097.2,514.9 1102.2,515 1107.2,515.1C1112.3,515.3 1117.3,515.4 1122.3,515.5C1127.4,515.6 1132.4,515.7 1137.4,515.8C1142.5,515.9 1147.5,516 1152.5,516.1C1157.6,516.2 1162.6,516.3 1167.6,516.4C1172.7,516.5 1177.7,516.6 1182.7,516.6C1187.8,516.7 1192.8,516.8 1197.8,516.8C1202.9,516.9 1207.9,517 1212.9,517C1218,517.1 1223,517.2 1228,517.2C1233.1,517.3 1238.1,517.3 1243.1,517.4C1248.2,517.5 1253.2,517.5 1258.2,517.6C1263.3,517.6 1268.3,517.7 1273.3,517.7C1278.4,517.8 1283.4,517.8 1288.4,517.9C1293.5,517.9 1298.5,518 1303.5,518C1308.5,518.1 1313.6,518.1 1318.6,518.2C1323.6,518.2 1328.7,518.2 1333.7,518.3C1338.7,518.3 1343.8,518.3 1348.8,518.4C1353.8,518.4 1358.9,518.4 1363.9,518.4C1368.9,518.4 1374,518.5 1379,518.5C1384,518.5 1391.6,518.5 1394.1,518.5 M805.3,506C807.8,506.4 815.4,507.5 820.4,508.3C825.4,509 830.5,509.7 835.5,510.4C840.5,511.1 845.6,511.7 850.6,512.4C855.6,513 860.7,513.6 865.7,514.2C870.7,514.8 875.8,515.3 880.8,515.9C885.8,516.4 890.9,516.9 895.9,517.4C900.9,517.8 905.9,518.3 911,518.8C916,519.2 921,519.6 926.1,520C931.1,520.4 936.1,520.8 941.2,521.1C946.2,521.5 951.2,521.7 956.3,522C961.3,522.2 966.3,522.4 971.4,522.6C976.4,522.8 981.4,523 986.5,523.2C991.5,523.4 996.5,523.6 1001.6,523.7C1006.6,523.9 1011.6,524 1016.7,524.2C1021.7,524.3 1026.7,524.4 1031.8,524.5C1036.8,524.6 1041.8,524.7 1046.9,524.8C1051.9,524.9 1056.9,525 1062,525.1C1067,525.2 1072,525.2 1077.1,525.3C1082.1,525.4 1087.1,525.5 1092.2,525.5C1097.2,525.6 1102.2,525.7 1107.2,525.7C1112.3,525.8 1117.3,525.8 1122.3,525.9C1127.4,525.9 1132.4,526 1137.4,526C1142.5,526.1 1147.5,526.1 1152.5,526.2C1157.6,526.2 1162.6,526.3 1167.6,526.3C1172.7,526.4 1177.7,526.4 1182.7,526.4C1187.8,526.5 1192.8,526.5 1197.8,526.5C1202.9,526.5 1207.9,526.6 1212.9,526.6C1218,526.6 1223,526.7 1228,526.7C1233.1,526.7 1238.1,526.7 1243.1,526.8C1248.2,526.8 1253.2,526.8 1258.2,526.8C1263.3,526.9 1268.3,526.9 1273.3,526.9C1278.4,526.9 1283.4,527 1288.4,527C1293.5,527 1298.5,527 1303.5,527C1308.5,527.1 1313.6,527.1 1318.6,527.1C1323.6,527.1 1328.7,527.1 1333.7,527.1C1338.7,527.2 1343.8,527.2 1348.8,527.2C1353.8,527.2 1358.9,527.2 1363.9,527.2C1368.9,527.2 1374,527.2 1379,527.2C1384,527.2 1391.6,527.2 1394.1,527.2 M805.3,523.5C807.8,523.7 815.4,524.5 820.4,524.9C825.4,525.4 830.5,525.8 835.5,526.3C840.5,526.7 845.6,527.1 850.6,527.5C855.6,527.9 860.7,528.3 865.7,528.7C870.7,529 875.8,529.4 880.8,529.7C885.8,530.1 890.9,530.4 895.9,530.7C900.9,531 905.9,531.3 911,531.6C916,531.9 921,532.1 926.1,532.4C931.1,532.6 936.1,532.9 941.2,533.1C946.2,533.3 951.2,533.5 956.3,533.6C961.3,533.8 966.3,533.9 971.4,534C976.4,534.2 981.4,534.3 986.5,534.5C991.5,534.6 996.5,534.7 1001.6,534.8C1006.6,534.9 1011.6,535 1016.7,535.1C1021.7,535.2 1026.7,535.2 1031.8,535.3C1036.8,535.3 1041.8,535.4 1046.9,535.4C1051.9,535.4 1056.9,535.4 1062,535.4C1067,535.4 1072,535.5 1077.1,535.5C1082.1,535.5 1087.1,535.5 1092.2,535.5C1097.2,535.5 1102.2,535.5 1107.2,535.5C1112.3,535.5 1117.3,535.5 1122.3,535.6C1127.4,535.6 1132.4,535.6 1137.4,535.6C1142.5,535.6 1147.5,535.6 1152.5,535.6C1157.6,535.6 1162.6,535.6 1167.6,535.6C1172.7,535.6 1177.7,535.6 1182.7,535.6C1187.8,535.6 1192.8,535.6 1197.8,535.6C1202.9,535.6 1207.9,535.6 1212.9,535.6C1218,535.6 1223,535.6 1228,535.6C1233.1,535.6 1238.1,535.6 1243.1,535.6C1248.2,535.6 1253.2,535.6 1258.2,535.6C1263.3,535.6 1268.3,535.6 1273.3,535.6C1278.4,535.6 1283.4,535.6 1288.4,535.6C1293.5,535.6 1298.5,535.6 1303.5,535.6C1308.5,535.6 1313.6,535.6 1318.6,535.6C1323.6,535.6 1328.7,535.6 1333.7,535.6C1338.7,535.6 1343.8,535.6 1348.8,535.6C1353.8,535.6 1358.9,535.6 1363.9,535.6C1368.9,535.6 1374,535.6 1379,535.6C1384,535.6 1391.6,535.6 1394.1,535.6 M805.3,539C807.8,539.1 815.4,539.5 820.4,539.8C825.4,540.1 830.5,540.3 835.5,540.5C840.5,540.8 845.6,541 850.6,541.2C855.6,541.4 860.7,541.6 865.7,541.8C870.7,542 875.8,542.2 880.8,542.4C885.8,542.6 890.9,542.7 895.9,542.9C900.9,543 905.9,543.2 911,543.3C916,543.5 921,543.6 926.1,543.7C931.1,543.8 936.1,543.9 941.2,544C946.2,544.1 951.2,544.2 956.3,544.3C961.3,544.4 966.3,544.5 971.4,544.5C976.4,544.6 981.4,544.7 986.5,544.7C991.5,544.8 996.5,544.9 1001.6,544.9C1006.6,545 1011.6,545.1 1016.7,545.1C1021.7,545.1 1026.7,545.2 1031.8,545.2C1036.8,545.2 1041.8,545.2 1046.9,545.2C1051.9,545.2 1056.9,545.2 1062,545.2C1067,545.2 1072,545.2 1077.1,545.1C1082.1,545.1 1087.1,545.1 1092.2,545C1097.2,545 1102.2,545 1107.2,544.9C1112.3,544.9 1117.3,544.8 1122.3,544.8C1127.4,544.7 1132.4,544.7 1137.4,544.7C1142.5,544.6 1147.5,544.6 1152.5,544.5C1157.6,544.5 1162.6,544.4 1167.6,544.4C1172.7,544.4 1177.7,544.3 1182.7,544.3C1187.8,544.2 1192.8,544.2 1197.8,544.2C1202.9,544.2 1207.9,544.2 1212.9,544.1C1218,544.1 1223,544.1 1228,544.1C1233.1,544 1238.1,544 1243.1,544C1248.2,544 1253.2,544 1258.2,543.9C1263.3,543.9 1268.3,543.9 1273.3,543.9C1278.4,543.9 1283.4,543.8 1288.4,543.8C1293.5,543.8 1298.5,543.8 1303.5,543.8C1308.5,543.8 1313.6,543.7 1318.6,543.7C1323.6,543.7 1328.7,543.7 1333.7,543.7C1338.7,543.7 1343.8,543.7 1348.8,543.7C1353.8,543.6 1358.9,543.6 1363.9,543.6C1368.9,543.6 1374,543.6 1379,543.6C1384,543.6 1391.6,543.6 1394.1,543.6 M805.3,552.9C807.8,552.9 815.4,553.1 820.4,553.2C825.4,553.3 830.5,553.4 835.5,553.5C840.5,553.6 845.6,553.6 850.6,553.7C855.6,553.8 860.7,553.9 865.7,553.9C870.7,554 875.8,554 880.8,554C885.8,554.1 890.9,554.1 895.9,554.1C900.9,554.1 905.9,554.1 911,554.1C916,554.1 921,554.1 926.1,554.1C931.1,554.1 936.1,554.1 941.2,554.1C946.2,554.2 951.2,554.2 956.3,554.2C961.3,554.2 966.3,554.2 971.4,554.2C976.4,554.2 981.4,554.2 986.5,554.3C991.5,554.3 996.5,554.3 1001.6,554.3C1006.6,554.3 1011.6,554.4 1016.7,554.4C1021.7,554.4 1026.7,554.4 1031.8,554.4C1036.8,554.4 1041.8,554.4 1046.9,554.4C1051.9,554.4 1056.9,554.4 1062,554.4C1067,554.3 1072,554.3 1077.1,554.2C1082.1,554.2 1087.1,554.1 1092.2,554C1097.2,554 1102.2,553.9 1107.2,553.8C1112.3,553.7 1117.3,553.6 1122.3,553.5C1127.4,553.5 1132.4,553.4 1137.4,553.3C1142.5,553.2 1147.5,553.1 1152.5,553C1157.6,552.9 1162.6,552.8 1167.6,552.7C1172.7,552.7 1177.7,552.6 1182.7,552.5C1187.8,552.5 1192.8,552.4 1197.8,552.4C1202.9,552.3 1207.9,552.3 1212.9,552.2C1218,552.2 1223,552.2 1228,552.1C1233.1,552.1 1238.1,552 1243.1,552C1248.2,552 1253.2,551.9 1258.2,551.9C1263.3,551.9 1268.3,551.8 1273.3,551.8C1278.4,551.7 1283.4,551.7 1288.4,551.7C1293.5,551.7 1298.5,551.6 1303.5,551.6C1308.5,551.6 1313.6,551.5 1318.6,551.5C1323.6,551.5 1328.7,551.5 1333.7,551.4C1338.7,551.4 1343.8,551.4 1348.8,551.4C1353.8,551.3 1358.9,551.3 1363.9,551.3C1368.9,551.3 1374,551.3 1379,551.3C1384,551.3 1391.6,551.2 1394.1,551.2 M805.3,565.5C807.8,565.5 815.4,565.4 820.4,565.4C825.4,565.3 830.5,565.3 835.5,565.2C840.5,565.2 845.6,565.1 850.6,565.1C855.6,565 860.7,565 865.7,564.9C870.7,564.8 875.8,564.8 880.8,564.7C885.8,564.6 890.9,564.6 895.9,564.5C900.9,564.4 905.9,564.3 911,564.2C916,564.1 921,564 926.1,563.8C931.1,563.7 936.1,563.6 941.2,563.5C946.2,563.4 951.2,563.4 956.3,563.3C961.3,563.3 966.3,563.3 971.4,563.3C976.4,563.2 981.4,563.2 986.5,563.2C991.5,563.2 996.5,563.2 1001.6,563.2C1006.6,563.2 1011.6,563.2 1016.7,563.1C1021.7,563.1 1026.7,563.1 1031.8,563.1C1036.8,563.1 1041.8,563 1046.9,563C1051.9,563 1056.9,562.9 1062,562.9C1067,562.8 1072,562.7 1077.1,562.7C1082.1,562.6 1087.1,562.5 1092.2,562.4C1097.2,562.3 1102.2,562.2 1107.2,562.1C1112.3,561.9 1117.3,561.8 1122.3,561.7C1127.4,561.6 1132.4,561.5 1137.4,561.4C1142.5,561.2 1147.5,561.1 1152.5,561C1157.6,560.9 1162.6,560.8 1167.6,560.7C1172.7,560.6 1177.7,560.5 1182.7,560.4C1187.8,560.3 1192.8,560.3 1197.8,560.2C1202.9,560.1 1207.9,560.1 1212.9,560C1218,560 1223,559.9 1228,559.8C1233.1,559.8 1238.1,559.7 1243.1,559.7C1248.2,559.6 1253.2,559.6 1258.2,559.5C1263.3,559.5 1268.3,559.4 1273.3,559.4C1278.4,559.3 1283.4,559.3 1288.4,559.2C1293.5,559.2 1298.5,559.1 1303.5,559.1C1308.5,559.1 1313.6,559 1318.6,559C1323.6,558.9 1328.7,558.9 1333.7,558.9C1338.7,558.8 1343.8,558.8 1348.8,558.8C1353.8,558.7 1358.9,558.7 1363.9,558.7C1368.9,558.7 1374,558.7 1379,558.6C1384,558.6 1391.6,558.6 1394.1,558.6 M805.3,577C807.8,577 815.4,576.7 820.4,576.6C825.4,576.4 830.5,576.3 835.5,576.1C840.5,576 845.6,575.8 850.6,575.7C855.6,575.5 860.7,575.3 865.7,575.2C870.7,575 875.8,574.8 880.8,574.7C885.8,574.5 890.9,574.3 895.9,574.1C900.9,574 905.9,573.7 911,573.5C916,573.3 921,573.1 926.1,572.9C931.1,572.7 936.1,572.5 941.2,572.3C946.2,572.1 951.2,572 956.3,571.9C961.3,571.9 966.3,571.8 971.4,571.8C976.4,571.7 981.4,571.7 986.5,571.6C991.5,571.6 996.5,571.5 1001.6,571.5C1006.6,571.5 1011.6,571.4 1016.7,571.4C1021.7,571.4 1026.7,571.3 1031.8,571.3C1036.8,571.2 1041.8,571.2 1046.9,571.1C1051.9,571 1056.9,571 1062,570.9C1067,570.8 1072,570.7 1077.1,570.6C1082.1,570.5 1087.1,570.3 1092.2,570.2C1097.2,570.1 1102.2,570 1107.2,569.8C1112.3,569.7 1117.3,569.6 1122.3,569.4C1127.4,569.3 1132.4,569.2 1137.4,569C1142.5,568.9 1147.5,568.8 1152.5,568.7C1157.6,568.5 1162.6,568.4 1167.6,568.3C1172.7,568.2 1177.7,568.1 1182.7,568C1187.8,567.9 1192.8,567.8 1197.8,567.7C1202.9,567.7 1207.9,567.6 1212.9,567.5C1218,567.4 1223,567.4 1228,567.3C1233.1,567.2 1238.1,567.2 1243.1,567.1C1248.2,567 1253.2,567 1258.2,566.9C1263.3,566.8 1268.3,566.8 1273.3,566.7C1278.4,566.7 1283.4,566.6 1288.4,566.5C1293.5,566.5 1298.5,566.4 1303.5,566.4C1308.5,566.3 1313.6,566.3 1318.6,566.2C1323.6,566.2 1328.7,566.1 1333.7,566.1C1338.7,566 1343.8,566 1348.8,566C1353.8,565.9 1358.9,565.9 1363.9,565.8C1368.9,565.8 1374,565.8 1379,565.8C1384,565.7 1391.6,565.7 1394.1,565.7 M805.3,587.8C807.8,587.6 815.4,587.3 820.4,587C825.4,586.7 830.5,586.5 835.5,586.2C840.5,586 845.6,585.7 850.6,585.5C855.6,585.2 860.7,585 865.7,584.7C870.7,584.4 875.8,584.2 880.8,583.9C885.8,583.7 890.9,583.4 895.9,583.2C900.9,582.9 905.9,582.6 911,582.3C916,582 921,581.6 926.1,581.4C931.1,581.1 936.1,580.8 941.2,580.6C946.2,580.4 951.2,580.2 956.3,580.1C961.3,579.9 966.3,579.8 971.4,579.8C976.4,579.7 981.4,579.6 986.5,579.5C991.5,579.5 996.5,579.4 1001.6,579.4C1006.6,579.3 1011.6,579.2 1016.7,579.2C1021.7,579.1 1026.7,579.1 1031.8,579C1036.8,578.9 1041.8,578.8 1046.9,578.8C1051.9,578.7 1056.9,578.6 1062,578.5C1067,578.3 1072,578.2 1077.1,578.1C1082.1,578 1087.1,577.8 1092.2,577.7C1097.2,577.6 1102.2,577.4 1107.2,577.3C1112.3,577.2 1117.3,577 1122.3,576.9C1127.4,576.7 1132.4,576.6 1137.4,576.5C1142.5,576.3 1147.5,576.2 1152.5,576.1C1157.6,575.9 1162.6,575.8 1167.6,575.7C1172.7,575.6 1177.7,575.4 1182.7,575.3C1187.8,575.2 1192.8,575.1 1197.8,575C1202.9,575 1207.9,574.9 1212.9,574.8C1218,574.7 1223,574.6 1228,574.5C1233.1,574.5 1238.1,574.4 1243.1,574.3C1248.2,574.2 1253.2,574.2 1258.2,574.1C1263.3,574 1268.3,573.9 1273.3,573.9C1278.4,573.8 1283.4,573.7 1288.4,573.6C1293.5,573.6 1298.5,573.5 1303.5,573.4C1308.5,573.4 1313.6,573.3 1318.6,573.3C1323.6,573.2 1328.7,573.1 1333.7,573.1C1338.7,573 1343.8,573 1348.8,572.9C1353.8,572.9 1358.9,572.8 1363.9,572.8C1368.9,572.7 1374,572.7 1379,572.7C1384,572.6 1391.6,572.6 1394.1,572.6 M805.3,597.8C807.8,597.6 815.4,597.1 820.4,596.7C825.4,596.4 830.5,596 835.5,595.7C840.5,595.3 845.6,595 850.6,594.6C855.6,594.3 860.7,594 865.7,593.6C870.7,593.3 875.8,593 880.8,592.6C885.8,592.3 890.9,592 895.9,591.6C900.9,591.3 905.9,590.9 911,590.5C916,590.1 921,589.7 926.1,589.4C931.1,589 936.1,588.7 941.2,588.4C946.2,588.1 951.2,587.9 956.3,587.8C961.3,587.6 966.3,587.5 971.4,587.4C976.4,587.3 981.4,587.2 986.5,587.1C991.5,587 996.5,586.9 1001.6,586.8C1006.6,586.7 1011.6,586.7 1016.7,586.6C1021.7,586.5 1026.7,586.4 1031.8,586.3C1036.8,586.2 1041.8,586.1 1046.9,586C1051.9,585.9 1056.9,585.8 1062,585.7C1067,585.6 1072,585.4 1077.1,585.3C1082.1,585.2 1087.1,585 1092.2,584.9C1097.2,584.8 1102.2,584.6 1107.2,584.5C1112.3,584.3 1117.3,584.2 1122.3,584.1C1127.4,583.9 1132.4,583.8 1137.4,583.6C1142.5,583.5 1147.5,583.4 1152.5,583.2C1157.6,583.1 1162.6,583 1167.6,582.9C1172.7,582.7 1177.7,582.6 1182.7,582.5C1187.8,582.4 1192.8,582.3 1197.8,582.2C1202.9,582.1 1207.9,582 1212.9,581.9C1218,581.8 1223,581.7 1228,581.6C1233.1,581.5 1238.1,581.4 1243.1,581.3C1248.2,581.3 1253.2,581.2 1258.2,581.1C1263.3,581 1268.3,580.9 1273.3,580.8C1278.4,580.7 1283.4,580.7 1288.4,580.6C1293.5,580.5 1298.5,580.4 1303.5,580.3C1308.5,580.3 1313.6,580.2 1318.6,580.1C1323.6,580.1 1328.7,580 1333.7,579.9C1338.7,579.9 1343.8,579.8 1348.8,579.7C1353.8,579.7 1358.9,579.6 1363.9,579.5C1368.9,579.5 1374,579.4 1379,579.4C1384,579.3 1391.6,579.3 1394.1,579.2 M805.3,607.1C807.8,606.9 815.4,606.2 820.4,605.8C825.4,605.4 830.5,604.9 835.5,604.5C840.5,604.1 845.6,603.7 850.6,603.3C855.6,602.8 860.7,602.4 865.7,602C870.7,601.6 875.8,601.2 880.8,600.8C885.8,600.4 890.9,600 895.9,599.6C900.9,599.2 905.9,598.7 911,598.3C916,597.9 921,597.4 926.1,597C931.1,596.6 936.1,596.2 941.2,595.9C946.2,595.6 951.2,595.3 956.3,595.1C961.3,594.9 966.3,594.8 971.4,594.6C976.4,594.5 981.4,594.4 986.5,594.3C991.5,594.1 996.5,594 1001.6,593.9C1006.6,593.8 1011.6,593.8 1016.7,593.7C1021.7,593.6 1026.7,593.5 1031.8,593.4C1036.8,593.3 1041.8,593.1 1046.9,593C1051.9,592.9 1056.9,592.8 1062,592.6C1067,592.5 1072,592.4 1077.1,592.2C1082.1,592.1 1087.1,592 1092.2,591.8C1097.2,591.7 1102.2,591.6 1107.2,591.4C1112.3,591.3 1117.3,591.2 1122.3,591C1127.4,590.9 1132.4,590.8 1137.4,590.6C1142.5,590.5 1147.5,590.4 1152.5,590.2C1157.6,590.1 1162.6,590 1167.6,589.8C1172.7,589.7 1177.7,589.6 1182.7,589.5C1187.8,589.4 1192.8,589.3 1197.8,589.2C1202.9,589.1 1207.9,589 1212.9,588.8C1218,588.7 1223,588.6 1228,588.5C1233.1,588.4 1238.1,588.3 1243.1,588.2C1248.2,588.1 1253.2,588 1258.2,588C1263.3,587.9 1268.3,587.8 1273.3,587.7C1278.4,587.6 1283.4,587.5 1288.4,587.4C1293.5,587.3 1298.5,587.2 1303.5,587.1C1308.5,587 1313.6,587 1318.6,586.9C1323.6,586.8 1328.7,586.7 1333.7,586.6C1338.7,586.5 1343.8,586.5 1348.8,586.4C1353.8,586.3 1358.9,586.2 1363.9,586.2C1368.9,586.1 1374,586 1379,586C1384,585.9 1391.6,585.8 1394.1,585.8 M805.3,615.9C807.8,615.6 815.4,614.9 820.4,614.4C825.4,613.8 830.5,613.3 835.5,612.8C840.5,612.3 845.6,611.9 850.6,611.4C855.6,610.9 860.7,610.4 865.7,609.9C870.7,609.5 875.8,609 880.8,608.5C885.8,608.1 890.9,607.6 895.9,607.2C900.9,606.7 905.9,606.2 911,605.7C916,605.2 921,604.7 926.1,604.3C931.1,603.8 936.1,603.4 941.2,603C946.2,602.7 951.2,602.4 956.3,602.2C961.3,602 966.3,601.8 971.4,601.6C976.4,601.5 981.4,601.3 986.5,601.2C991.5,601 996.5,600.9 1001.6,600.8C1006.6,600.7 1011.6,600.6 1016.7,600.4C1021.7,600.3 1026.7,600.2 1031.8,600.1C1036.8,600 1041.8,599.9 1046.9,599.7C1051.9,599.6 1056.9,599.5 1062,599.3C1067,599.2 1072,599.1 1077.1,598.9C1082.1,598.8 1087.1,598.7 1092.2,598.6C1097.2,598.4 1102.2,598.3 1107.2,598.2C1112.3,598 1117.3,597.9 1122.3,597.8C1127.4,597.7 1132.4,597.5 1137.4,597.4C1142.5,597.3 1147.5,597.2 1152.5,597.1C1157.6,596.9 1162.6,596.8 1167.6,596.7C1172.7,596.6 1177.7,596.5 1182.7,596.3C1187.8,596.2 1192.8,596.1 1197.8,596C1202.9,595.9 1207.9,595.8 1212.9,595.7C1218,595.6 1223,595.5 1228,595.4C1233.1,595.2 1238.1,595.1 1243.1,595C1248.2,594.9 1253.2,594.8 1258.2,594.7C1263.3,594.6 1268.3,594.5 1273.3,594.4C1278.4,594.3 1283.4,594.2 1288.4,594.1C1293.5,594 1298.5,593.9 1303.5,593.8C1308.5,593.7 1313.6,593.6 1318.6,593.5C1323.6,593.4 1328.7,593.3 1333.7,593.2C1338.7,593.1 1343.8,593 1348.8,593C1353.8,592.9 1358.9,592.8 1363.9,592.7C1368.9,592.6 1374,592.5 1379,592.4C1384,592.3 1391.6,592.2 1394.1,592.2 M805.3,624.2C807.8,623.9 815.4,623 820.4,622.4C825.4,621.8 830.5,621.2 835.5,620.7C840.5,620.1 845.6,619.6 850.6,619C855.6,618.5 860.7,617.9 865.7,617.4C870.7,616.9 875.8,616.4 880.8,615.9C885.8,615.3 890.9,614.9 895.9,614.4C900.9,613.8 905.9,613.3 911,612.8C916,612.3 921,611.7 926.1,611.3C931.1,610.8 936.1,610.3 941.2,609.9C946.2,609.6 951.2,609.3 956.3,609C961.3,608.7 966.3,608.6 971.4,608.4C976.4,608.2 981.4,608 986.5,607.8C991.5,607.7 996.5,607.5 1001.6,607.4C1006.6,607.3 1011.6,607.1 1016.7,607C1021.7,606.9 1026.7,606.8 1031.8,606.6C1036.8,606.5 1041.8,606.4 1046.9,606.2C1051.9,606.1 1056.9,606 1062,605.8C1067,605.7 1072,605.6 1077.1,605.5C1082.1,605.3 1087.1,605.2 1092.2,605.1C1097.2,605 1102.2,604.9 1107.2,604.7C1112.3,604.6 1117.3,604.5 1122.3,604.4C1127.4,604.3 1132.4,604.2 1137.4,604.1C1142.5,604 1147.5,603.8 1152.5,603.7C1157.6,603.6 1162.6,603.5 1167.6,603.4C1172.7,603.3 1177.7,603.2 1182.7,603.1C1187.8,603 1192.8,602.8 1197.8,602.7C1202.9,602.6 1207.9,602.5 1212.9,602.4C1218,602.3 1223,602.2 1228,602.1C1233.1,601.9 1238.1,601.8 1243.1,601.7C1248.2,601.6 1253.2,601.5 1258.2,601.4C1263.3,601.3 1268.3,601.2 1273.3,601.1C1278.4,600.9 1283.4,600.8 1288.4,600.7C1293.5,600.6 1298.5,600.5 1303.5,600.4C1308.5,600.3 1313.6,600.2 1318.6,600.1C1323.6,600 1328.7,599.8 1333.7,599.7C1338.7,599.6 1343.8,599.5 1348.8,599.4C1353.8,599.3 1358.9,599.2 1363.9,599.1C1368.9,599 1374,598.9 1379,598.8C1384,598.7 1391.6,598.5 1394.1,598.5 M805.3,631.9C807.8,631.5 815.4,630.5 820.4,629.9C825.4,629.3 830.5,628.6 835.5,628C840.5,627.4 845.6,626.8 850.6,626.2C855.6,625.6 860.7,625 865.7,624.5C870.7,623.9 875.8,623.3 880.8,622.8C885.8,622.3 890.9,621.7 895.9,621.2C900.9,620.7 905.9,620.1 911,619.6C916,619 921,618.5 926.1,618C931.1,617.5 936.1,617 941.2,616.6C946.2,616.2 951.2,615.9 956.3,615.6C961.3,615.3 966.3,615.1 971.4,614.9C976.4,614.7 981.4,614.5 986.5,614.3C991.5,614.1 996.5,614 1001.6,613.8C1006.6,613.7 1011.6,613.5 1016.7,613.4C1021.7,613.2 1026.7,613.1 1031.8,613C1036.8,612.8 1041.8,612.7 1046.9,612.6C1051.9,612.4 1056.9,612.3 1062,612.2C1067,612 1072,611.9 1077.1,611.8C1082.1,611.7 1087.1,611.6 1092.2,611.5C1097.2,611.4 1102.2,611.3 1107.2,611.2C1112.3,611.1 1117.3,611 1122.3,610.9C1127.4,610.8 1132.4,610.7 1137.4,610.6C1142.5,610.5 1147.5,610.4 1152.5,610.3C1157.6,610.2 1162.6,610.1 1167.6,610C1172.7,609.9 1177.7,609.8 1182.7,609.7C1187.8,609.5 1192.8,609.4 1197.8,609.3C1202.9,609.2 1207.9,609.1 1212.9,609C1218,608.9 1223,608.8 1228,608.6C1233.1,608.5 1238.1,608.4 1243.1,608.3C1248.2,608.2 1253.2,608.1 1258.2,607.9C1263.3,607.8 1268.3,607.7 1273.3,607.6C1278.4,607.5 1283.4,607.4 1288.4,607.2C1293.5,607.1 1298.5,607 1303.5,606.9C1308.5,606.8 1313.6,606.6 1318.6,606.5C1323.6,606.4 1328.7,606.3 1333.7,606.2C1338.7,606 1343.8,605.9 1348.8,605.8C1353.8,605.7 1358.9,605.5 1363.9,605.4C1368.9,605.3 1374,605.2 1379,605C1384,604.9 1391.6,604.7 1394.1,604.7 M805.3,639C807.8,638.7 815.4,637.6 820.4,636.9C825.4,636.3 830.5,635.6 835.5,634.9C840.5,634.3 845.6,633.6 850.6,633C855.6,632.4 860.7,631.7 865.7,631.1C870.7,630.6 875.8,630 880.8,629.4C885.8,628.8 890.9,628.3 895.9,627.7C900.9,627.2 905.9,626.6 911,626C916,625.5 921,624.9 926.1,624.4C931.1,623.9 936.1,623.4 941.2,623C946.2,622.6 951.2,622.3 956.3,622C961.3,621.7 966.3,621.5 971.4,621.2C976.4,621 981.4,620.8 986.5,620.6C991.5,620.4 996.5,620.2 1001.6,620C1006.6,619.9 1011.6,619.7 1016.7,619.5C1021.7,619.4 1026.7,619.3 1031.8,619.1C1036.8,619 1041.8,618.8 1046.9,618.7C1051.9,618.6 1056.9,618.5 1062,618.3C1067,618.2 1072,618.1 1077.1,618C1082.1,617.9 1087.1,617.8 1092.2,617.7C1097.2,617.6 1102.2,617.5 1107.2,617.4C1112.3,617.3 1117.3,617.3 1122.3,617.2C1127.4,617.1 1132.4,617 1137.4,616.9C1142.5,616.8 1147.5,616.7 1152.5,616.6C1157.6,616.6 1162.6,616.5 1167.6,616.4C1172.7,616.3 1177.7,616.2 1182.7,616.1C1187.8,616 1192.8,615.9 1197.8,615.8C1202.9,615.7 1207.9,615.6 1212.9,615.4C1218,615.3 1223,615.2 1228,615.1C1233.1,615 1238.1,614.9 1243.1,614.7C1248.2,614.6 1253.2,614.5 1258.2,614.4C1263.3,614.3 1268.3,614.1 1273.3,614C1278.4,613.9 1283.4,613.8 1288.4,613.6C1293.5,613.5 1298.5,613.4 1303.5,613.3C1308.5,613.1 1313.6,613 1318.6,612.9C1323.6,612.7 1328.7,612.6 1333.7,612.5C1338.7,612.3 1343.8,612.2 1348.8,612.1C1353.8,611.9 1358.9,611.8 1363.9,611.6C1368.9,611.5 1374,611.4 1379,611.2C1384,611.1 1391.6,610.9 1394.1,610.8 M805.3,645.7C807.8,645.3 815.4,644.2 820.4,643.5C825.4,642.8 830.5,642.1 835.5,641.4C840.5,640.7 845.6,640 850.6,639.4C855.6,638.7 860.7,638.1 865.7,637.5C870.7,636.8 875.8,636.2 880.8,635.7C885.8,635.1 890.9,634.5 895.9,633.9C900.9,633.4 905.9,632.8 911,632.2C916,631.7 921,631.1 926.1,630.6C931.1,630.1 936.1,629.6 941.2,629.2C946.2,628.8 951.2,628.4 956.3,628.1C961.3,627.8 966.3,627.6 971.4,627.4C976.4,627.1 981.4,626.9 986.5,626.7C991.5,626.5 996.5,626.3 1001.6,626.1C1006.6,625.9 1011.6,625.7 1016.7,625.6C1021.7,625.4 1026.7,625.3 1031.8,625.1C1036.8,625 1041.8,624.8 1046.9,624.7C1051.9,624.6 1056.9,624.5 1062,624.4C1067,624.3 1072,624.2 1077.1,624.1C1082.1,624 1087.1,623.9 1092.2,623.8C1097.2,623.7 1102.2,623.6 1107.2,623.5C1112.3,623.5 1117.3,623.4 1122.3,623.3C1127.4,623.2 1132.4,623.2 1137.4,623.1C1142.5,623 1147.5,622.9 1152.5,622.9C1157.6,622.8 1162.6,622.7 1167.6,622.6C1172.7,622.5 1177.7,622.4 1182.7,622.3C1187.8,622.3 1192.8,622.2 1197.8,622.1C1202.9,621.9 1207.9,621.8 1212.9,621.7C1218,621.6 1223,621.5 1228,621.4C1233.1,621.3 1238.1,621.2 1243.1,621C1248.2,620.9 1253.2,620.8 1258.2,620.7C1263.3,620.5 1268.3,620.4 1273.3,620.3C1278.4,620.2 1283.4,620 1288.4,619.9C1293.5,619.8 1298.5,619.6 1303.5,619.5C1308.5,619.4 1313.6,619.2 1318.6,619.1C1323.6,618.9 1328.7,618.8 1333.7,618.7C1338.7,618.5 1343.8,618.4 1348.8,618.2C1353.8,618.1 1358.9,617.9 1363.9,617.8C1368.9,617.6 1374,617.5 1379,617.3C1384,617.2 1391.6,616.9 1394.1,616.8 M805.3,651.8C807.8,651.4 815.4,650.3 820.4,649.5C825.4,648.8 830.5,648.1 835.5,647.4C840.5,646.7 845.6,646 850.6,645.3C855.6,644.7 860.7,644 865.7,643.4C870.7,642.8 875.8,642.2 880.8,641.6C885.8,641 890.9,640.4 895.9,639.9C900.9,639.3 905.9,638.7 911,638.2C916,637.6 921,637 926.1,636.5C931.1,636 936.1,635.5 941.2,635.1C946.2,634.7 951.2,634.4 956.3,634.1C961.3,633.8 966.3,633.5 971.4,633.3C976.4,633 981.4,632.8 986.5,632.6C991.5,632.3 996.5,632.1 1001.6,632C1006.6,631.8 1011.6,631.6 1016.7,631.4C1021.7,631.3 1026.7,631.1 1031.8,631C1036.8,630.8 1041.8,630.7 1046.9,630.6C1051.9,630.5 1056.9,630.3 1062,630.2C1067,630.1 1072,630 1077.1,630C1082.1,629.9 1087.1,629.8 1092.2,629.7C1097.2,629.6 1102.2,629.5 1107.2,629.5C1112.3,629.4 1117.3,629.3 1122.3,629.3C1127.4,629.2 1132.4,629.1 1137.4,629.1C1142.5,629 1147.5,628.9 1152.5,628.8C1157.6,628.8 1162.6,628.7 1167.6,628.6C1172.7,628.5 1177.7,628.5 1182.7,628.4C1187.8,628.3 1192.8,628.2 1197.8,628.1C1202.9,628 1207.9,627.9 1212.9,627.8C1218,627.7 1223,627.6 1228,627.5C1233.1,627.3 1238.1,627.2 1243.1,627.1C1248.2,627 1253.2,626.9 1258.2,626.7C1263.3,626.6 1268.3,626.5 1273.3,626.4C1278.4,626.2 1283.4,626.1 1288.4,626C1293.5,625.8 1298.5,625.7 1303.5,625.6C1308.5,625.4 1313.6,625.3 1318.6,625.1C1323.6,625 1328.7,624.8 1333.7,624.7C1338.7,624.6 1343.8,624.4 1348.8,624.2C1353.8,624.1 1358.9,623.9 1363.9,623.8C1368.9,623.6 1374,623.5 1379,623.3C1384,623.1 1391.6,622.9 1394.1,622.8 M805.3,657.4C807.8,657.1 815.4,655.9 820.4,655.2C825.4,654.4 830.5,653.7 835.5,653C840.5,652.3 845.6,651.6 850.6,650.9C855.6,650.3 860.7,649.6 865.7,649C870.7,648.4 875.8,647.7 880.8,647.2C885.8,646.6 890.9,646 895.9,645.5C900.9,644.9 905.9,644.3 911,643.8C916,643.2 921,642.7 926.1,642.2C931.1,641.7 936.1,641.2 941.2,640.8C946.2,640.4 951.2,640.1 956.3,639.8C961.3,639.5 966.3,639.2 971.4,639C976.4,638.7 981.4,638.5 986.5,638.3C991.5,638 996.5,637.8 1001.6,637.6C1006.6,637.4 1011.6,637.3 1016.7,637.1C1021.7,636.9 1026.7,636.8 1031.8,636.6C1036.8,636.5 1041.8,636.4 1046.9,636.3C1051.9,636.1 1056.9,636 1062,635.9C1067,635.8 1072,635.7 1077.1,635.7C1082.1,635.6 1087.1,635.5 1092.2,635.4C1097.2,635.3 1102.2,635.3 1107.2,635.2C1112.3,635.1 1117.3,635.1 1122.3,635C1127.4,634.9 1132.4,634.9 1137.4,634.8C1142.5,634.7 1147.5,634.7 1152.5,634.6C1157.6,634.5 1162.6,634.4 1167.6,634.4C1172.7,634.3 1177.7,634.2 1182.7,634.1C1187.8,634 1192.8,634 1197.8,633.9C1202.9,633.8 1207.9,633.7 1212.9,633.6C1218,633.5 1223,633.3 1228,633.2C1233.1,633.1 1238.1,633 1243.1,632.9C1248.2,632.8 1253.2,632.7 1258.2,632.5C1263.3,632.4 1268.3,632.3 1273.3,632.2C1278.4,632 1283.4,631.9 1288.4,631.8C1293.5,631.6 1298.5,631.5 1303.5,631.4C1308.5,631.2 1313.6,631.1 1318.6,631C1323.6,630.8 1328.7,630.7 1333.7,630.5C1338.7,630.4 1343.8,630.2 1348.8,630.1C1353.8,629.9 1358.9,629.8 1363.9,629.6C1368.9,629.5 1374,629.3 1379,629.2C1384,629 1391.6,628.8 1394.1,628.7 M805.3,662.6C807.8,662.3 815.4,661.1 820.4,660.4C825.4,659.6 830.5,658.9 835.5,658.2C840.5,657.5 845.6,656.8 850.6,656.1C855.6,655.5 860.7,654.8 865.7,654.2C870.7,653.6 875.8,653 880.8,652.4C885.8,651.8 890.9,651.3 895.9,650.7C900.9,650.2 905.9,649.6 911,649.1C916,648.6 921,648 926.1,647.5C931.1,647.1 936.1,646.6 941.2,646.2C946.2,645.8 951.2,645.5 956.3,645.2C961.3,644.9 966.3,644.7 971.4,644.4C976.4,644.2 981.4,643.9 986.5,643.7C991.5,643.5 996.5,643.3 1001.6,643.1C1006.6,642.9 1011.6,642.7 1016.7,642.6C1021.7,642.4 1026.7,642.3 1031.8,642.1C1036.8,642 1041.8,641.9 1046.9,641.7C1051.9,641.6 1056.9,641.5 1062,641.4C1067,641.3 1072,641.2 1077.1,641.1C1082.1,641 1087.1,640.9 1092.2,640.9C1097.2,640.8 1102.2,640.7 1107.2,640.6C1112.3,640.6 1117.3,640.5 1122.3,640.4C1127.4,640.4 1132.4,640.3 1137.4,640.2C1142.5,640.1 1147.5,640.1 1152.5,640C1157.6,639.9 1162.6,639.9 1167.6,639.8C1172.7,639.7 1177.7,639.6 1182.7,639.5C1187.8,639.4 1192.8,639.4 1197.8,639.3C1202.9,639.2 1207.9,639.1 1212.9,639C1218,638.9 1223,638.7 1228,638.6C1233.1,638.5 1238.1,638.4 1243.1,638.3C1248.2,638.2 1253.2,638.1 1258.2,638C1263.3,637.9 1268.3,637.7 1273.3,637.6C1278.4,637.5 1283.4,637.4 1288.4,637.2C1293.5,637.1 1298.5,637 1303.5,636.9C1308.5,636.7 1313.6,636.6 1318.6,636.5C1323.6,636.3 1328.7,636.2 1333.7,636.1C1338.7,635.9 1343.8,635.8 1348.8,635.7C1353.8,635.5 1358.9,635.4 1363.9,635.2C1368.9,635.1 1374,635 1379,634.8C1384,634.7 1391.6,634.4 1394.1,634.4 M805.3,667.5C807.8,667.1 815.4,666 820.4,665.2C825.4,664.5 830.5,663.7 835.5,663C840.5,662.3 845.6,661.7 850.6,661C855.6,660.3 860.7,659.7 865.7,659.1C870.7,658.5 875.8,657.9 880.8,657.3C885.8,656.7 890.9,656.2 895.9,655.6C900.9,655.1 905.9,654.6 911,654.1C916,653.5 921,653 926.1,652.6C931.1,652.1 936.1,651.6 941.2,651.3C946.2,650.9 951.2,650.6 956.3,650.3C961.3,650 966.3,649.8 971.4,649.5C976.4,649.3 981.4,649.1 986.5,648.9C991.5,648.7 996.5,648.5 1001.6,648.3C1006.6,648.1 1011.6,648 1016.7,647.8C1021.7,647.7 1026.7,647.5 1031.8,647.4C1036.8,647.2 1041.8,647.1 1046.9,647C1051.9,646.9 1056.9,646.7 1062,646.6C1067,646.5 1072,646.4 1077.1,646.3C1082.1,646.2 1087.1,646.1 1092.2,646C1097.2,645.9 1102.2,645.8 1107.2,645.7C1112.3,645.7 1117.3,645.6 1122.3,645.5C1127.4,645.4 1132.4,645.3 1137.4,645.2C1142.5,645.2 1147.5,645.1 1152.5,645C1157.6,644.9 1162.6,644.8 1167.6,644.7C1172.7,644.7 1177.7,644.6 1182.7,644.5C1187.8,644.4 1192.8,644.3 1197.8,644.2C1202.9,644.1 1207.9,644 1212.9,643.9C1218,643.8 1223,643.7 1228,643.6C1233.1,643.5 1238.1,643.4 1243.1,643.3C1248.2,643.2 1253.2,643.1 1258.2,643C1263.3,642.8 1268.3,642.7 1273.3,642.6C1278.4,642.5 1283.4,642.4 1288.4,642.3C1293.5,642.2 1298.5,642.1 1303.5,642C1308.5,641.9 1313.6,641.7 1318.6,641.6C1323.6,641.5 1328.7,641.4 1333.7,641.3C1338.7,641.2 1343.8,641.1 1348.8,640.9C1353.8,640.8 1358.9,640.7 1363.9,640.6C1368.9,640.5 1374,640.4 1379,640.2C1384,640.1 1391.6,639.9 1394.1,639.9 M805.3,672.2C807.8,671.8 815.4,670.6 820.4,669.8C825.4,669.1 830.5,668.3 835.5,667.6C840.5,666.9 845.6,666.2 850.6,665.5C855.6,664.9 860.7,664.2 865.7,663.6C870.7,663 875.8,662.4 880.8,661.8C885.8,661.3 890.9,660.7 895.9,660.2C900.9,659.7 905.9,659.1 911,658.6C916,658.1 921,657.6 926.1,657.2C931.1,656.7 936.1,656.3 941.2,655.9C946.2,655.6 951.2,655.3 956.3,655C961.3,654.7 966.3,654.5 971.4,654.3C976.4,654.1 981.4,653.9 986.5,653.7C991.5,653.5 996.5,653.4 1001.6,653.2C1006.6,653 1011.6,652.9 1016.7,652.7C1021.7,652.6 1026.7,652.5 1031.8,652.3C1036.8,652.2 1041.8,652 1046.9,651.9C1051.9,651.8 1056.9,651.6 1062,651.5C1067,651.4 1072,651.3 1077.1,651.1C1082.1,651 1087.1,650.9 1092.2,650.8C1097.2,650.6 1102.2,650.5 1107.2,650.4C1112.3,650.3 1117.3,650.2 1122.3,650.1C1127.4,650 1132.4,649.9 1137.4,649.8C1142.5,649.7 1147.5,649.6 1152.5,649.5C1157.6,649.4 1162.6,649.3 1167.6,649.2C1172.7,649.1 1177.7,649 1182.7,648.9C1187.8,648.8 1192.8,648.7 1197.8,648.6C1202.9,648.5 1207.9,648.4 1212.9,648.3C1218,648.2 1223,648.1 1228,648C1233.1,647.9 1238.1,647.8 1243.1,647.7C1248.2,647.6 1253.2,647.5 1258.2,647.4C1263.3,647.3 1268.3,647.2 1273.3,647.1C1278.4,647 1283.4,646.9 1288.4,646.9C1293.5,646.8 1298.5,646.7 1303.5,646.6C1308.5,646.5 1313.6,646.4 1318.6,646.3C1323.6,646.2 1328.7,646.1 1333.7,646.1C1338.7,646 1343.8,645.9 1348.8,645.8C1353.8,645.7 1358.9,645.6 1363.9,645.6C1368.9,645.5 1374,645.4 1379,645.3C1384,645.2 1391.6,645.1 1394.1,645.1 M805.3,676.8C807.8,676.4 815.4,675.1 820.4,674.3C825.4,673.5 830.5,672.7 835.5,672C840.5,671.2 845.6,670.5 850.6,669.8C855.6,669.1 860.7,668.4 865.7,667.8C870.7,667.2 875.8,666.6 880.8,666C885.8,665.4 890.9,664.9 895.9,664.3C900.9,663.8 905.9,663.3 911,662.8C916,662.3 921,661.8 926.1,661.4C931.1,660.9 936.1,660.5 941.2,660.1C946.2,659.8 951.2,659.5 956.3,659.3C961.3,659 966.3,658.8 971.4,658.6C976.4,658.4 981.4,658.3 986.5,658.1C991.5,658 996.5,657.8 1001.6,657.7C1006.6,657.5 1011.6,657.4 1016.7,657.3C1021.7,657.1 1026.7,657 1031.8,656.9C1036.8,656.7 1041.8,656.6 1046.9,656.4C1051.9,656.3 1056.9,656.1 1062,656C1067,655.8 1072,655.7 1077.1,655.5C1082.1,655.4 1087.1,655.2 1092.2,655C1097.2,654.9 1102.2,654.7 1107.2,654.6C1112.3,654.4 1117.3,654.2 1122.3,654.1C1127.4,653.9 1132.4,653.8 1137.4,653.6C1142.5,653.5 1147.5,653.4 1152.5,653.2C1157.6,653.1 1162.6,653 1167.6,652.9C1172.7,652.7 1177.7,652.6 1182.7,652.5C1187.8,652.4 1192.8,652.3 1197.8,652.2C1202.9,652.1 1207.9,652.1 1212.9,652C1218,651.9 1223,651.8 1228,651.7C1233.1,651.6 1238.1,651.6 1243.1,651.5C1248.2,651.4 1253.2,651.3 1258.2,651.3C1263.3,651.2 1268.3,651.1 1273.3,651C1278.4,651 1283.4,650.9 1288.4,650.8C1293.5,650.8 1298.5,650.7 1303.5,650.6C1308.5,650.6 1313.6,650.5 1318.6,650.5C1323.6,650.4 1328.7,650.4 1333.7,650.3C1338.7,650.3 1343.8,650.2 1348.8,650.2C1353.8,650.1 1358.9,650.1 1363.9,650.1C1368.9,650 1374,650 1379,650C1384,650 1391.6,650 1394.1,649.9 M805.3,681.7C807.8,681.2 815.4,679.8 820.4,678.9C825.4,678 830.5,677.1 835.5,676.3C840.5,675.4 845.6,674.6 850.6,673.9C855.6,673.1 860.7,672.4 865.7,671.7C870.7,671 875.8,670.3 880.8,669.7C885.8,669.1 890.9,668.6 895.9,668C900.9,667.5 905.9,667 911,666.5C916,666 921,665.5 926.1,665C931.1,664.6 936.1,664.2 941.2,663.9C946.2,663.5 951.2,663.3 956.3,663C961.3,662.8 966.3,662.6 971.4,662.5C976.4,662.3 981.4,662.1 986.5,662C991.5,661.9 996.5,661.8 1001.6,661.6C1006.6,661.5 1011.6,661.4 1016.7,661.3C1021.7,661.2 1026.7,661.1 1031.8,660.9C1036.8,660.8 1041.8,660.7 1046.9,660.5C1051.9,660.3 1056.9,660.1 1062,660C1067,659.8 1072,659.6 1077.1,659.3C1082.1,659.1 1087.1,658.9 1092.2,658.7C1097.2,658.5 1102.2,658.2 1107.2,658C1112.3,657.8 1117.3,657.5 1122.3,657.3C1127.4,657.1 1132.4,656.9 1137.4,656.7C1142.5,656.5 1147.5,656.3 1152.5,656.1C1157.6,655.9 1162.6,655.7 1167.6,655.6C1172.7,655.5 1177.7,655.3 1182.7,655.2C1187.8,655.1 1192.8,655.1 1197.8,655C1202.9,655 1207.9,655 1212.9,654.9C1218,654.9 1223,654.9 1228,654.8C1233.1,654.8 1238.1,654.8 1243.1,654.7C1248.2,654.7 1253.2,654.7 1258.2,654.7C1263.3,654.6 1268.3,654.6 1273.3,654.6C1278.4,654.6 1283.4,654.6 1288.4,654.5C1293.5,654.5 1298.5,654.5 1303.5,654.5C1308.5,654.5 1313.6,654.4 1318.6,654.4C1323.6,654.4 1328.7,654.4 1333.7,654.4C1338.7,654.4 1343.8,654.4 1348.8,654.4C1353.8,654.4 1358.9,654.3 1363.9,654.3C1368.9,654.3 1374,654.3 1379,654.3C1384,654.3 1391.6,654.3 1394.1,654.3"/>
<path class="d" d="M1072,42.1C1074,45.4 1080,55.5 1083.9,61.7C1087.9,67.9 1091.9,73.7 1095.9,79.3C1099.8,84.8 1103.8,90.1 1107.8,95C1111.8,100 1115.7,104.7 1119.7,109.1C1123.7,113.6 1127.7,117.7 1131.6,121.7C1135.6,125.6 1139.6,129.3 1143.6,132.9C1147.6,136.4 1151.5,139.7 1155.5,142.9C1159.5,146 1163.5,149 1167.4,151.8C1171.4,154.6 1175.4,157.3 1179.4,159.9C1183.3,162.4 1187.3,164.9 1191.3,167.2C1195.3,169.6 1199.2,171.8 1203.2,174C1207.2,176.1 1211.2,178.2 1215.2,180.3C1219.1,182.4 1223.1,184.4 1227.1,186.4C1231.1,188.4 1235,190.4 1239,192.4C1243,194.4 1247,196.3 1250.9,198.3C1254.9,200.2 1258.9,202.2 1262.9,204.1C1266.9,206 1270.8,207.9 1274.8,209.7C1278.8,211.6 1282.8,213.4 1286.7,215.3C1290.7,217.1 1294.7,218.9 1298.7,220.7C1302.6,222.5 1306.6,224.2 1310.6,225.9C1314.6,227.7 1318.5,229.4 1322.5,231.1C1326.5,232.7 1330.5,234.4 1334.5,236C1338.4,237.7 1342.4,239.3 1346.4,240.8C1350.4,242.4 1354.3,244 1358.3,245.5C1362.3,247 1366.3,248.5 1370.2,249.9C1374.2,251.4 1378.2,252.8 1382.2,254.2C1386.1,255.6 1392.1,257.6 1394.1,258.2 M930,39.5C932,42.6 937.9,52.1 941.9,58C945.9,63.9 949.8,69.5 953.8,74.9C957.8,80.3 961.7,85.4 965.7,90.3C969.7,95.3 973.6,100 977.6,104.5C981.6,109 985.5,113.4 989.5,117.6C993.5,121.8 997.4,125.8 1001.4,129.8C1005.4,133.7 1009.3,137.5 1013.3,141.3C1017.3,145 1021.2,148.6 1025.2,152.2C1029.2,155.7 1033.1,159.2 1037.1,162.6C1041.1,166 1045,169.3 1049,172.6C1053,175.8 1056.9,179 1060.9,182.1C1064.9,185.2 1068.8,188.2 1072.8,191.1C1076.8,194.1 1080.7,197 1084.7,199.8C1088.7,202.6 1092.6,205.3 1096.6,208C1100.6,210.7 1104.5,213.3 1108.5,215.8C1112.5,218.3 1116.4,220.8 1120.4,223.2C1124.4,225.6 1128.3,228 1132.3,230.3C1136.3,232.6 1140.2,234.8 1144.2,237C1148.2,239.2 1152.1,241.3 1156.1,243.4C1160.1,245.4 1164,247.5 1168,249.4C1172,251.4 1175.9,253.3 1179.9,255.2C1183.9,257 1187.8,258.8 1191.8,260.6C1195.8,262.4 1199.7,264.1 1203.7,265.8C1207.7,267.5 1211.6,269.1 1215.6,270.7C1219.6,272.3 1223.5,273.8 1227.5,275.4C1231.5,276.9 1235.4,278.4 1239.4,279.8C1243.4,281.2 1247.3,282.7 1251.3,284C1255.3,285.4 1259.2,286.7 1263.2,288.1C1267.2,289.4 1271.1,290.6 1275.1,291.9C1279.1,293.2 1283,294.4 1287,295.6C1291,296.8 1294.9,298 1298.9,299.1C1302.9,300.3 1306.8,301.4 1310.8,302.5C1314.8,303.6 1318.7,304.7 1322.7,305.8C1326.7,306.8 1330.6,307.9 1334.6,308.9C1338.6,310 1342.5,311 1346.5,312C1350.5,313 1354.4,314 1358.4,315C1362.4,316 1366.3,317 1370.3,318C1374.3,319 1378.2,319.9 1382.2,320.9C1386.2,321.8 1392.1,323.3 1394.1,323.8 M849,40.8C851,44.3 857.1,54.7 861.1,61.3C865.2,68 869.2,74.4 873.2,80.6C877.3,86.8 881.3,92.8 885.3,98.6C889.4,104.5 893.4,110.1 897.5,115.5C901.5,121 905.5,126.2 909.6,131.3C913.6,136.4 917.6,141.4 921.7,146.1C925.7,150.9 929.8,155.5 933.8,159.9C937.8,164.4 941.9,168.6 945.9,172.8C949.9,176.9 954,180.9 958,184.8C962.1,188.7 966.1,192.4 970.1,196C974.2,199.6 978.2,203.1 982.2,206.4C986.3,209.8 990.3,213 994.4,216.2C998.4,219.3 1002.4,222.4 1006.5,225.3C1010.5,228.2 1014.5,231.1 1018.6,233.8C1022.6,236.6 1026.7,239.2 1030.7,241.8C1034.7,244.4 1038.8,246.9 1042.8,249.4C1046.9,251.8 1050.9,254.2 1054.9,256.5C1059,258.8 1063,261 1067,263.2C1071.1,265.4 1075.1,267.6 1079.2,269.7C1083.2,271.7 1087.2,273.8 1091.3,275.8C1095.3,277.8 1099.3,279.7 1103.4,281.6C1107.4,283.5 1111.5,285.3 1115.5,287.1C1119.5,288.9 1123.6,290.6 1127.6,292.3C1131.6,294 1135.7,295.7 1139.7,297.3C1143.8,298.9 1147.8,300.5 1151.8,302C1155.9,303.5 1159.9,305 1163.9,306.5C1168,308 1172,309.4 1176.1,310.8C1180.1,312.2 1184.1,313.5 1188.2,314.8C1192.2,316.1 1196.2,317.4 1200.3,318.7C1204.3,320 1208.4,321.2 1212.4,322.4C1216.4,323.6 1220.5,324.8 1224.5,325.9C1228.6,327.1 1232.6,328.2 1236.6,329.3C1240.7,330.4 1244.7,331.4 1248.7,332.5C1252.8,333.6 1256.8,334.6 1260.9,335.6C1264.9,336.6 1268.9,337.6 1273,338.6C1277,339.6 1281,340.6 1285.1,341.5C1289.1,342.5 1293.2,343.4 1297.2,344.3C1301.2,345.3 1305.3,346.2 1309.3,347.1C1313.3,348 1317.4,348.9 1321.4,349.8C1325.5,350.7 1329.5,351.6 1333.5,352.4C1337.6,353.3 1341.6,354.2 1345.6,355.1C1349.7,355.9 1353.7,356.8 1357.8,357.7C1361.8,358.6 1365.8,359.4 1369.9,360.3C1373.9,361.2 1377.9,362 1382,362.9C1386,363.8 1392.1,365.1 1394.1,365.6 M802.3,92.2C804.3,95.3 810.4,104.9 814.4,110.9C818.4,116.9 822.4,122.6 826.5,128.1C830.5,133.6 834.5,138.9 838.5,144.1C842.6,149.2 846.6,154.1 850.6,158.8C854.6,163.6 858.7,168.1 862.7,172.5C866.7,176.9 870.7,181.1 874.8,185.2C878.8,189.4 882.8,193.3 886.8,197.2C890.9,201 894.9,204.7 898.9,208.4C902.9,212 907,215.5 911,219C915,222.4 919,225.7 923.1,228.9C927.1,232.2 931.1,235.3 935.2,238.3C939.2,241.4 943.2,244.3 947.2,247.2C951.3,250.1 955.3,252.9 959.3,255.6C963.3,258.3 967.4,260.9 971.4,263.5C975.4,266.1 979.4,268.5 983.5,271C987.5,273.4 991.5,275.8 995.5,278C999.6,280.3 1003.6,282.6 1007.6,284.8C1011.6,286.9 1015.7,289.1 1019.7,291.1C1023.7,293.2 1027.7,295.2 1031.8,297.2C1035.8,299.1 1039.8,301 1043.9,302.9C1047.9,304.8 1051.9,306.6 1055.9,308.4C1060,310.1 1064,311.9 1068,313.5C1072,315.2 1076.1,316.9 1080.1,318.5C1084.1,320.1 1088.1,321.6 1092.2,323.2C1096.2,324.7 1100.2,326.2 1104.2,327.7C1108.3,329.1 1112.3,330.6 1116.3,332C1120.3,333.4 1124.4,334.7 1128.4,336.1C1132.4,337.4 1136.4,338.7 1140.5,340C1144.5,341.3 1148.5,342.5 1152.5,343.8C1156.6,345 1160.6,346.2 1164.6,347.4C1168.7,348.5 1172.7,349.7 1176.7,350.8C1180.7,351.9 1184.8,353 1188.8,354.1C1192.8,355.2 1196.8,356.2 1200.9,357.2C1204.9,358.3 1208.9,359.3 1212.9,360.2C1217,361.2 1221,362.2 1225,363.1C1229,364.1 1233.1,365 1237.1,365.9C1241.1,366.8 1245.1,367.7 1249.2,368.6C1253.2,369.4 1257.2,370.3 1261.2,371.1C1265.3,372 1269.3,372.8 1273.3,373.6C1277.4,374.4 1281.4,375.2 1285.4,376C1289.4,376.7 1293.5,377.5 1297.5,378.2C1301.5,379 1305.5,379.7 1309.6,380.5C1313.6,381.2 1317.6,381.9 1321.6,382.6C1325.7,383.3 1329.7,384 1333.7,384.7C1337.7,385.4 1341.8,386.1 1345.8,386.8C1349.8,387.4 1353.8,388.1 1357.9,388.8C1361.9,389.4 1365.9,390.1 1369.9,390.7C1374,391.4 1378,392 1382,392.7C1386,393.3 1392.1,394.3 1394.1,394.6 M802.3,187.2C804.3,189.5 810.4,196.4 814.4,200.7C818.4,205.1 822.4,209.3 826.5,213.3C830.5,217.4 834.5,221.3 838.5,225.1C842.6,228.8 846.6,232.5 850.6,236C854.6,239.5 858.7,242.9 862.7,246.1C866.7,249.4 870.7,252.5 874.8,255.6C878.8,258.6 882.8,261.5 886.8,264.4C890.9,267.2 894.9,269.9 898.9,272.6C902.9,275.2 907,277.8 911,280.2C915,282.7 919,285.1 923.1,287.4C927.1,289.7 931.1,291.9 935.2,294.1C939.2,296.3 943.2,298.4 947.2,300.5C951.3,302.5 955.3,304.5 959.3,306.5C963.3,308.4 967.4,310.4 971.4,312.2C975.4,314.1 979.4,316 983.5,317.8C987.5,319.6 991.5,321.3 995.5,323.1C999.6,324.8 1003.6,326.5 1007.6,328.2C1011.6,329.9 1015.7,331.5 1019.7,333.1C1023.7,334.8 1027.7,336.3 1031.8,337.9C1035.8,339.4 1039.8,340.9 1043.9,342.4C1047.9,343.9 1051.9,345.4 1055.9,346.8C1060,348.2 1064,349.6 1068,351C1072,352.4 1076.1,353.7 1080.1,355C1084.1,356.4 1088.1,357.7 1092.2,358.9C1096.2,360.2 1100.2,361.4 1104.2,362.6C1108.3,363.8 1112.3,365 1116.3,366.2C1120.3,367.3 1124.4,368.5 1128.4,369.6C1132.4,370.7 1136.4,371.8 1140.5,372.9C1144.5,373.9 1148.5,375 1152.5,376C1156.6,377 1160.6,378 1164.6,379C1168.7,379.9 1172.7,380.9 1176.7,381.8C1180.7,382.8 1184.8,383.7 1188.8,384.6C1192.8,385.5 1196.8,386.3 1200.9,387.2C1204.9,388 1208.9,388.9 1212.9,389.7C1217,390.5 1221,391.3 1225,392.1C1229,392.9 1233.1,393.6 1237.1,394.4C1241.1,395.1 1245.1,395.9 1249.2,396.6C1253.2,397.3 1257.2,398 1261.2,398.7C1265.3,399.4 1269.3,400.1 1273.3,400.7C1277.4,401.4 1281.4,402 1285.4,402.6C1289.4,403.3 1293.5,403.9 1297.5,404.5C1301.5,405.1 1305.5,405.7 1309.6,406.3C1313.6,406.9 1317.6,407.4 1321.6,408C1325.7,408.6 1329.7,409.1 1333.7,409.7C1337.7,410.2 1341.8,410.7 1345.8,411.3C1349.8,411.8 1353.8,412.3 1357.9,412.8C1361.9,413.3 1365.9,413.8 1369.9,414.3C1374,414.8 1378,415.3 1382,415.8C1386,416.2 1392.1,416.9 1394.1,417.2 M802.3,264.2C804.3,265.7 810.4,270.1 814.4,273C818.4,275.8 822.4,278.6 826.5,281.3C830.5,284 834.5,286.6 838.5,289.2C842.6,291.7 846.6,294.2 850.6,296.6C854.6,299 858.7,301.4 862.7,303.6C866.7,305.9 870.7,308.2 874.8,310.3C878.8,312.5 882.8,314.6 886.8,316.7C890.9,318.7 894.9,320.7 898.9,322.7C902.9,324.6 907,326.5 911,328.4C915,330.3 919,332.1 923.1,333.9C927.1,335.7 931.1,337.4 935.2,339.1C939.2,340.8 943.2,342.5 947.2,344.1C951.3,345.7 955.3,347.3 959.3,348.9C963.3,350.5 967.4,352 971.4,353.5C975.4,355 979.4,356.5 983.5,357.9C987.5,359.3 991.5,360.7 995.5,362.1C999.6,363.5 1003.6,364.8 1007.6,366.1C1011.6,367.5 1015.7,368.7 1019.7,370C1023.7,371.3 1027.7,372.5 1031.8,373.7C1035.8,374.9 1039.8,376 1043.9,377.2C1047.9,378.3 1051.9,379.5 1055.9,380.6C1060,381.7 1064,382.7 1068,383.8C1072,384.8 1076.1,385.8 1080.1,386.8C1084.1,387.8 1088.1,388.8 1092.2,389.8C1096.2,390.7 1100.2,391.7 1104.2,392.6C1108.3,393.5 1112.3,394.4 1116.3,395.3C1120.3,396.1 1124.4,397 1128.4,397.8C1132.4,398.7 1136.4,399.5 1140.5,400.3C1144.5,401.1 1148.5,401.9 1152.5,402.6C1156.6,403.4 1160.6,404.2 1164.6,404.9C1168.7,405.6 1172.7,406.3 1176.7,407.1C1180.7,407.8 1184.8,408.5 1188.8,409.1C1192.8,409.8 1196.8,410.5 1200.9,411.1C1204.9,411.8 1208.9,412.4 1212.9,413.1C1217,413.7 1221,414.3 1225,414.9C1229,415.6 1233.1,416.2 1237.1,416.8C1241.1,417.4 1245.1,417.9 1249.2,418.5C1253.2,419.1 1257.2,419.7 1261.2,420.2C1265.3,420.8 1269.3,421.4 1273.3,421.9C1277.4,422.5 1281.4,423 1285.4,423.6C1289.4,424.1 1293.5,424.7 1297.5,425.2C1301.5,425.7 1305.5,426.3 1309.6,426.8C1313.6,427.3 1317.6,427.9 1321.6,428.4C1325.7,428.9 1329.7,429.5 1333.7,430C1337.7,430.5 1341.8,431.1 1345.8,431.6C1349.8,432.1 1353.8,432.7 1357.9,433.2C1361.9,433.8 1365.9,434.3 1369.9,434.8C1374,435.4 1378,435.9 1382,436.5C1386,437 1392.1,437.9 1394.1,438.2 M802.3,338.9C804.3,339.2 810.4,340 814.4,340.7C818.4,341.3 822.4,342.1 826.5,342.9C830.5,343.7 834.5,344.5 838.5,345.4C842.6,346.3 846.6,347.3 850.6,348.3C854.6,349.3 858.7,350.4 862.7,351.5C866.7,352.5 870.7,353.7 874.8,354.8C878.8,356 882.8,357.2 886.8,358.4C890.9,359.6 894.9,360.8 898.9,362.1C902.9,363.3 907,364.6 911,365.9C915,367.1 919,368.4 923.1,369.7C927.1,371 931.1,372.2 935.2,373.5C939.2,374.8 943.2,376 947.2,377.3C951.3,378.5 955.3,379.7 959.3,381C963.3,382.2 967.4,383.4 971.4,384.5C975.4,385.7 979.4,386.9 983.5,388C987.5,389.1 991.5,390.2 995.5,391.3C999.6,392.4 1003.6,393.5 1007.6,394.6C1011.6,395.7 1015.7,396.7 1019.7,397.8C1023.7,398.8 1027.7,399.8 1031.8,400.8C1035.8,401.8 1039.8,402.8 1043.9,403.8C1047.9,404.7 1051.9,405.7 1055.9,406.6C1060,407.6 1064,408.5 1068,409.4C1072,410.3 1076.1,411.2 1080.1,412.1C1084.1,412.9 1088.1,413.8 1092.2,414.6C1096.2,415.5 1100.2,416.3 1104.2,417.1C1108.3,418 1112.3,418.8 1116.3,419.6C1120.3,420.3 1124.4,421.1 1128.4,421.9C1132.4,422.6 1136.4,423.4 1140.5,424.1C1144.5,424.9 1148.5,425.6 1152.5,426.3C1156.6,427 1160.6,427.7 1164.6,428.4C1168.7,429.1 1172.7,429.8 1176.7,430.4C1180.7,431.1 1184.8,431.7 1188.8,432.4C1192.8,433 1196.8,433.6 1200.9,434.3C1204.9,434.9 1208.9,435.5 1212.9,436.1C1217,436.7 1221,437.2 1225,437.8C1229,438.4 1233.1,439 1237.1,439.5C1241.1,440.1 1245.1,440.6 1249.2,441.1C1253.2,441.7 1257.2,442.2 1261.2,442.7C1265.3,443.2 1269.3,443.7 1273.3,444.2C1277.4,444.7 1281.4,445.2 1285.4,445.7C1289.4,446.1 1293.5,446.6 1297.5,447.1C1301.5,447.5 1305.5,448 1309.6,448.4C1313.6,448.8 1317.6,449.3 1321.6,449.7C1325.7,450.1 1329.7,450.5 1333.7,451C1337.7,451.4 1341.8,451.8 1345.8,452.2C1349.8,452.6 1353.8,453 1357.9,453.3C1361.9,453.7 1365.9,454.1 1369.9,454.5C1374,454.8 1378,455.2 1382,455.6C1386,455.9 1392.1,456.4 1394.1,456.6 M802.3,401.7C804.3,403.5 810.4,409.3 814.4,412.7C818.4,416.1 822.4,419.3 826.5,422.3C830.5,425.3 834.5,428.1 838.5,430.7C842.6,433.3 846.6,435.7 850.6,437.9C854.6,440.1 858.7,442.2 862.7,444.1C866.7,446 870.7,447.7 874.8,449.3C878.8,450.9 882.8,452.4 886.8,453.8C890.9,455.2 894.9,456.4 898.9,457.6C902.9,458.8 907,459.8 911,460.8C915,461.8 919,462.8 923.1,463.6C927.1,464.5 931.1,465.3 935.2,466.2C939.2,467 943.2,467.7 947.2,468.5C951.3,469.2 955.3,469.9 959.3,470.6C963.3,471.3 967.4,471.9 971.4,472.6C975.4,473.2 979.4,473.8 983.5,474.4C987.5,475 991.5,475.6 995.5,476.1C999.6,476.7 1003.6,477.2 1007.6,477.7C1011.6,478.2 1015.7,478.7 1019.7,479.1C1023.7,479.6 1027.7,480 1031.8,480.5C1035.8,480.9 1039.8,481.3 1043.9,481.7C1047.9,482.1 1051.9,482.4 1055.9,482.8C1060,483.1 1064,483.4 1068,483.7C1072,484.1 1076.1,484.4 1080.1,484.6C1084.1,484.9 1088.1,485.2 1092.2,485.4C1096.2,485.7 1100.2,485.9 1104.2,486.2C1108.3,486.4 1112.3,486.6 1116.3,486.8C1120.3,487 1124.4,487.2 1128.4,487.4C1132.4,487.5 1136.4,487.7 1140.5,487.8C1144.5,488 1148.5,488.1 1152.5,488.3C1156.6,488.4 1160.6,488.5 1164.6,488.7C1168.7,488.8 1172.7,488.9 1176.7,489C1180.7,489.1 1184.8,489.2 1188.8,489.3C1192.8,489.4 1196.8,489.5 1200.9,489.5C1204.9,489.6 1208.9,489.7 1212.9,489.8C1217,489.8 1221,489.9 1225,490C1229,490 1233.1,490.1 1237.1,490.1C1241.1,490.2 1245.1,490.3 1249.2,490.3C1253.2,490.4 1257.2,490.4 1261.2,490.5C1265.3,490.5 1269.3,490.6 1273.3,490.6C1277.4,490.7 1281.4,490.8 1285.4,490.8C1289.4,490.9 1293.5,490.9 1297.5,491C1301.5,491.1 1305.5,491.1 1309.6,491.2C1313.6,491.3 1317.6,491.4 1321.6,491.4C1325.7,491.5 1329.7,491.6 1333.7,491.7C1337.7,491.8 1341.8,491.9 1345.8,492C1349.8,492.1 1353.8,492.2 1357.9,492.4C1361.9,492.5 1365.9,492.6 1369.9,492.8C1374,492.9 1378,493 1382,493.2C1386,493.4 1392.1,493.6 1394.1,493.7 M802.3,447.2C804.3,448.1 810.4,450.6 814.4,452.2C818.4,453.8 822.4,455.3 826.5,456.8C830.5,458.2 834.5,459.6 838.5,460.9C842.6,462.3 846.6,463.5 850.6,464.7C854.6,466 858.7,467.1 862.7,468.2C866.7,469.3 870.7,470.4 874.8,471.4C878.8,472.4 882.8,473.3 886.8,474.2C890.9,475.2 894.9,476 898.9,476.9C902.9,477.7 907,478.5 911,479.2C915,480 919,480.7 923.1,481.4C927.1,482.1 931.1,482.8 935.2,483.4C939.2,484.1 943.2,484.7 947.2,485.3C951.3,485.8 955.3,486.4 959.3,487C963.3,487.5 967.4,488 971.4,488.6C975.4,489.1 979.4,489.6 983.5,490C987.5,490.5 991.5,491 995.5,491.4C999.6,491.8 1003.6,492.3 1007.6,492.7C1011.6,493.1 1015.7,493.5 1019.7,493.8C1023.7,494.2 1027.7,494.6 1031.8,494.9C1035.8,495.2 1039.8,495.6 1043.9,495.9C1047.9,496.2 1051.9,496.5 1055.9,496.8C1060,497.1 1064,497.3 1068,497.6C1072,497.8 1076.1,498.1 1080.1,498.3C1084.1,498.6 1088.1,498.8 1092.2,499C1096.2,499.2 1100.2,499.4 1104.2,499.6C1108.3,499.8 1112.3,500 1116.3,500.1C1120.3,500.3 1124.4,500.4 1128.4,500.6C1132.4,500.7 1136.4,500.9 1140.5,501C1144.5,501.1 1148.5,501.3 1152.5,501.4C1156.6,501.5 1160.6,501.6 1164.6,501.7C1168.7,501.8 1172.7,501.9 1176.7,502C1180.7,502.1 1184.8,502.2 1188.8,502.2C1192.8,502.3 1196.8,502.4 1200.9,502.5C1204.9,502.5 1208.9,502.6 1212.9,502.6C1217,502.7 1221,502.7 1225,502.8C1229,502.9 1233.1,502.9 1237.1,502.9C1241.1,503 1245.1,503 1249.2,503.1C1253.2,503.1 1257.2,503.2 1261.2,503.2C1265.3,503.2 1269.3,503.3 1273.3,503.3C1277.4,503.4 1281.4,503.4 1285.4,503.4C1289.4,503.5 1293.5,503.5 1297.5,503.6C1301.5,503.6 1305.5,503.6 1309.6,503.7C1313.6,503.7 1317.6,503.8 1321.6,503.8C1325.7,503.9 1329.7,503.9 1333.7,504C1337.7,504 1341.8,504.1 1345.8,504.2C1349.8,504.2 1353.8,504.3 1357.9,504.4C1361.9,504.4 1365.9,504.5 1369.9,504.6C1374,504.7 1378,504.8 1382,504.9C1386,505 1392.1,505.1 1394.1,505.2 M917.7,421.4C918.6,419.7 923.4,416.9 926.7,415.8C930.1,414.8 933.6,415 937.8,415.1C942,415.2 943.3,415 952,416.2C960.7,417.4 977.7,420.5 990,422.5C1002.3,424.5 1013.8,426.1 1026,428.3C1038.2,430.5 1050.7,433.1 1063,435.5C1075.3,437.9 1089.2,440.6 1100,442.9C1110.8,445.2 1118.5,447 1127.7,449.1C1137,451.2 1148.1,453.5 1155.5,455.3C1162.9,457.1 1168.2,458.6 1172,459.8C1175.8,461 1178.4,461.7 1178.4,462.5C1178.4,463.3 1174.2,464.2 1172,464.6C1169.8,465 1170.3,464.8 1165.2,465C1160.1,465.2 1152.5,465.7 1141.6,465.7C1130.7,465.7 1113.1,465.6 1100,465C1086.9,464.4 1075.3,463.1 1063,462C1050.7,460.9 1037.6,459.7 1026,458.1C1014.4,456.5 1002.9,454.5 993.6,452.6C984.3,450.7 976.9,448.2 970,446.5C963.1,444.8 958.5,444.6 952,442.4C945.5,440.2 935.9,435.8 930.8,433.1C925.6,430.4 923.3,428.1 921.1,426.2C918.9,424.2 916.8,423.1 917.7,421.4Z"/>
<path class="d db" d="M802.3,473.7C802.8,473.8 802.3,473.7 805.3,474.5C808.3,475.3 815.4,477.3 820.4,478.6C825.4,479.9 830.5,481.2 835.5,482.5C840.5,483.7 845.6,484.9 850.6,486C855.6,487.2 860.7,488.2 865.7,489.3C870.7,490.3 875.8,491.3 880.8,492.2C885.8,493.1 890.9,493.9 895.9,494.7C900.9,495.5 905.9,496.3 911,497C916,497.7 921,498.4 926.1,499.1C931.1,499.7 936.1,500.3 941.2,500.8C946.2,501.4 951.2,501.8 956.3,502.2C961.3,502.6 966.3,503 971.4,503.3C976.4,503.7 981.4,504 986.5,504.3C991.5,504.7 996.5,504.9 1001.6,505.2C1006.6,505.5 1011.6,505.8 1016.7,506C1021.7,506.2 1026.7,506.5 1031.8,506.7C1036.8,506.9 1041.8,507.1 1046.9,507.3C1051.9,507.5 1056.9,507.7 1062,507.9C1067,508.1 1072,508.3 1077.1,508.4C1082.1,508.6 1087.1,508.8 1092.2,508.9C1097.2,509.1 1102.2,509.3 1107.2,509.4C1112.3,509.6 1117.3,509.7 1122.3,509.9C1127.4,510 1132.4,510.2 1137.4,510.3C1142.5,510.5 1147.5,510.6 1152.5,510.7C1157.6,510.8 1162.6,511 1167.6,511.1C1172.7,511.2 1177.7,511.3 1182.7,511.4C1187.8,511.5 1192.8,511.6 1197.8,511.7C1202.9,511.7 1207.9,511.8 1212.9,511.9C1218,512 1223,512.1 1228,512.2C1233.1,512.2 1238.1,512.3 1243.1,512.4C1248.2,512.5 1253.2,512.6 1258.2,512.6C1263.3,512.7 1268.3,512.8 1273.3,512.8C1278.4,512.9 1283.4,513 1288.4,513.1C1293.5,513.1 1298.5,513.2 1303.5,513.2C1308.5,513.3 1313.6,513.4 1318.6,513.4C1323.6,513.5 1328.7,513.5 1333.7,513.6C1338.7,513.6 1343.8,513.7 1348.8,513.7C1353.8,513.7 1358.9,513.8 1363.9,513.8C1368.9,513.8 1374,513.9 1379,513.9C1384,513.9 1391.6,513.9 1394.1,513.9 M802.3,495.2C802.8,495.3 802.3,495.4 805.3,496C808.3,496.6 815.4,497.9 820.4,498.8C825.4,499.7 830.5,500.6 835.5,501.5C840.5,502.3 845.6,503.1 850.6,503.9C855.6,504.7 860.7,505.5 865.7,506.2C870.7,506.9 875.8,507.6 880.8,508.2C885.8,508.9 890.9,509.5 895.9,510C900.9,510.6 905.9,511.2 911,511.7C916,512.3 921,512.8 926.1,513.3C931.1,513.8 936.1,514.2 941.2,514.6C946.2,515 951.2,515.3 956.3,515.6C961.3,515.9 966.3,516.2 971.4,516.4C976.4,516.7 981.4,516.9 986.5,517.1C991.5,517.3 996.5,517.5 1001.6,517.7C1006.6,517.9 1011.6,518.1 1016.7,518.3C1021.7,518.4 1026.7,518.6 1031.8,518.7C1036.8,518.9 1041.8,519 1046.9,519.1C1051.9,519.3 1056.9,519.4 1062,519.5C1067,519.6 1072,519.7 1077.1,519.8C1082.1,519.9 1087.1,520 1092.2,520.1C1097.2,520.2 1102.2,520.3 1107.2,520.4C1112.3,520.5 1117.3,520.6 1122.3,520.7C1127.4,520.8 1132.4,520.9 1137.4,520.9C1142.5,521 1147.5,521.1 1152.5,521.2C1157.6,521.2 1162.6,521.3 1167.6,521.4C1172.7,521.4 1177.7,521.5 1182.7,521.5C1187.8,521.6 1192.8,521.6 1197.8,521.7C1202.9,521.7 1207.9,521.8 1212.9,521.8C1218,521.9 1223,521.9 1228,521.9C1233.1,522 1238.1,522 1243.1,522.1C1248.2,522.1 1253.2,522.2 1258.2,522.2C1263.3,522.2 1268.3,522.3 1273.3,522.3C1278.4,522.4 1283.4,522.4 1288.4,522.4C1293.5,522.5 1298.5,522.5 1303.5,522.5C1308.5,522.6 1313.6,522.6 1318.6,522.6C1323.6,522.7 1328.7,522.7 1333.7,522.7C1338.7,522.7 1343.8,522.8 1348.8,522.8C1353.8,522.8 1358.9,522.8 1363.9,522.8C1368.9,522.8 1374,522.8 1379,522.9C1384,522.9 1391.6,522.9 1394.1,522.9 M802.3,514C802.8,514.1 802.3,514.3 805.3,514.8C808.3,515.2 815.4,516 820.4,516.6C825.4,517.2 830.5,517.8 835.5,518.3C840.5,518.9 845.6,519.4 850.6,520C855.6,520.5 860.7,521 865.7,521.4C870.7,521.9 875.8,522.4 880.8,522.8C885.8,523.2 890.9,523.6 895.9,524C900.9,524.4 905.9,524.8 911,525.2C916,525.5 921,525.9 926.1,526.2C931.1,526.5 936.1,526.9 941.2,527.1C946.2,527.4 951.2,527.6 956.3,527.8C961.3,528 966.3,528.2 971.4,528.3C976.4,528.5 981.4,528.7 986.5,528.8C991.5,529 996.5,529.1 1001.6,529.3C1006.6,529.4 1011.6,529.5 1016.7,529.6C1021.7,529.7 1026.7,529.8 1031.8,529.9C1036.8,530 1041.8,530.1 1046.9,530.1C1051.9,530.2 1056.9,530.2 1062,530.3C1067,530.3 1072,530.4 1077.1,530.4C1082.1,530.4 1087.1,530.5 1092.2,530.5C1097.2,530.6 1102.2,530.6 1107.2,530.6C1112.3,530.7 1117.3,530.7 1122.3,530.7C1127.4,530.8 1132.4,530.8 1137.4,530.8C1142.5,530.8 1147.5,530.9 1152.5,530.9C1157.6,530.9 1162.6,530.9 1167.6,531C1172.7,531 1177.7,531 1182.7,531C1187.8,531 1192.8,531 1197.8,531.1C1202.9,531.1 1207.9,531.1 1212.9,531.1C1218,531.1 1223,531.1 1228,531.1C1233.1,531.2 1238.1,531.2 1243.1,531.2C1248.2,531.2 1253.2,531.2 1258.2,531.2C1263.3,531.2 1268.3,531.2 1273.3,531.3C1278.4,531.3 1283.4,531.3 1288.4,531.3C1293.5,531.3 1298.5,531.3 1303.5,531.3C1308.5,531.3 1313.6,531.3 1318.6,531.3C1323.6,531.4 1328.7,531.4 1333.7,531.4C1338.7,531.4 1343.8,531.4 1348.8,531.4C1353.8,531.4 1358.9,531.4 1363.9,531.4C1368.9,531.4 1374,531.4 1379,531.4C1384,531.4 1391.6,531.4 1394.1,531.4 M802.3,530.4C802.8,530.6 802.3,530.9 805.3,531.2C808.3,531.6 815.4,532 820.4,532.4C825.4,532.7 830.5,533.1 835.5,533.4C840.5,533.7 845.6,534.1 850.6,534.4C855.6,534.7 860.7,535 865.7,535.3C870.7,535.5 875.8,535.8 880.8,536.1C885.8,536.3 890.9,536.6 895.9,536.8C900.9,537 905.9,537.2 911,537.4C916,537.7 921,537.9 926.1,538C931.1,538.2 936.1,538.4 941.2,538.6C946.2,538.7 951.2,538.8 956.3,539C961.3,539.1 966.3,539.2 971.4,539.3C976.4,539.4 981.4,539.5 986.5,539.6C991.5,539.7 996.5,539.8 1001.6,539.9C1006.6,540 1011.6,540.1 1016.7,540.1C1021.7,540.2 1026.7,540.2 1031.8,540.3C1036.8,540.3 1041.8,540.3 1046.9,540.3C1051.9,540.3 1056.9,540.3 1062,540.3C1067,540.3 1072,540.3 1077.1,540.3C1082.1,540.3 1087.1,540.2 1092.2,540.2C1097.2,540.2 1102.2,540.2 1107.2,540.2C1112.3,540.2 1117.3,540.2 1122.3,540.1C1127.4,540.1 1132.4,540.1 1137.4,540.1C1142.5,540.1 1147.5,540.1 1152.5,540C1157.6,540 1162.6,540 1167.6,540C1172.7,540 1177.7,540 1182.7,539.9C1187.8,539.9 1192.8,539.9 1197.8,539.9C1202.9,539.9 1207.9,539.9 1212.9,539.9C1218,539.9 1223,539.9 1228,539.8C1233.1,539.8 1238.1,539.8 1243.1,539.8C1248.2,539.8 1253.2,539.8 1258.2,539.8C1263.3,539.8 1268.3,539.8 1273.3,539.8C1278.4,539.7 1283.4,539.7 1288.4,539.7C1293.5,539.7 1298.5,539.7 1303.5,539.7C1308.5,539.7 1313.6,539.7 1318.6,539.7C1323.6,539.7 1328.7,539.7 1333.7,539.7C1338.7,539.7 1343.8,539.6 1348.8,539.6C1353.8,539.6 1358.9,539.6 1363.9,539.6C1368.9,539.6 1374,539.6 1379,539.6C1384,539.6 1391.6,539.6 1394.1,539.6 M802.3,545.1C802.8,545.3 802.3,545.7 805.3,545.9C808.3,546.2 815.4,546.3 820.4,546.5C825.4,546.7 830.5,546.8 835.5,547C840.5,547.2 845.6,547.3 850.6,547.5C855.6,547.6 860.7,547.7 865.7,547.9C870.7,548 875.8,548.1 880.8,548.2C885.8,548.3 890.9,548.4 895.9,548.5C900.9,548.6 905.9,548.7 911,548.7C916,548.8 921,548.9 926.1,548.9C931.1,549 936.1,549 941.2,549.1C946.2,549.1 951.2,549.2 956.3,549.2C961.3,549.3 966.3,549.3 971.4,549.4C976.4,549.4 981.4,549.5 986.5,549.5C991.5,549.6 996.5,549.6 1001.6,549.6C1006.6,549.7 1011.6,549.7 1016.7,549.7C1021.7,549.8 1026.7,549.8 1031.8,549.8C1036.8,549.8 1041.8,549.8 1046.9,549.8C1051.9,549.8 1056.9,549.8 1062,549.8C1067,549.8 1072,549.7 1077.1,549.7C1082.1,549.6 1087.1,549.6 1092.2,549.5C1097.2,549.5 1102.2,549.4 1107.2,549.4C1112.3,549.3 1117.3,549.2 1122.3,549.2C1127.4,549.1 1132.4,549 1137.4,549C1142.5,548.9 1147.5,548.8 1152.5,548.8C1157.6,548.7 1162.6,548.6 1167.6,548.6C1172.7,548.5 1177.7,548.5 1182.7,548.4C1187.8,548.4 1192.8,548.3 1197.8,548.3C1202.9,548.2 1207.9,548.2 1212.9,548.2C1218,548.2 1223,548.1 1228,548.1C1233.1,548.1 1238.1,548 1243.1,548C1248.2,548 1253.2,547.9 1258.2,547.9C1263.3,547.9 1268.3,547.9 1273.3,547.8C1278.4,547.8 1283.4,547.8 1288.4,547.8C1293.5,547.7 1298.5,547.7 1303.5,547.7C1308.5,547.7 1313.6,547.6 1318.6,547.6C1323.6,547.6 1328.7,547.6 1333.7,547.6C1338.7,547.5 1343.8,547.5 1348.8,547.5C1353.8,547.5 1358.9,547.5 1363.9,547.5C1368.9,547.5 1374,547.4 1379,547.4C1384,547.4 1391.6,547.4 1394.1,547.4 M802.3,558.4C802.8,558.5 802.3,559 805.3,559.2C808.3,559.3 815.4,559.2 820.4,559.2C825.4,559.3 830.5,559.3 835.5,559.3C840.5,559.3 845.6,559.3 850.6,559.3C855.6,559.3 860.7,559.3 865.7,559.3C870.7,559.3 875.8,559.3 880.8,559.3C885.8,559.3 890.9,559.3 895.9,559.3C900.9,559.3 905.9,559.3 911,559.2C916,559.2 921,559.1 926.1,559C931.1,559 936.1,558.9 941.2,558.8C946.2,558.8 951.2,558.8 956.3,558.8C961.3,558.7 966.3,558.8 971.4,558.7C976.4,558.7 981.4,558.7 986.5,558.7C991.5,558.7 996.5,558.7 1001.6,558.7C1006.6,558.7 1011.6,558.7 1016.7,558.7C1021.7,558.7 1026.7,558.7 1031.8,558.7C1036.8,558.7 1041.8,558.7 1046.9,558.7C1051.9,558.7 1056.9,558.7 1062,558.6C1067,558.6 1072,558.5 1077.1,558.5C1082.1,558.4 1087.1,558.3 1092.2,558.3C1097.2,558.2 1102.2,558.1 1107.2,558C1112.3,557.9 1117.3,557.8 1122.3,557.7C1127.4,557.6 1132.4,557.4 1137.4,557.3C1142.5,557.2 1147.5,557.1 1152.5,557C1157.6,556.9 1162.6,556.8 1167.6,556.7C1172.7,556.6 1177.7,556.5 1182.7,556.5C1187.8,556.4 1192.8,556.3 1197.8,556.3C1202.9,556.2 1207.9,556.2 1212.9,556.1C1218,556.1 1223,556 1228,556C1233.1,555.9 1238.1,555.9 1243.1,555.8C1248.2,555.8 1253.2,555.8 1258.2,555.7C1263.3,555.7 1268.3,555.6 1273.3,555.6C1278.4,555.5 1283.4,555.5 1288.4,555.5C1293.5,555.4 1298.5,555.4 1303.5,555.3C1308.5,555.3 1313.6,555.3 1318.6,555.2C1323.6,555.2 1328.7,555.2 1333.7,555.1C1338.7,555.1 1343.8,555.1 1348.8,555.1C1353.8,555 1358.9,555 1363.9,555C1368.9,555 1374,555 1379,555C1384,554.9 1391.6,554.9 1394.1,554.9 M802.3,570.5C802.8,570.6 802.3,571.2 805.3,571.3C808.3,571.4 815.4,571.1 820.4,571C825.4,570.9 830.5,570.8 835.5,570.7C840.5,570.6 845.6,570.5 850.6,570.4C855.6,570.3 860.7,570.2 865.7,570C870.7,569.9 875.8,569.8 880.8,569.7C885.8,569.6 890.9,569.5 895.9,569.3C900.9,569.2 905.9,569 911,568.9C916,568.7 921,568.5 926.1,568.4C931.1,568.2 936.1,568 941.2,567.9C946.2,567.8 951.2,567.7 956.3,567.6C961.3,567.6 966.3,567.6 971.4,567.5C976.4,567.5 981.4,567.4 986.5,567.4C991.5,567.4 996.5,567.4 1001.6,567.3C1006.6,567.3 1011.6,567.3 1016.7,567.3C1021.7,567.2 1026.7,567.2 1031.8,567.2C1036.8,567.1 1041.8,567.1 1046.9,567.1C1051.9,567 1056.9,566.9 1062,566.9C1067,566.8 1072,566.7 1077.1,566.6C1082.1,566.5 1087.1,566.4 1092.2,566.3C1097.2,566.2 1102.2,566.1 1107.2,565.9C1112.3,565.8 1117.3,565.7 1122.3,565.6C1127.4,565.4 1132.4,565.3 1137.4,565.2C1142.5,565.1 1147.5,565 1152.5,564.8C1157.6,564.7 1162.6,564.6 1167.6,564.5C1172.7,564.4 1177.7,564.3 1182.7,564.2C1187.8,564.1 1192.8,564 1197.8,564C1202.9,563.9 1207.9,563.8 1212.9,563.8C1218,563.7 1223,563.6 1228,563.6C1233.1,563.5 1238.1,563.5 1243.1,563.4C1248.2,563.3 1253.2,563.3 1258.2,563.2C1263.3,563.2 1268.3,563.1 1273.3,563C1278.4,563 1283.4,562.9 1288.4,562.9C1293.5,562.8 1298.5,562.8 1303.5,562.7C1308.5,562.7 1313.6,562.6 1318.6,562.6C1323.6,562.6 1328.7,562.5 1333.7,562.5C1338.7,562.4 1343.8,562.4 1348.8,562.4C1353.8,562.3 1358.9,562.3 1363.9,562.3C1368.9,562.2 1374,562.2 1379,562.2C1384,562.2 1391.6,562.2 1394.1,562.1 M802.3,581.6C802.8,581.7 802.3,582.4 805.3,582.4C808.3,582.4 815.4,582 820.4,581.8C825.4,581.6 830.5,581.4 835.5,581.2C840.5,581 845.6,580.8 850.6,580.6C855.6,580.4 860.7,580.1 865.7,579.9C870.7,579.7 875.8,579.5 880.8,579.3C885.8,579.1 890.9,578.9 895.9,578.6C900.9,578.4 905.9,578.2 911,577.9C916,577.6 921,577.4 926.1,577.1C931.1,576.9 936.1,576.6 941.2,576.4C946.2,576.3 951.2,576.1 956.3,576C961.3,575.9 966.3,575.8 971.4,575.8C976.4,575.7 981.4,575.6 986.5,575.6C991.5,575.5 996.5,575.5 1001.6,575.4C1006.6,575.4 1011.6,575.3 1016.7,575.3C1021.7,575.2 1026.7,575.2 1031.8,575.1C1036.8,575.1 1041.8,575 1046.9,574.9C1051.9,574.8 1056.9,574.8 1062,574.7C1067,574.6 1072,574.4 1077.1,574.3C1082.1,574.2 1087.1,574.1 1092.2,574C1097.2,573.8 1102.2,573.7 1107.2,573.6C1112.3,573.4 1117.3,573.3 1122.3,573.2C1127.4,573 1132.4,572.9 1137.4,572.8C1142.5,572.6 1147.5,572.5 1152.5,572.4C1157.6,572.2 1162.6,572.1 1167.6,572C1172.7,571.9 1177.7,571.8 1182.7,571.7C1187.8,571.6 1192.8,571.5 1197.8,571.4C1202.9,571.3 1207.9,571.2 1212.9,571.2C1218,571.1 1223,571 1228,570.9C1233.1,570.9 1238.1,570.8 1243.1,570.7C1248.2,570.6 1253.2,570.6 1258.2,570.5C1263.3,570.4 1268.3,570.4 1273.3,570.3C1278.4,570.2 1283.4,570.2 1288.4,570.1C1293.5,570 1298.5,570 1303.5,569.9C1308.5,569.8 1313.6,569.8 1318.6,569.7C1323.6,569.7 1328.7,569.6 1333.7,569.6C1338.7,569.5 1343.8,569.5 1348.8,569.4C1353.8,569.4 1358.9,569.4 1363.9,569.3C1368.9,569.3 1374,569.2 1379,569.2C1384,569.2 1391.6,569.1 1394.1,569.1 M802.3,592C802.8,592.1 802.3,592.8 805.3,592.8C808.3,592.7 815.4,592.2 820.4,591.9C825.4,591.6 830.5,591.3 835.5,591C840.5,590.7 845.6,590.4 850.6,590.1C855.6,589.8 860.7,589.5 865.7,589.2C870.7,588.9 875.8,588.6 880.8,588.3C885.8,588 890.9,587.7 895.9,587.4C900.9,587.1 905.9,586.7 911,586.4C916,586.1 921,585.7 926.1,585.4C931.1,585.1 936.1,584.7 941.2,584.5C946.2,584.2 951.2,584.1 956.3,583.9C961.3,583.8 966.3,583.7 971.4,583.6C976.4,583.5 981.4,583.4 986.5,583.3C991.5,583.2 996.5,583.2 1001.6,583.1C1006.6,583 1011.6,583 1016.7,582.9C1021.7,582.8 1026.7,582.7 1031.8,582.7C1036.8,582.6 1041.8,582.5 1046.9,582.4C1051.9,582.3 1056.9,582.2 1062,582.1C1067,582 1072,581.8 1077.1,581.7C1082.1,581.6 1087.1,581.4 1092.2,581.3C1097.2,581.2 1102.2,581 1107.2,580.9C1112.3,580.8 1117.3,580.6 1122.3,580.5C1127.4,580.3 1132.4,580.2 1137.4,580.1C1142.5,579.9 1147.5,579.8 1152.5,579.6C1157.6,579.5 1162.6,579.4 1167.6,579.3C1172.7,579.1 1177.7,579 1182.7,578.9C1187.8,578.8 1192.8,578.7 1197.8,578.6C1202.9,578.5 1207.9,578.4 1212.9,578.3C1218,578.3 1223,578.2 1228,578.1C1233.1,578 1238.1,577.9 1243.1,577.8C1248.2,577.7 1253.2,577.7 1258.2,577.6C1263.3,577.5 1268.3,577.4 1273.3,577.3C1278.4,577.3 1283.4,577.2 1288.4,577.1C1293.5,577 1298.5,577 1303.5,576.9C1308.5,576.8 1313.6,576.8 1318.6,576.7C1323.6,576.6 1328.7,576.6 1333.7,576.5C1338.7,576.4 1343.8,576.4 1348.8,576.3C1353.8,576.3 1358.9,576.2 1363.9,576.2C1368.9,576.1 1374,576.1 1379,576C1384,576 1391.6,575.9 1394.1,575.9 M802.3,601.6C802.8,601.8 802.3,602.5 805.3,602.4C808.3,602.4 815.4,601.6 820.4,601.3C825.4,600.9 830.5,600.5 835.5,600.1C840.5,599.7 845.6,599.3 850.6,599C855.6,598.6 860.7,598.2 865.7,597.8C870.7,597.5 875.8,597.1 880.8,596.7C885.8,596.3 890.9,596 895.9,595.6C900.9,595.2 905.9,594.8 911,594.4C916,594 921,593.6 926.1,593.2C931.1,592.8 936.1,592.4 941.2,592.1C946.2,591.9 951.2,591.6 956.3,591.4C961.3,591.3 966.3,591.1 971.4,591C976.4,590.9 981.4,590.8 986.5,590.7C991.5,590.6 996.5,590.5 1001.6,590.4C1006.6,590.3 1011.6,590.2 1016.7,590.1C1021.7,590 1026.7,589.9 1031.8,589.8C1036.8,589.7 1041.8,589.6 1046.9,589.5C1051.9,589.4 1056.9,589.3 1062,589.2C1067,589 1072,588.9 1077.1,588.8C1082.1,588.6 1087.1,588.5 1092.2,588.4C1097.2,588.2 1102.2,588.1 1107.2,588C1112.3,587.8 1117.3,587.7 1122.3,587.5C1127.4,587.4 1132.4,587.3 1137.4,587.1C1142.5,587 1147.5,586.9 1152.5,586.7C1157.6,586.6 1162.6,586.5 1167.6,586.3C1172.7,586.2 1177.7,586.1 1182.7,586C1187.8,585.9 1192.8,585.8 1197.8,585.7C1202.9,585.6 1207.9,585.5 1212.9,585.4C1218,585.3 1223,585.2 1228,585.1C1233.1,585 1238.1,584.9 1243.1,584.8C1248.2,584.7 1253.2,584.6 1258.2,584.5C1263.3,584.4 1268.3,584.3 1273.3,584.2C1278.4,584.2 1283.4,584.1 1288.4,584C1293.5,583.9 1298.5,583.8 1303.5,583.7C1308.5,583.7 1313.6,583.6 1318.6,583.5C1323.6,583.4 1328.7,583.3 1333.7,583.3C1338.7,583.2 1343.8,583.1 1348.8,583.1C1353.8,583 1358.9,582.9 1363.9,582.9C1368.9,582.8 1374,582.7 1379,582.7C1384,582.6 1391.6,582.5 1394.1,582.5 M802.3,610.7C802.8,610.8 802.3,611.6 805.3,611.5C808.3,611.4 815.4,610.6 820.4,610.1C825.4,609.6 830.5,609.1 835.5,608.7C840.5,608.2 845.6,607.8 850.6,607.3C855.6,606.9 860.7,606.4 865.7,606C870.7,605.5 875.8,605.1 880.8,604.7C885.8,604.2 890.9,603.8 895.9,603.4C900.9,602.9 905.9,602.5 911,602C916,601.6 921,601.1 926.1,600.6C931.1,600.2 936.1,599.8 941.2,599.5C946.2,599.1 951.2,598.9 956.3,598.7C961.3,598.4 966.3,598.3 971.4,598.1C976.4,598 981.4,597.8 986.5,597.7C991.5,597.6 996.5,597.5 1001.6,597.4C1006.6,597.3 1011.6,597.2 1016.7,597.1C1021.7,596.9 1026.7,596.8 1031.8,596.7C1036.8,596.6 1041.8,596.5 1046.9,596.4C1051.9,596.3 1056.9,596.1 1062,596C1067,595.9 1072,595.7 1077.1,595.6C1082.1,595.5 1087.1,595.3 1092.2,595.2C1097.2,595.1 1102.2,594.9 1107.2,594.8C1112.3,594.7 1117.3,594.5 1122.3,594.4C1127.4,594.3 1132.4,594.1 1137.4,594C1142.5,593.9 1147.5,593.8 1152.5,593.6C1157.6,593.5 1162.6,593.4 1167.6,593.3C1172.7,593.2 1177.7,593 1182.7,592.9C1187.8,592.8 1192.8,592.7 1197.8,592.6C1202.9,592.5 1207.9,592.4 1212.9,592.3C1218,592.2 1223,592.1 1228,591.9C1233.1,591.8 1238.1,591.7 1243.1,591.6C1248.2,591.5 1253.2,591.4 1258.2,591.3C1263.3,591.2 1268.3,591.1 1273.3,591C1278.4,590.9 1283.4,590.8 1288.4,590.7C1293.5,590.7 1298.5,590.6 1303.5,590.5C1308.5,590.4 1313.6,590.3 1318.6,590.2C1323.6,590.1 1328.7,590 1333.7,589.9C1338.7,589.8 1343.8,589.8 1348.8,589.7C1353.8,589.6 1358.9,589.5 1363.9,589.4C1368.9,589.3 1374,589.3 1379,589.2C1384,589.1 1391.6,589 1394.1,589 M802.3,619.2C802.8,619.4 802.3,620.2 805.3,620C808.3,619.9 815.4,618.9 820.4,618.4C825.4,617.8 830.5,617.3 835.5,616.8C840.5,616.2 845.6,615.7 850.6,615.2C855.6,614.7 860.7,614.2 865.7,613.7C870.7,613.2 875.8,612.7 880.8,612.2C885.8,611.7 890.9,611.3 895.9,610.8C900.9,610.3 905.9,609.8 911,609.3C916,608.8 921,608.2 926.1,607.8C931.1,607.3 936.1,606.9 941.2,606.5C946.2,606.1 951.2,605.9 956.3,605.6C961.3,605.4 966.3,605.2 971.4,605C976.4,604.8 981.4,604.7 986.5,604.5C991.5,604.4 996.5,604.2 1001.6,604.1C1006.6,604 1011.6,603.8 1016.7,603.7C1021.7,603.6 1026.7,603.5 1031.8,603.4C1036.8,603.2 1041.8,603.1 1046.9,603C1051.9,602.9 1056.9,602.7 1062,602.6C1067,602.5 1072,602.3 1077.1,602.2C1082.1,602.1 1087.1,602 1092.2,601.8C1097.2,601.7 1102.2,601.6 1107.2,601.5C1112.3,601.3 1117.3,601.2 1122.3,601.1C1127.4,601 1132.4,600.9 1137.4,600.7C1142.5,600.6 1147.5,600.5 1152.5,600.4C1157.6,600.3 1162.6,600.2 1167.6,600C1172.7,599.9 1177.7,599.8 1182.7,599.7C1187.8,599.6 1192.8,599.5 1197.8,599.4C1202.9,599.3 1207.9,599.1 1212.9,599C1218,598.9 1223,598.8 1228,598.7C1233.1,598.6 1238.1,598.5 1243.1,598.4C1248.2,598.3 1253.2,598.2 1258.2,598C1263.3,597.9 1268.3,597.8 1273.3,597.7C1278.4,597.6 1283.4,597.5 1288.4,597.4C1293.5,597.3 1298.5,597.2 1303.5,597.1C1308.5,597 1313.6,596.9 1318.6,596.8C1323.6,596.7 1328.7,596.6 1333.7,596.5C1338.7,596.4 1343.8,596.3 1348.8,596.2C1353.8,596.1 1358.9,596 1363.9,595.9C1368.9,595.8 1374,595.7 1379,595.6C1384,595.5 1391.6,595.4 1394.1,595.3 M802.3,627.2C802.8,627.3 802.3,628.2 805.3,628C808.3,627.8 815.4,626.8 820.4,626.1C825.4,625.5 830.5,624.9 835.5,624.3C840.5,623.8 845.6,623.2 850.6,622.6C855.6,622 860.7,621.5 865.7,620.9C870.7,620.4 875.8,619.9 880.8,619.3C885.8,618.8 890.9,618.3 895.9,617.8C900.9,617.3 905.9,616.7 911,616.2C916,615.7 921,615.1 926.1,614.6C931.1,614.1 936.1,613.6 941.2,613.3C946.2,612.9 951.2,612.6 956.3,612.3C961.3,612 966.3,611.8 971.4,611.6C976.4,611.4 981.4,611.3 986.5,611.1C991.5,610.9 996.5,610.8 1001.6,610.6C1006.6,610.5 1011.6,610.3 1016.7,610.2C1021.7,610.1 1026.7,609.9 1031.8,609.8C1036.8,609.7 1041.8,609.5 1046.9,609.4C1051.9,609.3 1056.9,609.1 1062,609C1067,608.9 1072,608.8 1077.1,608.6C1082.1,608.5 1087.1,608.4 1092.2,608.3C1097.2,608.2 1102.2,608.1 1107.2,608C1112.3,607.8 1117.3,607.7 1122.3,607.6C1127.4,607.5 1132.4,607.4 1137.4,607.3C1142.5,607.2 1147.5,607.1 1152.5,607C1157.6,606.9 1162.6,606.8 1167.6,606.7C1172.7,606.6 1177.7,606.5 1182.7,606.4C1187.8,606.3 1192.8,606.1 1197.8,606C1202.9,605.9 1207.9,605.8 1212.9,605.7C1218,605.6 1223,605.5 1228,605.3C1233.1,605.2 1238.1,605.1 1243.1,605C1248.2,604.9 1253.2,604.8 1258.2,604.7C1263.3,604.5 1268.3,604.4 1273.3,604.3C1278.4,604.2 1283.4,604.1 1288.4,604C1293.5,603.9 1298.5,603.7 1303.5,603.6C1308.5,603.5 1313.6,603.4 1318.6,603.3C1323.6,603.2 1328.7,603.1 1333.7,602.9C1338.7,602.8 1343.8,602.7 1348.8,602.6C1353.8,602.5 1358.9,602.4 1363.9,602.3C1368.9,602.1 1374,602 1379,601.9C1384,601.8 1391.6,601.6 1394.1,601.6 M802.3,634.7C802.8,634.8 802.3,635.7 805.3,635.5C808.3,635.2 815.4,634.1 820.4,633.4C825.4,632.8 830.5,632.1 835.5,631.5C840.5,630.8 845.6,630.2 850.6,629.6C855.6,629 860.7,628.4 865.7,627.8C870.7,627.2 875.8,626.7 880.8,626.1C885.8,625.5 890.9,625 895.9,624.5C900.9,623.9 905.9,623.3 911,622.8C916,622.3 921,621.7 926.1,621.2C931.1,620.7 936.1,620.2 941.2,619.8C946.2,619.4 951.2,619.1 956.3,618.8C961.3,618.5 966.3,618.3 971.4,618.1C976.4,617.8 981.4,617.6 986.5,617.4C991.5,617.3 996.5,617.1 1001.6,616.9C1006.6,616.8 1011.6,616.6 1016.7,616.5C1021.7,616.3 1026.7,616.2 1031.8,616C1036.8,615.9 1041.8,615.8 1046.9,615.6C1051.9,615.5 1056.9,615.4 1062,615.3C1067,615.1 1072,615 1077.1,614.9C1082.1,614.8 1087.1,614.7 1092.2,614.6C1097.2,614.5 1102.2,614.4 1107.2,614.3C1112.3,614.2 1117.3,614.1 1122.3,614C1127.4,613.9 1132.4,613.8 1137.4,613.7C1142.5,613.6 1147.5,613.6 1152.5,613.5C1157.6,613.4 1162.6,613.3 1167.6,613.2C1172.7,613.1 1177.7,613 1182.7,612.9C1187.8,612.8 1192.8,612.7 1197.8,612.6C1202.9,612.4 1207.9,612.3 1212.9,612.2C1218,612.1 1223,612 1228,611.9C1233.1,611.8 1238.1,611.6 1243.1,611.5C1248.2,611.4 1253.2,611.3 1258.2,611.2C1263.3,611 1268.3,610.9 1273.3,610.8C1278.4,610.7 1283.4,610.6 1288.4,610.4C1293.5,610.3 1298.5,610.2 1303.5,610.1C1308.5,609.9 1313.6,609.8 1318.6,609.7C1323.6,609.6 1328.7,609.4 1333.7,609.3C1338.7,609.2 1343.8,609.1 1348.8,608.9C1353.8,608.8 1358.9,608.7 1363.9,608.5C1368.9,608.4 1374,608.3 1379,608.1C1384,608 1391.6,607.8 1394.1,607.7 M802.3,641.6C802.8,641.7 802.3,642.6 805.3,642.4C808.3,642.1 815.4,640.9 820.4,640.2C825.4,639.5 830.5,638.8 835.5,638.1C840.5,637.5 845.6,636.8 850.6,636.2C855.6,635.5 860.7,634.9 865.7,634.3C870.7,633.7 875.8,633.1 880.8,632.5C885.8,631.9 890.9,631.4 895.9,630.8C900.9,630.3 905.9,629.7 911,629.1C916,628.6 921,628 926.1,627.5C931.1,627 936.1,626.5 941.2,626.1C946.2,625.7 951.2,625.4 956.3,625.1C961.3,624.8 966.3,624.5 971.4,624.3C976.4,624.1 981.4,623.8 986.5,623.6C991.5,623.4 996.5,623.2 1001.6,623.1C1006.6,622.9 1011.6,622.7 1016.7,622.6C1021.7,622.4 1026.7,622.3 1031.8,622.1C1036.8,622 1041.8,621.8 1046.9,621.7C1051.9,621.6 1056.9,621.5 1062,621.4C1067,621.2 1072,621.1 1077.1,621C1082.1,620.9 1087.1,620.8 1092.2,620.8C1097.2,620.7 1102.2,620.6 1107.2,620.5C1112.3,620.4 1117.3,620.3 1122.3,620.2C1127.4,620.2 1132.4,620.1 1137.4,620C1142.5,619.9 1147.5,619.8 1152.5,619.8C1157.6,619.7 1162.6,619.6 1167.6,619.5C1172.7,619.4 1177.7,619.3 1182.7,619.2C1187.8,619.1 1192.8,619 1197.8,618.9C1202.9,618.8 1207.9,618.7 1212.9,618.6C1218,618.5 1223,618.4 1228,618.2C1233.1,618.1 1238.1,618 1243.1,617.9C1248.2,617.8 1253.2,617.7 1258.2,617.5C1263.3,617.4 1268.3,617.3 1273.3,617.2C1278.4,617 1283.4,616.9 1288.4,616.8C1293.5,616.6 1298.5,616.5 1303.5,616.4C1308.5,616.2 1313.6,616.1 1318.6,616C1323.6,615.8 1328.7,615.7 1333.7,615.6C1338.7,615.4 1343.8,615.3 1348.8,615.1C1353.8,615 1358.9,614.9 1363.9,614.7C1368.9,614.6 1374,614.4 1379,614.3C1384,614.1 1391.6,613.9 1394.1,613.8 M802.3,648C802.8,648.1 802.3,649 805.3,648.8C808.3,648.5 815.4,647.2 820.4,646.5C825.4,645.8 830.5,645.1 835.5,644.4C840.5,643.7 845.6,643 850.6,642.4C855.6,641.7 860.7,641.1 865.7,640.4C870.7,639.8 875.8,639.2 880.8,638.6C885.8,638 890.9,637.5 895.9,636.9C900.9,636.3 905.9,635.8 911,635.2C916,634.6 921,634.1 926.1,633.6C931.1,633.1 936.1,632.6 941.2,632.2C946.2,631.8 951.2,631.4 956.3,631.1C961.3,630.8 966.3,630.6 971.4,630.3C976.4,630.1 981.4,629.8 986.5,629.6C991.5,629.4 996.5,629.2 1001.6,629C1006.6,628.8 1011.6,628.7 1016.7,628.5C1021.7,628.3 1026.7,628.2 1031.8,628C1036.8,627.9 1041.8,627.8 1046.9,627.6C1051.9,627.5 1056.9,627.4 1062,627.3C1067,627.2 1072,627.1 1077.1,627C1082.1,626.9 1087.1,626.8 1092.2,626.7C1097.2,626.7 1102.2,626.6 1107.2,626.5C1112.3,626.4 1117.3,626.4 1122.3,626.3C1127.4,626.2 1132.4,626.1 1137.4,626.1C1142.5,626 1147.5,625.9 1152.5,625.9C1157.6,625.8 1162.6,625.7 1167.6,625.6C1172.7,625.5 1177.7,625.5 1182.7,625.4C1187.8,625.3 1192.8,625.2 1197.8,625.1C1202.9,625 1207.9,624.9 1212.9,624.8C1218,624.6 1223,624.5 1228,624.4C1233.1,624.3 1238.1,624.2 1243.1,624.1C1248.2,624 1253.2,623.8 1258.2,623.7C1263.3,623.6 1268.3,623.5 1273.3,623.3C1278.4,623.2 1283.4,623.1 1288.4,622.9C1293.5,622.8 1298.5,622.7 1303.5,622.5C1308.5,622.4 1313.6,622.3 1318.6,622.1C1323.6,622 1328.7,621.8 1333.7,621.7C1338.7,621.5 1343.8,621.4 1348.8,621.2C1353.8,621.1 1358.9,620.9 1363.9,620.8C1368.9,620.6 1374,620.5 1379,620.3C1384,620.2 1391.6,619.9 1394.1,619.8 M802.3,653.8C802.8,654 802.3,654.9 805.3,654.6C808.3,654.4 815.4,653.1 820.4,652.4C825.4,651.6 830.5,650.9 835.5,650.2C840.5,649.5 845.6,648.8 850.6,648.1C855.6,647.5 860.7,646.8 865.7,646.2C870.7,645.6 875.8,645 880.8,644.4C885.8,643.8 890.9,643.2 895.9,642.7C900.9,642.1 905.9,641.5 911,641C916,640.4 921,639.9 926.1,639.4C931.1,638.9 936.1,638.4 941.2,638C946.2,637.6 951.2,637.2 956.3,636.9C961.3,636.6 966.3,636.4 971.4,636.1C976.4,635.9 981.4,635.6 986.5,635.4C991.5,635.2 996.5,635 1001.6,634.8C1006.6,634.6 1011.6,634.4 1016.7,634.3C1021.7,634.1 1026.7,633.9 1031.8,633.8C1036.8,633.7 1041.8,633.5 1046.9,633.4C1051.9,633.3 1056.9,633.2 1062,633.1C1067,633 1072,632.9 1077.1,632.8C1082.1,632.7 1087.1,632.6 1092.2,632.6C1097.2,632.5 1102.2,632.4 1107.2,632.3C1112.3,632.3 1117.3,632.2 1122.3,632.1C1127.4,632.1 1132.4,632 1137.4,631.9C1142.5,631.9 1147.5,631.8 1152.5,631.7C1157.6,631.6 1162.6,631.6 1167.6,631.5C1172.7,631.4 1177.7,631.3 1182.7,631.3C1187.8,631.2 1192.8,631.1 1197.8,631C1202.9,630.9 1207.9,630.8 1212.9,630.7C1218,630.6 1223,630.5 1228,630.3C1233.1,630.2 1238.1,630.1 1243.1,630C1248.2,629.9 1253.2,629.8 1258.2,629.6C1263.3,629.5 1268.3,629.4 1273.3,629.3C1278.4,629.1 1283.4,629 1288.4,628.9C1293.5,628.7 1298.5,628.6 1303.5,628.5C1308.5,628.3 1313.6,628.2 1318.6,628C1323.6,627.9 1328.7,627.8 1333.7,627.6C1338.7,627.5 1343.8,627.3 1348.8,627.2C1353.8,627 1358.9,626.9 1363.9,626.7C1368.9,626.5 1374,626.4 1379,626.2C1384,626.1 1391.6,625.8 1394.1,625.7 M802.3,659.2C802.8,659.4 802.3,660.3 805.3,660C808.3,659.8 815.4,658.5 820.4,657.8C825.4,657 830.5,656.3 835.5,655.6C840.5,654.9 845.6,654.2 850.6,653.5C855.6,652.9 860.7,652.2 865.7,651.6C870.7,651 875.8,650.4 880.8,649.8C885.8,649.2 890.9,648.6 895.9,648.1C900.9,647.5 905.9,647 911,646.4C916,645.9 921,645.4 926.1,644.9C931.1,644.4 936.1,643.9 941.2,643.5C946.2,643.1 951.2,642.8 956.3,642.5C961.3,642.2 966.3,641.9 971.4,641.7C976.4,641.4 981.4,641.2 986.5,641C991.5,640.8 996.5,640.6 1001.6,640.4C1006.6,640.2 1011.6,640 1016.7,639.8C1021.7,639.7 1026.7,639.5 1031.8,639.4C1036.8,639.2 1041.8,639.1 1046.9,639C1051.9,638.9 1056.9,638.8 1062,638.7C1067,638.6 1072,638.5 1077.1,638.4C1082.1,638.3 1087.1,638.2 1092.2,638.1C1097.2,638.1 1102.2,638 1107.2,637.9C1112.3,637.8 1117.3,637.8 1122.3,637.7C1127.4,637.6 1132.4,637.6 1137.4,637.5C1142.5,637.4 1147.5,637.4 1152.5,637.3C1157.6,637.2 1162.6,637.2 1167.6,637.1C1172.7,637 1177.7,636.9 1182.7,636.8C1187.8,636.7 1192.8,636.7 1197.8,636.6C1202.9,636.5 1207.9,636.4 1212.9,636.3C1218,636.2 1223,636 1228,635.9C1233.1,635.8 1238.1,635.7 1243.1,635.6C1248.2,635.5 1253.2,635.4 1258.2,635.3C1263.3,635.1 1268.3,635 1273.3,634.9C1278.4,634.8 1283.4,634.6 1288.4,634.5C1293.5,634.4 1298.5,634.3 1303.5,634.1C1308.5,634 1313.6,633.9 1318.6,633.7C1323.6,633.6 1328.7,633.4 1333.7,633.3C1338.7,633.2 1343.8,633 1348.8,632.9C1353.8,632.7 1358.9,632.6 1363.9,632.4C1368.9,632.3 1374,632.1 1379,632C1384,631.8 1391.6,631.6 1394.1,631.5 M802.3,664.3C802.8,664.4 802.3,665.3 805.3,665.1C808.3,664.8 815.4,663.5 820.4,662.8C825.4,662 830.5,661.3 835.5,660.6C840.5,659.9 845.6,659.2 850.6,658.6C855.6,657.9 860.7,657.3 865.7,656.6C870.7,656 875.8,655.4 880.8,654.8C885.8,654.3 890.9,653.7 895.9,653.2C900.9,652.6 905.9,652.1 911,651.6C916,651 921,650.5 926.1,650C931.1,649.6 936.1,649.1 941.2,648.7C946.2,648.3 951.2,648 956.3,647.7C961.3,647.4 966.3,647.2 971.4,647C976.4,646.7 981.4,646.5 986.5,646.3C991.5,646.1 996.5,645.9 1001.6,645.7C1006.6,645.5 1011.6,645.4 1016.7,645.2C1021.7,645 1026.7,644.9 1031.8,644.8C1036.8,644.6 1041.8,644.5 1046.9,644.4C1051.9,644.2 1056.9,644.1 1062,644C1067,643.9 1072,643.8 1077.1,643.7C1082.1,643.6 1087.1,643.5 1092.2,643.4C1097.2,643.4 1102.2,643.3 1107.2,643.2C1112.3,643.1 1117.3,643 1122.3,643C1127.4,642.9 1132.4,642.8 1137.4,642.7C1142.5,642.7 1147.5,642.6 1152.5,642.5C1157.6,642.4 1162.6,642.3 1167.6,642.3C1172.7,642.2 1177.7,642.1 1182.7,642C1187.8,641.9 1192.8,641.8 1197.8,641.7C1202.9,641.6 1207.9,641.5 1212.9,641.4C1218,641.3 1223,641.2 1228,641.1C1233.1,641 1238.1,640.9 1243.1,640.8C1248.2,640.7 1253.2,640.6 1258.2,640.5C1263.3,640.3 1268.3,640.2 1273.3,640.1C1278.4,640 1283.4,639.9 1288.4,639.8C1293.5,639.7 1298.5,639.5 1303.5,639.4C1308.5,639.3 1313.6,639.2 1318.6,639.1C1323.6,638.9 1328.7,638.8 1333.7,638.7C1338.7,638.6 1343.8,638.4 1348.8,638.3C1353.8,638.2 1358.9,638 1363.9,637.9C1368.9,637.8 1374,637.7 1379,637.5C1384,637.4 1391.6,637.2 1394.1,637.1 M802.3,669C802.8,669.2 802.3,670.1 805.3,669.8C808.3,669.6 815.4,668.3 820.4,667.5C825.4,666.8 830.5,666 835.5,665.3C840.5,664.6 845.6,663.9 850.6,663.3C855.6,662.6 860.7,662 865.7,661.3C870.7,660.7 875.8,660.1 880.8,659.6C885.8,659 890.9,658.5 895.9,657.9C900.9,657.4 905.9,656.9 911,656.3C916,655.8 921,655.3 926.1,654.9C931.1,654.4 936.1,654 941.2,653.6C946.2,653.2 951.2,652.9 956.3,652.6C961.3,652.4 966.3,652.1 971.4,651.9C976.4,651.7 981.4,651.5 986.5,651.3C991.5,651.1 996.5,650.9 1001.6,650.8C1006.6,650.6 1011.6,650.4 1016.7,650.3C1021.7,650.1 1026.7,650 1031.8,649.9C1036.8,649.7 1041.8,649.6 1046.9,649.4C1051.9,649.3 1056.9,649.2 1062,649.1C1067,648.9 1072,648.8 1077.1,648.7C1082.1,648.6 1087.1,648.5 1092.2,648.4C1097.2,648.3 1102.2,648.2 1107.2,648.1C1112.3,648 1117.3,647.9 1122.3,647.8C1127.4,647.7 1132.4,647.6 1137.4,647.5C1142.5,647.4 1147.5,647.3 1152.5,647.2C1157.6,647.1 1162.6,647.1 1167.6,647C1172.7,646.9 1177.7,646.8 1182.7,646.7C1187.8,646.6 1192.8,646.5 1197.8,646.4C1202.9,646.3 1207.9,646.2 1212.9,646.1C1218,646 1223,645.9 1228,645.8C1233.1,645.7 1238.1,645.6 1243.1,645.5C1248.2,645.4 1253.2,645.3 1258.2,645.2C1263.3,645.1 1268.3,645 1273.3,644.9C1278.4,644.8 1283.4,644.7 1288.4,644.6C1293.5,644.5 1298.5,644.4 1303.5,644.3C1308.5,644.2 1313.6,644.1 1318.6,644C1323.6,643.9 1328.7,643.8 1333.7,643.7C1338.7,643.6 1343.8,643.5 1348.8,643.4C1353.8,643.3 1358.9,643.2 1363.9,643.1C1368.9,643 1374,642.9 1379,642.8C1384,642.7 1391.6,642.5 1394.1,642.5 M802.3,673.7C802.8,673.8 802.3,674.7 805.3,674.5C808.3,674.2 815.4,672.8 820.4,672.1C825.4,671.3 830.5,670.5 835.5,669.8C840.5,669.1 845.6,668.3 850.6,667.7C855.6,667 860.7,666.3 865.7,665.7C870.7,665.1 875.8,664.5 880.8,663.9C885.8,663.3 890.9,662.8 895.9,662.3C900.9,661.7 905.9,661.2 911,660.7C916,660.2 921,659.7 926.1,659.3C931.1,658.8 936.1,658.4 941.2,658C946.2,657.7 951.2,657.4 956.3,657.1C961.3,656.9 966.3,656.7 971.4,656.5C976.4,656.3 981.4,656.1 986.5,655.9C991.5,655.7 996.5,655.6 1001.6,655.4C1006.6,655.3 1011.6,655.1 1016.7,655C1021.7,654.9 1026.7,654.7 1031.8,654.6C1036.8,654.5 1041.8,654.3 1046.9,654.2C1051.9,654 1056.9,653.9 1062,653.7C1067,653.6 1072,653.5 1077.1,653.3C1082.1,653.2 1087.1,653 1092.2,652.9C1097.2,652.8 1102.2,652.6 1107.2,652.5C1112.3,652.4 1117.3,652.2 1122.3,652.1C1127.4,652 1132.4,651.8 1137.4,651.7C1142.5,651.6 1147.5,651.5 1152.5,651.4C1157.6,651.2 1162.6,651.1 1167.6,651C1172.7,650.9 1177.7,650.8 1182.7,650.7C1187.8,650.6 1192.8,650.5 1197.8,650.4C1202.9,650.3 1207.9,650.2 1212.9,650.1C1218,650 1223,649.9 1228,649.8C1233.1,649.8 1238.1,649.7 1243.1,649.6C1248.2,649.5 1253.2,649.4 1258.2,649.3C1263.3,649.2 1268.3,649.2 1273.3,649.1C1278.4,649 1283.4,648.9 1288.4,648.8C1293.5,648.8 1298.5,648.7 1303.5,648.6C1308.5,648.5 1313.6,648.5 1318.6,648.4C1323.6,648.3 1328.7,648.2 1333.7,648.2C1338.7,648.1 1343.8,648.1 1348.8,648C1353.8,647.9 1358.9,647.9 1363.9,647.8C1368.9,647.8 1374,647.7 1379,647.7C1384,647.6 1391.6,647.5 1394.1,647.5 M802.3,678.4C802.8,678.6 802.3,679.5 805.3,679.2C808.3,678.9 815.4,677.4 820.4,676.6C825.4,675.7 830.5,674.9 835.5,674.1C840.5,673.3 845.6,672.6 850.6,671.8C855.6,671.1 860.7,670.4 865.7,669.7C870.7,669.1 875.8,668.4 880.8,667.9C885.8,667.3 890.9,666.7 895.9,666.2C900.9,665.6 905.9,665.1 911,664.6C916,664.1 921,663.6 926.1,663.2C931.1,662.8 936.1,662.3 941.2,662C946.2,661.7 951.2,661.4 956.3,661.1C961.3,660.9 966.3,660.7 971.4,660.5C976.4,660.4 981.4,660.2 986.5,660.1C991.5,659.9 996.5,659.8 1001.6,659.7C1006.6,659.5 1011.6,659.4 1016.7,659.3C1021.7,659.2 1026.7,659 1031.8,658.9C1036.8,658.8 1041.8,658.6 1046.9,658.5C1051.9,658.3 1056.9,658.1 1062,658C1067,657.8 1072,657.6 1077.1,657.4C1082.1,657.2 1087.1,657 1092.2,656.9C1097.2,656.7 1102.2,656.5 1107.2,656.3C1112.3,656.1 1117.3,655.9 1122.3,655.7C1127.4,655.5 1132.4,655.3 1137.4,655.2C1142.5,655 1147.5,654.8 1152.5,654.7C1157.6,654.5 1162.6,654.4 1167.6,654.2C1172.7,654.1 1177.7,654 1182.7,653.9C1187.8,653.8 1192.8,653.7 1197.8,653.6C1202.9,653.6 1207.9,653.5 1212.9,653.4C1218,653.4 1223,653.3 1228,653.3C1233.1,653.2 1238.1,653.1 1243.1,653.1C1248.2,653 1253.2,653 1258.2,652.9C1263.3,652.9 1268.3,652.8 1273.3,652.8C1278.4,652.7 1283.4,652.7 1288.4,652.6C1293.5,652.6 1298.5,652.5 1303.5,652.5C1308.5,652.5 1313.6,652.4 1318.6,652.4C1323.6,652.4 1328.7,652.3 1333.7,652.3C1338.7,652.3 1343.8,652.3 1348.8,652.2C1353.8,652.2 1358.9,652.2 1363.9,652.2C1368.9,652.2 1374,652.2 1379,652.1C1384,652.1 1391.6,652.1 1394.1,652.1"/>
<rect x="1003.2" y="65.1" width="18.5" height="21" fill="#fff"/>
<rect x="957.6" y="138.4" width="18.5" height="21" fill="#fff"/>
<rect x="932.5" y="195.7" width="18.5" height="21" fill="#fff"/>
<rect x="909.2" y="243.4" width="18.5" height="21" fill="#fff"/>
<rect x="889" y="284.8" width="18.5" height="21" fill="#fff"/>
<rect x="876" y="324.4" width="18.5" height="21" fill="#fff"/>
<rect x="859.1" y="369.9" width="18.5" height="21" fill="#fff"/>
<rect x="832.1" y="437.4" width="18.5" height="21" fill="#fff"/>
<rect x="821" y="462.2" width="18.5" height="21" fill="#fff"/>
</g>
<text class="cl" x="1012.5" y="83.6" font-size="24.2">8</text>
<text class="cl" x="966.9" y="156.9" font-size="24.2">7</text>
<text class="cl" x="941.8" y="214.2" font-size="24.2">6</text>
<text class="cl" x="918.5" y="261.9" font-size="24.2">5</text>
<text class="cl" x="898.3" y="303.3" font-size="24.2">4</text>
<text class="cl" x="885.3" y="342.9" font-size="24.2">3</text>
<text class="cl" x="868.4" y="388.4" font-size="24.2">2</text>
<text class="cl" x="841.4" y="455.9" font-size="24.2">3</text>
<text class="cl" x="830.3" y="480.7" font-size="24.2">4</text>
<path d="M796.5,49.1H1396.4M796.5,660H1396.4" stroke="#000" stroke-width="3.7" fill="none"/>
<path d="M805.3,47.2V671.5M1394.1,47.2V671.5M878.9,660V667.9M952.5,660V671.5M1026.1,660V667.9M1099.7,660V671.5M1173.3,660V667.9M1246.9,660V671.5M1320.5,660V667.9" stroke="#000" stroke-width="4.7" fill="none"/>
<path d="M796.5,100H805.3M796.5,150.9H805.3M785.4,201.8H805.3M796.5,252.7H805.3M796.5,303.6H805.3M796.5,354.6H805.3M796.5,405.5H805.3M785.4,456.4H805.3M796.5,507.3H805.3M796.5,558.2H805.3M796.5,609.1H805.3" stroke="#000" stroke-width="3.7" fill="none"/>
<text class="tl" text-anchor="end" x="791.8" y="62.7">1.8</text>
<text class="tl" text-anchor="end" x="782.3" y="212.4">1.5</text>
<text class="tl" text-anchor="end" x="782.3" y="467">1.0</text>
<text class="tl" text-anchor="end" x="791.8" y="672.3">0.6</text>
<rect x="1044.3" y="49.1" width="347.8" height="49.8" fill="#fff" stroke="#333" stroke-width="1"/>
<ellipse cx="1089" cy="75.7" rx="32" ry="15.3" fill="url(#rgb)"/>
<text class="lg" transform="translate(1130.5,85.2) scale(1.18,1)" x="0" y="0">σ</text>
<text class="lg sub" x="1150.1" y="91">2D</text>
<text class="lg" x="1178" y="85.2">[%],</text>
<text class="lg" transform="translate(1239.7,85.2) scale(1.08,1)" x="0" y="0">δ</text>
<text class="lg" x="1255.2" y="85.2">/r</text>
<text class="lg sub" x="1274.7" y="91">0</text>
<text class="lg" transform="translate(1291.1,85.2) scale(1.08,1)" x="0" y="0">=</text>
<text class="lg" x="1318.2" y="85.2">7.4%</text>
<clipPath id="clipc"><rect x="95.3" y="753.9" width="588.8" height="610.9"/></clipPath>
<g clip-path="url(#clipc)">
<path d="M217.3,1147.3C218.6,1145.3 223.4,1142.2 228,1140.5C232.6,1138.8 234.8,1137.8 245,1137.3C255.2,1136.8 274.5,1137.2 289.3,1137.7C304.1,1138.2 316.8,1139.4 333.6,1140.6C350.4,1141.8 373.2,1143.3 390,1145C406.8,1146.7 419.5,1148.8 434.3,1150.6C449.1,1152.4 463.8,1154 478.6,1155.6C493.4,1157.2 512.5,1158.8 522.9,1160C533.3,1161.2 536.7,1161.8 541,1162.6C545.3,1163.4 547,1164.2 548.5,1165C550,1165.8 550.2,1166.5 550,1167.2C549.8,1168 549.2,1168.9 547.5,1169.5C545.8,1170.1 544.1,1170.5 540,1171C535.9,1171.5 533.1,1172 522.9,1172.6C512.7,1173.2 493.4,1174 478.6,1174.4C463.8,1174.9 449.1,1175.1 434.3,1175.3C419.5,1175.5 403.1,1175.6 390,1175.6C376.9,1175.6 368.8,1175.8 355.7,1175.4C342.6,1175.1 326.2,1174.7 311.4,1173.5C296.6,1172.3 280.4,1170.5 267.1,1168C253.8,1165.5 239.5,1161.4 231.7,1158.8C223.8,1156.2 222.4,1154.4 220,1152.5C217.6,1150.6 216,1149.3 217.3,1147.3Z" fill="#d0d0d0" filter="url(#bl)"/>
<path class="s" d="M255,752L271.6,767.1L287.1,774.5L272,779.3L249.9,795.5L271.6,805.2L293.7,795.5L300.8,784.4L330.9,772.7L351.3,795.5L331.4,808.1L325.4,815.9L345.8,835.8L360.2,842.4L389.4,839.8L405.5,855.7L418.8,877.4L448.7,867.2L478.6,871.2L494.1,876.8L486.3,896.7L500.7,900L519.5,904.6L537.3,909.3L567.1,915.9L595.9,928.8L624.7,935.4L654.6,940.5L686.1,939.9 M418.8,877.4L473,896.7L448.7,904.9L418.8,877.4 M95.3,895.1L107.7,897.3L124.3,917.7L127.2,917.7L133.2,897.3L154.2,890L183,897.8L212.9,913.7L229.5,937.6L241.7,946.1L271.6,950.9L301.5,954.3L330.9,955.8L350.8,977.9L390,988.6L418.8,973.5L426.5,976.4L445.4,985.5L463.1,991.9L476.4,998.5L478.6,1003L507.4,999.2L535,1020.2L566,1008.5L595.9,1014L624.7,1013.6L654.6,1022.5L686.1,1027.2 M686.1,1081.9L654.6,1068.2L626.9,1080.8L595.9,1083L566,1070.9L536.1,1072L507.4,1068.2L478.6,1072L448.7,1066.4L421,1059.3L418.8,1055.4L396.6,1059.8L377.9,1058.7L359,1050.9L330.9,1067.5L301.5,1059.3L271.6,1069.8L242.8,1075.3L212.9,1072.6L199,1079.7L200.7,1099.6L212.9,1107.4L233.5,1100.1L242.3,1084.1L253.4,1100.8L246.8,1120.7L271.6,1135.1L289.3,1141.7L301.5,1147.9L330.9,1147.9L360.2,1150.6L374.5,1161.6L389.4,1165L418.8,1167.2L448.7,1165L478.6,1170.5L507.4,1174.9L536.1,1174.9L566,1182L595.9,1181.6L624.7,1183.3L654.6,1182L686.1,1183.5 M558.7,1120.7L580.9,1120.7L566,1136.2L558.7,1120.7 M570.5,1139.9L595.9,1126.2L621.4,1140.6L595.9,1151L570.5,1139.9 M630.3,1120.7L654.6,1116.9L670.8,1120.7L676.8,1140.6L671.2,1161.6L654.6,1163.4L646.9,1159.4L633.6,1138.4L630.3,1120.7 M95.3,1143.5L124.3,1145L154.2,1157.7L183,1167.2L205.1,1170.5L224,1175L242.8,1174.5L271.6,1176L301.5,1181.6L330.9,1183.3L360.2,1184.9L389.4,1187.5L418.8,1189.5L448.7,1187.1L478.6,1191.5L507.4,1192.2L536.1,1192.6L566,1194.9L595.9,1193.8L624.7,1195.3L654.6,1193.8L686.1,1193.4 M95.3,1193.3L124.3,1194.4L154.2,1195.3L177.5,1199.3L194.1,1199.3L212.9,1196.6L242.8,1196L271.6,1197.1L301.5,1198.2L330.9,1199.3L360.2,1200.4L389.4,1202L420,1202.6L448.7,1202L478.6,1203.5L520,1202.6L566,1203.5L590,1202.6L624.7,1203.8L654.6,1203L686.1,1203.3 M95.3,1221.4L124.3,1213.3L154.2,1219.2L183,1215.9L212.9,1213L242.8,1210.4L271.6,1213.7L301.5,1215.2L330.9,1212.1L360.2,1213L389.4,1214.5L420,1212.3L478.6,1212.8L520,1211.6L590,1211.6L654.6,1212L686.1,1211.6 M95.3,1240.6L124.3,1234.3L154.2,1233.6L183,1230.3L212.9,1228.1L242.8,1225L271.6,1226.6L301.5,1227.5L330.9,1223.6L360.2,1224.3L389.4,1225L420,1221.6L478.6,1221.5L520,1219.9L590,1219.9L654.6,1220.2L686.1,1219.9"/>
<clipPath id="bcc"><path d="M90.3,1100L689.1,1100L684.1,1311.3L590,1312L520,1314.2L480,1314.1L420,1315L389.7,1317L360,1319.5L330,1322.8L301.5,1325.5L271.6,1329.5L240,1334.5L212.9,1339.8L183,1345.9L154.2,1355L131.7,1363.5L95.3,1378.5L90.3,1380Z"/></clipPath>
<g clip-path="url(#bcc)"><path class="s sb" d="M95.3,1378L131.7,1363L154.2,1354.5L183,1345.4L212.9,1339.3L240,1334L271.6,1329L301.5,1325L330,1322.3L360,1319L389.7,1316.5L420,1314.5L480,1313.6L520,1313.7L590,1311.5L684.1,1310.8 M95.3,1254.7L124.7,1250.1L154.2,1244.8L183.6,1242L213.1,1240L242.5,1236.9L271.9,1235.6L301.4,1233.5L330.8,1233L360.3,1232.3L389.7,1231.5L419.1,1230.8L448.6,1229.1L478,1227.8L507.5,1227.9L536.9,1229.1L566.3,1227L595.8,1227.4L625.2,1228.5L654.7,1226L684.1,1227.4 M95.3,1267.3L124.7,1261.8L154.2,1255.9L183.6,1252.7L213.1,1250.6L242.5,1247.5L271.9,1245.7L301.4,1243.3L330.8,1242.3L360.3,1241L389.7,1239.5L419.1,1238.4L448.6,1236.7L478,1235.3L507.5,1235.2L536.9,1236.3L566.3,1234.3L595.8,1234.5L625.2,1235.4L654.7,1233.1L684.1,1234.3 M95.3,1278.7L124.7,1272.5L154.2,1266.1L183.6,1262.4L213.1,1260L242.5,1256.7L271.9,1254.6L301.4,1252L330.8,1250.6L360.3,1248.8L389.7,1246.9L419.1,1245.5L448.6,1243.7L478,1242.3L507.5,1242.1L536.9,1243L566.3,1241L595.8,1241.2L625.2,1241.9L654.7,1239.7L684.1,1240.8 M95.3,1289.1L124.7,1282.3L154.2,1275.5L183.6,1271.3L213.1,1268.3L242.5,1264.8L271.9,1262.5L301.4,1259.8L330.8,1258.2L360.3,1256.1L389.7,1253.8L419.1,1252.2L448.6,1250.3L478,1248.9L507.5,1248.6L536.9,1249.2L566.3,1247.4L595.8,1247.5L625.2,1248.1L654.7,1246.1L684.1,1247.1 M95.3,1298.5L124.7,1291.3L154.2,1284.1L183.6,1279.4L213.1,1275.9L242.5,1272L271.9,1269.6L301.4,1266.9L330.8,1265.1L360.3,1262.7L389.7,1260.2L419.1,1258.4L448.6,1256.5L478,1255.1L507.5,1254.7L536.9,1255.2L566.3,1253.5L595.8,1253.5L625.2,1254L654.7,1252.2L684.1,1253.1 M95.3,1307.1L124.7,1299.6L154.2,1292.2L183.6,1287L213.1,1282.8L242.5,1278.7L271.9,1276.1L301.4,1273.4L330.8,1271.5L360.3,1269L389.7,1266.2L419.1,1264.2L448.6,1262.4L478,1261L507.5,1260.6L536.9,1260.9L566.3,1259.4L595.8,1259.4L625.2,1259.8L654.7,1258.1L684.1,1258.9 M95.3,1315.1L124.7,1307.2L154.2,1299.7L183.6,1294L213.1,1289.3L242.5,1284.9L271.9,1282.2L301.4,1279.6L330.8,1277.6L360.3,1274.8L389.7,1271.8L419.1,1269.7L448.6,1268.1L478,1266.7L507.5,1266.2L536.9,1266.4L566.3,1265.1L595.8,1265L625.2,1265.3L654.7,1263.9L684.1,1264.6 M95.3,1322.4L124.7,1314.4L154.2,1306.6L183.6,1300.6L213.1,1295.4L242.5,1290.8L271.9,1288.1L301.4,1285.5L330.8,1283.3L360.3,1280.4L389.7,1277.2L419.1,1275L448.6,1273.5L478,1272.2L507.5,1271.7L536.9,1271.8L566.3,1270.6L595.8,1270.5L625.2,1270.8L654.7,1269.6L684.1,1270.1 M95.3,1329.3L124.7,1321L154.2,1313.2L183.6,1306.9L213.1,1301.3L242.5,1296.5L271.9,1293.7L301.4,1291.1L330.8,1288.9L360.3,1285.7L389.7,1282.3L419.1,1280.1L448.6,1278.7L478,1277.5L507.5,1277L536.9,1277L566.3,1276L595.8,1276L625.2,1276.1L654.7,1275.2L684.1,1275.6 M95.3,1335.7L124.7,1327.3L154.2,1319.4L183.6,1312.9L213.1,1307L242.5,1302.1L271.9,1299.2L301.4,1296.6L330.8,1294.2L360.3,1290.8L389.7,1287.2L419.1,1285L448.6,1283.7L478,1282.7L507.5,1282.3L536.9,1282.2L566.3,1281.4L595.8,1281.3L625.2,1281.4L654.7,1280.7L684.1,1281 M95.3,1341.7L124.7,1333.3L154.2,1325.3L183.6,1318.7L213.1,1312.7L242.5,1307.7L271.9,1304.6L301.4,1301.8L330.8,1299.3L360.3,1295.8L389.7,1292.1L419.1,1289.8L448.6,1288.7L478,1287.8L507.5,1287.4L536.9,1287.4L566.3,1286.6L595.8,1286.6L625.2,1286.7L654.7,1286L684.1,1286.3 M95.3,1347.4L124.7,1338.9L154.2,1330.9L183.6,1324.2L213.1,1318.2L242.5,1313.2L271.9,1309.9L301.4,1306.9L330.8,1304.2L360.3,1300.6L389.7,1296.8L419.1,1294.6L448.6,1293.5L478,1292.7L507.5,1292.4L536.9,1292.5L566.3,1291.8L595.8,1291.7L625.2,1291.9L654.7,1291.2L684.1,1291.6 M95.3,1352.7L124.7,1344.3L154.2,1336.3L183.6,1329.6L213.1,1323.7L242.5,1318.5L271.9,1315L301.4,1311.9L330.8,1309L360.3,1305.3L389.7,1301.5L419.1,1299.3L448.6,1298.4L478,1297.7L507.5,1297.4L536.9,1297.5L566.3,1296.8L595.8,1296.8L625.2,1297L654.7,1296.3L684.1,1296.7 M95.3,1357.7L124.7,1349.4L154.2,1341.5L183.6,1334.8L213.1,1328.9L242.5,1323.6L271.9,1319.9L301.4,1316.6L330.8,1313.6L360.3,1309.9L389.7,1306.2L419.1,1304.1L448.6,1303.2L478,1302.6L507.5,1302.3L536.9,1302.5L566.3,1301.8L595.8,1301.8L625.2,1302L654.7,1301.3L684.1,1301.6 M95.3,1362.4L124.7,1354.3L154.2,1346.5L183.6,1339.9L213.1,1333.8L242.5,1328.4L271.9,1324.5L301.4,1320.9L330.8,1317.9L360.3,1314.3L389.7,1310.9L419.1,1309L448.6,1308.1L478,1307.4L507.5,1307.2L536.9,1307.4L566.3,1306.7L595.8,1306.7L625.2,1306.8L654.7,1306.1L684.1,1306.3 M95.3,1366.6L124.7,1358.9L154.2,1351.4L183.6,1344.8L213.1,1338.4L242.5,1332.7L271.9,1328.6L301.4,1324.9L330.8,1321.9L360.3,1318.7L389.7,1315.6L419.1,1313.9L448.6,1313L478,1312.3L507.5,1312L536.9,1312.1L566.3,1311.4L595.8,1311.3L625.2,1311.4L654.7,1310.6L684.1,1310.8 M95.3,1370.7L124.7,1363.5L154.2,1356.1L183.6,1349.5L213.1,1342.9L242.5,1336.9L271.9,1332.6L301.4,1328.7L330.8,1325.7L360.3,1322.9L389.7,1320.3L419.1,1318.7L448.6,1317.7L478,1316.9L507.5,1316.7L536.9,1316.7L566.3,1316L595.8,1315.8L625.2,1315.8L654.7,1315L684.1,1315.1 M95.3,1374.8L124.7,1367.9L154.2,1360.8L183.6,1354.1L213.1,1347.2L242.5,1341L271.9,1336.5L301.4,1332.5L330.8,1329.5L360.3,1327L389.7,1324.8L419.1,1323.4L448.6,1322.4L478,1321.6L507.5,1321.2L536.9,1321.2L566.3,1320.4L595.8,1320.2L625.2,1320.2L654.7,1319.3L684.1,1319.4"/></g>
<path class="d" d="M93.3,771.1L155.3,771.1L163.1,777.1L164.2,792.6L193,813.6L193,818.1L165.3,836.9L185.2,846.4L210.7,835.3L217.3,840.2L231.7,856.8L245,862.4L302.6,874.1L303.7,879L298.1,884.5L287.1,897.8L295.9,905.5L329.1,918.8L351.3,923.3L386.7,926.1L418.8,924.4L431,935.4L445.4,945.4L460.9,949.8L478.6,956L502.9,965.3L514,966.4L536.1,963.1L567.1,973.1L595.9,978.6L624.7,975.3L654.6,990.8L686.1,1005.2 M93.3,1026.2L106.6,1022.9L154.2,1008.5L183,1021.8L187.4,1019.6L178.6,998.5L211.8,987.5L242.8,993L271.6,997.4L299.3,996.3L305.9,999.6L331.4,1016L360.2,1021.4L388.9,1029.2L400,1027.5L419.9,1024.8L437.6,1026.2L478.6,1033L505,1042.5L535,1037L567.1,1043.5L595.9,1045.7L624.7,1045.8L654.6,1047.4L686.1,1052.4 M686.1,1100.8L654.6,1104.1L624.7,1095.7L595.9,1097.4L567.1,1099.6L540.6,1105.2L507.4,1095.2L478.6,1108.9L454.2,1110.7L436.5,1117L412.1,1132.4L401.1,1139.5L418.8,1143.9L448.7,1148.8L478.6,1155L507.4,1158.3L536.1,1159.4L566,1167.2L595.9,1166.1L624.7,1166.1L654.6,1170.9L686.1,1173.8 M93.3,1076L98.9,1077.5L125.4,1090.8L137.6,1101.9L154.2,1121.3L154.2,1140.6L183,1146.1L212.9,1155L242.8,1155L271.6,1158.3L301.5,1167.2L330.9,1170.5L360.2,1171.6L389.4,1174.9L418.8,1180.5L448.7,1177.1L478.6,1182.7L507.4,1183.8L536.1,1183.3L566,1188.2L595.9,1187.1L624.7,1188.2L654.6,1187.8L686.1,1188.2 M93.3,1173.8L124.3,1173.8L138.7,1181.6L154.2,1183.8L183,1185.6L205.1,1182.7L242.8,1188.2L271.6,1187.8L301.5,1190.4L330.9,1191.1L360.2,1192.6L389.4,1195.5L418.8,1196.6L448.7,1195.3L478.6,1198.2L536.1,1198.9L566,1200.4L595.9,1199.3L624.7,1201L654.6,1199.6L686.1,1199 M93.3,1207L154.2,1208.1L183,1209.3L212.9,1206.4L242.8,1204.8L271.6,1205.9L301.5,1208.1L330.9,1207L360.2,1208.1L389.4,1209.5L420,1207.6L478.6,1208.5L520,1207.2L590,1207.3L654.6,1207.5L686.1,1207.6 M93.3,1230.3L124.3,1221.4L154.2,1228.1L183,1223.6L212.9,1221.4L242.8,1218.1L271.6,1220.3L301.5,1222.1L330.9,1218.5L360.2,1219.3L389.4,1220.5L420,1217L478.6,1217.2L520,1215.8L590,1215.8L654.6,1216L686.1,1215.8 M520,800L535.2,811.5L545.5,817.6L558.9,822.5L582.5,826.5L601.4,820L613.5,810.3L624,800 M625,800L635.4,811.5L654.8,829.8L686.1,830.4 M686.1,867.5L675.4,865L662,860L648.7,849.8L625.6,842.5L602.6,855.5L625.6,863.8L648.7,859.5L657.2,850.4L670.6,846.8L686.1,842.8"/>
<g clip-path="url(#bcc)"><path class="d db" d="M92.3,1248.7L95.3,1247.7L124.7,1243.7L154.2,1238.7L183.6,1236.1L213.1,1233.9L242.5,1230.8L271.9,1229.7L301.4,1227.9L330.8,1227.8L360.3,1227.5L389.7,1227.1L419.1,1226.8L448.6,1225.1L478,1223.8L507.5,1224L536.9,1225.3L566.3,1223.1L595.8,1223.6L625.2,1224.8L654.7,1222.2L684.1,1223.7 M92.3,1262L95.3,1261L124.7,1256L154.2,1250.3L183.6,1247.4L213.1,1245.3L242.5,1242.2L271.9,1240.7L301.4,1238.4L330.8,1237.6L360.3,1236.6L389.7,1235.5L419.1,1234.6L448.6,1232.9L478,1231.5L507.5,1231.6L536.9,1232.7L566.3,1230.6L595.8,1231L625.2,1232L654.7,1229.5L684.1,1230.9 M92.3,1274L95.3,1273L124.7,1267.1L154.2,1261L183.6,1257.5L213.1,1255.3L242.5,1252.1L271.9,1250.2L301.4,1247.6L330.8,1246.4L360.3,1244.9L389.7,1243.2L419.1,1242L448.6,1240.2L478,1238.8L507.5,1238.7L536.9,1239.6L566.3,1237.6L595.8,1237.9L625.2,1238.7L654.7,1236.4L684.1,1237.6 M92.3,1284.9L95.3,1283.9L124.7,1277.4L154.2,1270.8L183.6,1266.8L213.1,1264.1L242.5,1260.7L271.9,1258.6L301.4,1255.9L330.8,1254.4L360.3,1252.4L389.7,1250.3L419.1,1248.8L448.6,1247L478,1245.6L507.5,1245.4L536.9,1246.1L566.3,1244.2L595.8,1244.4L625.2,1245L654.7,1242.9L684.1,1244 M92.3,1294.8L95.3,1293.8L124.7,1286.8L154.2,1279.8L183.6,1275.3L213.1,1272.1L242.5,1268.4L271.9,1266.1L301.4,1263.3L330.8,1261.6L360.3,1259.4L389.7,1257L419.1,1255.3L448.6,1253.4L478,1252L507.5,1251.7L536.9,1252.2L566.3,1250.5L595.8,1250.5L625.2,1251.1L654.7,1249.2L684.1,1250.1 M92.3,1303.8L95.3,1302.8L124.7,1295.4L154.2,1288.2L183.6,1283.2L213.1,1279.3L242.5,1275.3L271.9,1272.9L301.4,1270.2L330.8,1268.3L360.3,1265.8L389.7,1263.2L419.1,1261.3L448.6,1259.5L478,1258.1L507.5,1257.7L536.9,1258.1L566.3,1256.4L595.8,1256.5L625.2,1256.9L654.7,1255.2L684.1,1256 M92.3,1312.1L95.3,1311.1L124.7,1303.4L154.2,1295.9L183.6,1290.5L213.1,1286L242.5,1281.8L271.9,1279.2L301.4,1276.5L330.8,1274.6L360.3,1271.9L389.7,1269L419.1,1267L448.6,1265.3L478,1263.9L507.5,1263.4L536.9,1263.7L566.3,1262.2L595.8,1262.2L625.2,1262.5L654.7,1261L684.1,1261.7 M92.3,1319.8L95.3,1318.8L124.7,1310.8L154.2,1303.2L183.6,1297.3L213.1,1292.3L242.5,1287.8L271.9,1285.1L301.4,1282.5L330.8,1280.5L360.3,1277.6L389.7,1274.5L419.1,1272.4L448.6,1270.8L478,1269.5L507.5,1269L536.9,1269.1L566.3,1267.8L595.8,1267.8L625.2,1268.1L654.7,1266.8L684.1,1267.3 M92.3,1326.9L95.3,1325.9L124.7,1317.7L154.2,1309.9L183.6,1303.8L213.1,1298.3L242.5,1293.6L271.9,1290.9L301.4,1288.3L330.8,1286.1L360.3,1283L389.7,1279.7L419.1,1277.5L448.6,1276.1L478,1274.9L507.5,1274.4L536.9,1274.4L566.3,1273.3L595.8,1273.2L625.2,1273.5L654.7,1272.4L684.1,1272.9 M92.3,1333.5L95.3,1332.5L124.7,1324.2L154.2,1316.3L183.6,1309.9L213.1,1304.1L242.5,1299.3L271.9,1296.4L301.4,1293.8L330.8,1291.5L360.3,1288.3L389.7,1284.8L419.1,1282.5L448.6,1281.2L478,1280.1L507.5,1279.6L536.9,1279.6L566.3,1278.7L595.8,1278.6L625.2,1278.8L654.7,1277.9L684.1,1278.3 M92.3,1339.7L95.3,1338.7L124.7,1330.3L154.2,1322.3L183.6,1315.8L213.1,1309.8L242.5,1304.9L271.9,1301.9L301.4,1299.2L330.8,1296.7L360.3,1293.3L389.7,1289.7L419.1,1287.4L448.6,1286.2L478,1285.2L507.5,1284.8L536.9,1284.8L566.3,1284L595.8,1283.9L625.2,1284.1L654.7,1283.3L684.1,1283.7 M92.3,1345.6L95.3,1344.6L124.7,1336.1L154.2,1328.1L183.6,1321.4L213.1,1315.5L242.5,1310.4L271.9,1307.2L301.4,1304.4L330.8,1301.8L360.3,1298.2L389.7,1294.4L419.1,1292.2L448.6,1291.1L478,1290.2L507.5,1289.9L536.9,1289.9L566.3,1289.2L595.8,1289.2L625.2,1289.3L654.7,1288.6L684.1,1289 M92.3,1351.1L95.3,1350.1L124.7,1341.6L154.2,1333.6L183.6,1326.9L213.1,1321L242.5,1315.8L271.9,1312.4L301.4,1309.4L330.8,1306.6L360.3,1303L389.7,1299.2L419.1,1297L448.6,1296L478,1295.2L507.5,1294.9L536.9,1295L566.3,1294.3L595.8,1294.3L625.2,1294.5L654.7,1293.8L684.1,1294.1 M92.3,1356.2L95.3,1355.2L124.7,1346.8L154.2,1338.9L183.6,1332.2L213.1,1326.3L242.5,1321.1L271.9,1317.5L301.4,1314.2L330.8,1311.3L360.3,1307.6L389.7,1303.8L419.1,1301.7L448.6,1300.8L478,1300.1L507.5,1299.9L536.9,1300L566.3,1299.3L595.8,1299.3L625.2,1299.5L654.7,1298.8L684.1,1299.1 M92.3,1361L95.3,1360L124.7,1351.8L154.2,1344L183.6,1337.4L213.1,1331.4L242.5,1326L271.9,1322.2L301.4,1318.8L330.8,1315.7L360.3,1312.1L389.7,1308.5L419.1,1306.5L448.6,1305.7L478,1305L507.5,1304.8L536.9,1304.9L566.3,1304.3L595.8,1304.2L625.2,1304.4L654.7,1303.7L684.1,1304 M92.3,1365.5L95.3,1364.5L124.7,1356.6L154.2,1349L183.6,1342.3L213.1,1336.1L242.5,1330.6L271.9,1326.6L301.4,1322.9L330.8,1319.9L360.3,1316.5L389.7,1313.3L419.1,1311.4L448.6,1310.5L478,1309.8L507.5,1309.6L536.9,1309.7L566.3,1309.1L595.8,1309L625.2,1309.1L654.7,1308.3L684.1,1308.6 M92.3,1369.7L95.3,1368.7L124.7,1361.2L154.2,1353.8L183.6,1347.1L213.1,1340.6L242.5,1334.8L271.9,1330.6L301.4,1326.8L330.8,1323.8L360.3,1320.8L389.7,1318L419.1,1316.3L448.6,1315.3L478,1314.6L507.5,1314.3L536.9,1314.4L566.3,1313.7L595.8,1313.5L625.2,1313.6L654.7,1312.8L684.1,1313 M92.3,1373.8L95.3,1372.8L124.7,1365.7L154.2,1358.4L183.6,1351.8L213.1,1345L242.5,1338.9L271.9,1334.5L301.4,1330.6L330.8,1327.6L360.3,1324.9L389.7,1322.5L419.1,1321.1L448.6,1320L478,1319.3L507.5,1318.9L536.9,1319L566.3,1318.2L595.8,1318L625.2,1318L654.7,1317.1L684.1,1317.2"/></g>
<rect x="502.2" y="893.9" width="34.5" height="21" fill="#fff"/>
<rect x="461.4" y="943.8" width="34.5" height="21" fill="#fff"/>
<rect x="428.1" y="975.9" width="34.5" height="21" fill="#fff"/>
<rect x="402.6" y="1014.6" width="34.5" height="21" fill="#fff"/>
<rect x="360.6" y="1048.2" width="34.5" height="21" fill="#fff"/>
<rect x="419.2" y="1108" width="34.5" height="21" fill="#fff"/>
<rect x="565.4" y="815.3" width="34.5" height="21" fill="#fff"/>
<rect x="206.8" y="1165.5" width="34.5" height="21" fill="#fff"/>
<rect x="176.8" y="1188.8" width="34.5" height="21" fill="#fff"/>
</g>
<text class="cl" x="519.5" y="912.4" font-size="24.2">2.8</text>
<text class="cl" x="478.6" y="962.3" font-size="24.2">2.6</text>
<text class="cl" x="445.4" y="994.4" font-size="24.2">2.4</text>
<text class="cl" x="419.9" y="1033.1" font-size="24.2">2.2</text>
<text class="cl" x="377.9" y="1066.7" font-size="24.2">2.0</text>
<text class="cl" x="436.5" y="1126.5" font-size="24.2">1.8</text>
<text class="cl" x="582.6" y="833.8" font-size="24.2">3.0</text>
<text class="cl" x="224" y="1184" font-size="24.2">2.4</text>
<text class="cl" x="194.1" y="1207.3" font-size="24.2">2.8</text>
<path d="M86.5,753.9H686.4M86.5,1364.8H686.4" stroke="#000" stroke-width="3.7" fill="none"/>
<path d="M95.3,752V1376.2M684.1,752V1376.2M168.9,1364.8V1372.6M242.5,1364.8V1376.2M316.1,1364.8V1372.6M389.7,1364.8V1376.2M463.3,1364.8V1372.6M536.9,1364.8V1376.2M610.5,1364.8V1372.6" stroke="#000" stroke-width="4.7" fill="none"/>
<path d="M86.5,804.8H95.3M86.5,855.7H95.3M75.5,906.6H95.3M86.5,957.5H95.3M86.5,1008.4H95.3M86.5,1059.3H95.3M86.5,1110.3H95.3M75.5,1161.2H95.3M86.5,1212.1H95.3M86.5,1263H95.3M86.5,1313.9H95.3" stroke="#000" stroke-width="3.7" fill="none"/>
<text class="tl" text-anchor="end" x="81.8" y="767.5">1.8</text>
<text class="tl" text-anchor="end" x="72.3" y="917.2">1.5</text>
<text class="tl" text-anchor="end" x="72.3" y="1171.8">1.0</text>
<text class="tl" text-anchor="end" x="81.8" y="1377.1">0.6</text>
<text class="tl" text-anchor="middle" x="95" y="1404.8">2</text>
<text class="tl" text-anchor="middle" x="244.5" y="1404.8">3</text>
<text class="tl" text-anchor="middle" x="387.4" y="1404.8">4</text>
<text class="tl" text-anchor="middle" x="538.5" y="1404.8">5</text>
<text class="tl" text-anchor="middle" x="680.8" y="1404.8">6</text>
<rect x="354.2" y="753.9" width="327.9" height="55.3" fill="#fff" stroke="#333" stroke-width="1"/>
<circle cx="385" cy="782" r="21" fill="url(#rg)"/>
<text class="lg" transform="translate(411.8,792.6) scale(1.18,1)" x="0" y="0">σ</text>
<text class="lg sub" x="431.4" y="798.4">5</text>
<text class="lg" x="448.1" y="792.6">[%],</text>
<text class="lg" transform="translate(509.8,792.6) scale(1.08,1)" x="0" y="0">δ</text>
<text class="lg" x="525.3" y="792.6">/r</text>
<text class="lg sub" x="544.8" y="798.4">0</text>
<text class="lg" transform="translate(561.2,792.6) scale(1.08,1)" x="0" y="0">=</text>
<text class="lg" x="588.3" y="792.6">13.7%</text>
<clipPath id="clipd"><rect x="805.3" y="753.9" width="588.8" height="610.9"/></clipPath>
<g clip-path="url(#clipd)">
<path d="M919.6,1126.2C919.4,1124.5 921.8,1123.4 924,1122.5C926.2,1121.6 925.9,1120.6 932.9,1120.7C939.9,1120.8 955,1121.6 966.1,1122.9C977.2,1124.2 986.4,1126 999.3,1128.4C1012.2,1130.8 1028.8,1134.4 1043.6,1137.3C1058.4,1140.2 1075.2,1143 1087.9,1145.6C1100.6,1148.2 1109.7,1150.6 1120,1153C1130.3,1155.4 1142,1158.2 1150,1160C1158,1161.8 1163.5,1162.6 1168,1163.6C1172.5,1164.6 1175.4,1165.2 1177,1166C1178.6,1166.8 1179,1167.4 1177.5,1168.2C1176,1169 1172.6,1170 1168,1170.6C1163.4,1171.2 1159.7,1171.8 1150,1171.8C1140.3,1171.8 1124,1171.2 1110,1170.4C1096,1169.6 1080.5,1168.4 1065.7,1166.8C1050.9,1165.2 1036.2,1163.1 1021.4,1161C1006.6,1158.9 989,1156.8 977.1,1154C965.2,1151.2 956.6,1146.9 950,1144.5C943.4,1142.1 941.5,1141.4 937.3,1139.5C933.1,1137.6 928,1135.2 925,1133C922,1130.8 919.8,1128 919.6,1126.2Z" fill="#d0d0d0" filter="url(#bl)"/>
<path class="s" d="M1255,790L1268.3,804.8L1280.4,814.8L1288.2,829L1295.9,841.3L1305.9,849.1L1335.1,848L1364.6,854.6L1396.1,859 M914,750L916.7,755L922.9,765.4L941.7,773.3L952.8,775.6L978.9,794.2L982,806.6L1011.5,811.4L1015.9,815.4L1008.8,835.3L1028.1,855.7L1040.7,864.1L1070.2,878.3L1099.7,882.7L1129.2,882.7L1135.4,887.8L1150.2,899L1167.5,907.8L1188.1,912.2L1217.5,910L1231.7,916.6L1247,936.5L1276.2,926.6L1288.2,936.5L1292.6,957.6L1305.9,964.7L1330.3,956.5L1335.1,954.3L1364.6,964.2L1396.1,978.6 M805.3,878.5L834.8,858.4L864.2,884.5L893.7,898.9L923.1,902.2L951.7,916.6L958.3,937.2L981.8,944.3L1011.5,935.4L1040.7,948.7L1071.3,955.8L1082.3,967L1096.7,979.3L1100,979.3L1129.2,969.8L1155.3,978.6L1158.6,981.9L1188.1,993L1217.5,1000.8L1247,996.3L1276.2,1012.6L1305.9,1020.3L1335.1,1017.4L1364.6,1018L1396.1,1033 M1396.1,1076.4L1364.6,1075.3L1335.1,1068.6L1305.9,1076.4L1276.2,1077.9L1247,1069.8L1217.5,1062L1188.1,1053.1L1158.6,1050.8L1129.2,1042.4L1099.7,1040.8L1070.2,1037L1052.4,1032L1034.7,1028.6L1011.5,1022L981.8,1030.1L955,1038.6L952.6,1040.8L923.1,1037.8L919.6,1038.8L918.5,1059.8L921.8,1079.7L952.6,1100.8L972.7,1104.5L990.4,1108.5L1011.5,1115.1L1017,1120.7L1040.7,1126.2L1070.2,1132.4L1099.7,1140.6L1129.2,1148.4L1158.6,1147.3L1188.1,1152.8L1217.5,1160.5L1247,1163.9L1276.2,1165.6L1305.9,1164.3L1335.1,1167.2L1364.6,1167.8L1396.1,1169.4 M805.3,1069.5L834.8,1090.8L841,1099.6L864.2,1112.9L875.3,1119.6L887.5,1130L905.2,1132.4L923.1,1136.2L952.6,1139.5L981.8,1152.8L1011.5,1156.8L1040.7,1160.5L1070.2,1165.6L1099.7,1166.2L1129.2,1170.5L1158.6,1172.7L1188.1,1176L1217.5,1178.9L1247,1182L1276.2,1183.8L1305.9,1184.9L1335.1,1183.8L1364.6,1188.2L1396.1,1187.8 M805.3,1130L834.8,1143.9L855.4,1153L873.1,1153.9L893.7,1163.4L923.1,1167.2L952.6,1170.5L981.8,1176L1011.5,1183.8L1040.7,1185.6L1070.2,1184.5L1099.7,1188.2L1129.2,1187.1L1158.6,1190.9L1188.1,1192.6L1217.5,1193.1L1247,1194.9L1276.2,1196L1305.9,1196.4L1335.1,1195.5L1364.6,1198.2L1396.1,1198.2 M805.3,1173L827.7,1174.5L845.4,1176L864.2,1176L893.7,1181.6L923.1,1188.7L952.6,1190.4L981.8,1191.5L1011.5,1194.4L1040.7,1199.3L1070.2,1200.4L1099.7,1202.6L1129.2,1201.1L1158.6,1204.8L1188.1,1203.7L1217.5,1203.3L1247,1206.5L1276.2,1207.5L1305.9,1208.1L1335.1,1207L1364.6,1208.8L1396.1,1207.8 M805.3,1197.5L834.8,1197.1L864.2,1202.6L893.7,1202L923.1,1207L952.6,1207L981.8,1208.1L1011.5,1207L1040.7,1211L1070.2,1212.6L1099.7,1214.3L1158.6,1215.3L1217.5,1215L1247,1216.2L1305.9,1217.8L1335.1,1215.7L1364.6,1218.3L1396.1,1217.5 M805.3,1216.5L834.8,1215.9L864.2,1220.3L893.7,1219L923.1,1221L952.6,1220.8L981.8,1221.4L1011.5,1221L1040.7,1221.6L1070.2,1224.1L1099.7,1225.4L1158.6,1225L1217.5,1224.6L1247,1225.6L1305.9,1227.2L1335.1,1225.2L1364.6,1227.6L1396.1,1226.8"/>
<path class="s sb" d="M805.3,1233.5L834.7,1232.1L864.2,1233.1L893.6,1233.5L923.1,1231.9L952.5,1231.6L981.9,1230.5L1011.4,1232L1040.8,1233.4L1070.3,1233.4L1099.7,1233.3L1129.1,1231.9L1158.6,1234.1L1188,1234.2L1217.5,1232.6L1246.9,1234L1276.3,1232.7L1305.8,1233.3L1335.2,1234.1L1364.7,1234.1L1394.1,1236 M805.3,1247.6L834.7,1245.6L864.2,1245.6L893.6,1245.1L923.1,1242.9L952.5,1242.1L981.9,1240.9L1011.4,1242L1040.8,1243L1070.3,1242.6L1099.7,1242.2L1129.1,1240.6L1158.6,1242.4L1188,1242.4L1217.5,1241L1246.9,1242.3L1276.3,1241L1305.8,1241.5L1335.2,1242.1L1364.7,1242L1394.1,1243.7 M805.3,1260.5L834.7,1257.7L864.2,1256.9L893.6,1255.7L923.1,1253.1L952.5,1252L981.9,1250.5L1011.4,1251.2L1040.8,1251.8L1070.3,1251.2L1099.7,1250.4L1129.1,1248.7L1158.6,1250.4L1188,1250.4L1217.5,1249L1246.9,1250.2L1276.3,1249L1305.8,1249.3L1335.2,1249.8L1364.7,1249.6L1394.1,1250.9 M805.3,1272.3L834.7,1268.7L864.2,1267.1L893.6,1265.4L923.1,1262.7L952.5,1261.3L981.9,1259.5L1011.4,1259.7L1040.8,1260L1070.3,1259.2L1099.7,1258.2L1129.1,1256.6L1158.6,1258L1188,1258L1217.5,1256.8L1246.9,1257.7L1276.3,1256.5L1305.8,1256.7L1335.2,1257.1L1364.7,1256.7L1394.1,1257.9 M805.3,1283.2L834.7,1278.9L864.2,1276.5L893.6,1274.4L923.1,1271.6L952.5,1270L981.9,1268L1011.4,1267.8L1040.8,1267.7L1070.3,1266.7L1099.7,1265.7L1129.1,1264L1158.6,1265.2L1188,1265.2L1217.5,1264.1L1246.9,1264.9L1276.3,1263.8L1305.8,1263.9L1335.2,1264.1L1364.7,1263.7L1394.1,1264.5 M805.3,1293.4L834.7,1288.4L864.2,1285.4L893.6,1282.8L923.1,1280L952.5,1278.3L981.9,1276L1011.4,1275.4L1040.8,1275L1070.3,1273.9L1099.7,1272.7L1129.1,1271.1L1158.6,1272.1L1188,1272.1L1217.5,1271.1L1246.9,1271.8L1276.3,1270.8L1305.8,1270.8L1335.2,1270.9L1364.7,1270.4L1394.1,1271 M805.3,1302.8L834.7,1297.4L864.2,1293.8L893.6,1290.9L923.1,1288L952.5,1286.1L981.9,1283.7L1011.4,1282.7L1040.8,1282L1070.3,1280.7L1099.7,1279.5L1129.1,1277.9L1158.6,1278.7L1188,1278.7L1217.5,1277.8L1246.9,1278.4L1276.3,1277.5L1305.8,1277.4L1335.2,1277.4L1364.7,1276.8L1394.1,1277.2 M805.3,1311.7L834.7,1305.9L864.2,1301.9L893.6,1298.6L923.1,1295.6L952.5,1293.5L981.9,1291L1011.4,1289.7L1040.8,1288.8L1070.3,1287.3L1099.7,1285.9L1129.1,1284.4L1158.6,1285L1188,1284.9L1217.5,1284.2L1246.9,1284.6L1276.3,1283.8L1305.8,1283.7L1335.2,1283.6L1364.7,1283L1394.1,1283.2 M805.3,1320.1L834.7,1314.1L864.2,1309.8L893.6,1306.1L923.1,1302.9L952.5,1300.5L981.9,1297.9L1011.4,1296.5L1040.8,1295.3L1070.3,1293.7L1099.7,1292.2L1129.1,1290.6L1158.6,1291L1188,1291L1217.5,1290.3L1246.9,1290.7L1276.3,1290L1305.8,1289.8L1335.2,1289.7L1364.7,1289.1L1394.1,1289.1 M805.3,1328L834.7,1322L864.2,1317.4L893.6,1313.4L923.1,1309.8L952.5,1307.2L981.9,1304.6L1011.4,1303L1040.8,1301.6L1070.3,1299.9L1099.7,1298.2L1129.1,1296.6L1158.6,1296.8L1188,1296.7L1217.5,1296.3L1246.9,1296.5L1276.3,1296L1305.8,1295.8L1335.2,1295.6L1364.7,1295L1394.1,1294.9 M805.3,1335.5L834.7,1329.5L864.2,1324.7L893.6,1320.5L923.1,1316.5L952.5,1313.5L981.9,1311L1011.4,1309.3L1040.8,1307.9L1070.3,1306L1099.7,1304.1L1129.1,1302.3L1158.6,1302.5L1188,1302.4L1217.5,1302L1246.9,1302.2L1276.3,1301.7L1305.8,1301.5L1335.2,1301.3L1364.7,1300.8L1394.1,1300.7 M805.3,1342.5L834.7,1336.6L864.2,1331.8L893.6,1327.4L923.1,1322.9L952.5,1319.6L981.9,1317L1011.4,1315.4L1040.8,1314L1070.3,1311.9L1099.7,1309.8L1129.1,1307.9L1158.6,1308L1188,1308L1217.5,1307.5L1246.9,1307.8L1276.3,1307.3L1305.8,1307.1L1335.2,1306.9L1364.7,1306.5L1394.1,1306.4 M805.3,1349.1L834.7,1343.3L864.2,1338.5L893.6,1333.9L923.1,1329.1L952.5,1325.5L981.9,1322.8L1011.4,1321.3L1040.8,1319.8L1070.3,1317.6L1099.7,1315.4L1129.1,1313.3L1158.6,1313.5L1188,1313.5L1217.5,1313L1246.9,1313.3L1276.3,1312.9L1305.8,1312.7L1335.2,1312.5L1364.7,1312.1L1394.1,1312 M805.3,1355.1L834.7,1349.5L864.2,1344.7L893.6,1340.1L923.1,1334.9L952.5,1331.1L981.9,1328.4L1011.4,1326.9L1040.8,1325.4L1070.3,1323.2L1099.7,1320.8L1129.1,1318.8L1158.6,1318.9L1188,1318.9L1217.5,1318.6L1246.9,1318.9L1276.3,1318.4L1305.8,1318.3L1335.2,1318.1L1364.7,1317.7L1394.1,1317.6 M805.3,1360.6L834.7,1355.1L864.2,1350.4L893.6,1345.7L923.1,1340.4L952.5,1336.5L981.9,1333.7L1011.4,1332.1L1040.8,1330.6L1070.3,1328.4L1099.7,1326.2L1129.1,1324.2L1158.6,1324.3L1188,1324.4L1217.5,1324.2L1246.9,1324.5L1276.3,1324L1305.8,1323.9L1335.2,1323.7L1364.7,1323.2L1394.1,1323.1 M805.3,1365.5L834.7,1359.9L864.2,1355.2L893.6,1350.5L923.1,1345.5L952.5,1341.6L981.9,1338.7L1011.4,1336.9L1040.8,1335.4L1070.3,1333.4L1099.7,1331.4L1129.1,1329.7L1158.6,1329.9L1188,1330.1L1217.5,1329.9L1246.9,1330.3L1276.3,1329.8L1305.8,1329.6L1335.2,1329.4L1364.7,1328.8L1394.1,1328.6"/>
<path class="d" d="M1005,750L1010.4,756.1L1040.7,778.2L1069,791.5L1100,800L1123.2,807L1133.2,815.9L1114.4,833.6L1129.2,845.8L1158.6,849.1L1184.1,861L1207.4,866.8L1217.5,871.2L1247,886.7L1276.2,898.9L1305.9,911.1L1335.1,914.4L1364.6,924.4L1396.1,936.5 M840,750L844.3,755L852,764.9L864.2,778.2L893.7,801.5L908.5,813.6L907.4,819.2L891.2,835.3L904.1,835.8L923.1,826.9L952.8,829.8L959,834.7L955,846.9L947.9,854.6L948.4,857.9L981.8,871.2L1011.5,880.5L1040.7,900L1070.2,922.1L1096.7,935.4L1115.5,937L1134.3,939.4L1158.6,954.3L1188.1,959.8L1217.5,975.3L1247,981.9L1276.2,970.9L1305.9,983L1335.1,993L1364.6,1003L1396.1,1001.9 M803.3,946L806.6,946.5L834.8,959.8L864.2,960.9L893.7,973.1L923.1,981.5L952.8,977.1L981.8,984.1L1011.5,991.2L1034.7,988.6L1052.4,997.4L1072.4,1008.5L1087.9,1019.6L1099.6,1022.5L1103.3,1022L1129.2,1015.2L1158.6,1026.4L1188.1,1035.2L1217.5,1040.5L1247,1034.2L1276.2,1043.8L1305.9,1046.3L1335.1,1048.5L1364.6,1052.4L1396.1,1058 M803.3,984.5L806.6,985.3L822.1,997.4L836.5,1019.7L822.1,1039.7L844.3,1056L864.2,1078.6L893.7,1087.5L908.5,1095.2L916.3,1103L917.4,1119.6L923.1,1121.3L952.6,1126.2L981.8,1135.1L1011.5,1140.6L1040.7,1145L1070.2,1150.6L1099.7,1153.9L1129.2,1163.9L1158.6,1162.8L1188.1,1166.1L1217.5,1169.4L1247,1172.7L1276.2,1175.4L1305.9,1176L1335.1,1177.1L1364.6,1182L1396.1,1182.7 M1113.3,1079.7L1126.5,1075.3L1137.6,1078.6L1129.9,1099.6L1113.3,1079.7 M1396.1,1105.8L1369,1096.3L1355.7,1099.6L1336.9,1114L1322.5,1097.4L1303.7,1090.3L1276.2,1098.5L1255,1097.4L1235,1100.5L1212.9,1110.7L1199.6,1120.7L1217.5,1130.6L1247,1139.5L1276.2,1143.9L1305.9,1141.7L1335.1,1150.6L1364.6,1152.8L1396.1,1154.6 M803.3,1111.2L834.8,1124L864.2,1137.3L893.7,1147.3L923.1,1151.7L952.6,1155L981.8,1167.2L1011.5,1171.6L1040.7,1174.9L1070.2,1174.9L1099.7,1180.8L1129.2,1177.8L1158.6,1182L1188.1,1184.9L1217.5,1186.4L1247,1188.2L1276.2,1190L1305.9,1190.4L1335.1,1190L1364.6,1193.1L1396.1,1193.1 M803.3,1154.5L822.1,1160.5L853,1165L864.2,1163.9L893.7,1171.6L923.1,1177.1L952.6,1179.4L981.8,1183.8L1011.5,1190.4L1040.7,1192.2L1070.2,1191.5L1099.7,1195.1L1129.2,1194.9L1158.6,1197.7L1188.1,1198.6L1217.5,1198.8L1247,1200.6L1276.2,1201.9L1305.9,1202.2L1335.1,1201.5L1364.6,1203.3L1396.1,1203.7 M803.3,1186L834.8,1187.1L864.2,1189.3L893.7,1191.5L923.1,1198.2L952.6,1198.9L981.8,1199.3L1011.5,1200.4L1040.7,1205.9L1070.2,1207L1099.7,1209.3L1158.6,1210.2L1217.5,1209.6L1247,1211.5L1305.9,1213L1335.1,1211.3L1364.6,1213.6L1396.1,1212.6 M803.3,1208.1L834.8,1207.7L864.2,1212.1L893.7,1211.5L923.1,1214.3L952.6,1214.3L981.8,1214.8L1011.5,1214.3L1040.7,1216.5L1070.2,1218.6L1099.7,1220.3L1158.6,1220.3L1217.5,1219.8L1247,1221L1305.9,1222.6L1335.1,1220.5L1364.6,1223L1396.1,1222.2"/>
<path class="d db" d="M802.3,1226.7L805.3,1225.7L834.7,1224.8L864.2,1226.2L893.6,1227L923.1,1225.9L952.5,1225.9L981.9,1224.9L1011.4,1226.5L1040.8,1228.2L1070.3,1228.4L1099.7,1228.6L1129.1,1227.3L1158.6,1229.8L1188,1229.9L1217.5,1228.2L1246.9,1229.7L1276.3,1228.4L1305.8,1229L1335.2,1229.9L1364.7,1229.9L1394.1,1232 M802.3,1241.5L805.3,1240.5L834.7,1238.9L864.2,1239.4L893.6,1239.3L923.1,1237.4L952.5,1236.9L981.9,1235.7L1011.4,1237L1040.8,1238.2L1070.3,1238L1099.7,1237.8L1129.1,1236.2L1158.6,1238.2L1188,1238.3L1217.5,1236.8L1246.9,1238.2L1276.3,1236.9L1305.8,1237.4L1335.2,1238.1L1364.7,1238L1394.1,1239.8 M802.3,1255.1L805.3,1254.1L834.7,1251.6L864.2,1251.2L893.6,1250.4L923.1,1248L952.5,1247.1L981.9,1245.7L1011.4,1246.6L1040.8,1247.4L1070.3,1246.9L1099.7,1246.3L1129.1,1244.6L1158.6,1246.4L1188,1246.4L1217.5,1245L1246.9,1246.2L1276.3,1245L1305.8,1245.4L1335.2,1246L1364.7,1245.8L1394.1,1247.3 M802.3,1267.4L805.3,1266.4L834.7,1263.2L864.2,1262L893.6,1260.5L923.1,1257.9L952.5,1256.6L981.9,1255L1011.4,1255.4L1040.8,1255.9L1070.3,1255.2L1099.7,1254.3L1129.1,1252.7L1158.6,1254.2L1188,1254.2L1217.5,1252.9L1246.9,1253.9L1276.3,1252.7L1305.8,1253L1335.2,1253.5L1364.7,1253.2L1394.1,1254.4 M802.3,1278.8L805.3,1277.8L834.7,1273.8L864.2,1271.8L893.6,1269.9L923.1,1267.1L952.5,1265.6L981.9,1263.7L1011.4,1263.8L1040.8,1263.9L1070.3,1262.9L1099.7,1262L1129.1,1260.3L1158.6,1261.6L1188,1261.6L1217.5,1260.4L1246.9,1261.3L1276.3,1260.2L1305.8,1260.3L1335.2,1260.6L1364.7,1260.2L1394.1,1261.2 M802.3,1289.3L805.3,1288.3L834.7,1283.6L864.2,1281L893.6,1278.6L923.1,1275.8L952.5,1274.1L981.9,1272L1011.4,1271.6L1040.8,1271.4L1070.3,1270.3L1099.7,1269.2L1129.1,1267.6L1158.6,1268.7L1188,1268.7L1217.5,1267.6L1246.9,1268.4L1276.3,1267.3L1305.8,1267.4L1335.2,1267.5L1364.7,1267L1394.1,1267.8 M802.3,1299.1L805.3,1298.1L834.7,1292.9L864.2,1289.6L893.6,1286.9L923.1,1284L952.5,1282.2L981.9,1279.8L1011.4,1279.1L1040.8,1278.5L1070.3,1277.3L1099.7,1276.1L1129.1,1274.5L1158.6,1275.4L1188,1275.4L1217.5,1274.4L1246.9,1275.1L1276.3,1274.1L1305.8,1274.1L1335.2,1274.1L1364.7,1273.6L1394.1,1274.1 M802.3,1308.3L805.3,1307.3L834.7,1301.6L864.2,1297.9L893.6,1294.8L923.1,1291.8L952.5,1289.8L981.9,1287.3L1011.4,1286.2L1040.8,1285.4L1070.3,1284L1099.7,1282.7L1129.1,1281.2L1158.6,1281.9L1188,1281.8L1217.5,1281L1246.9,1281.5L1276.3,1280.7L1305.8,1280.5L1335.2,1280.5L1364.7,1279.9L1394.1,1280.2 M802.3,1316.9L805.3,1315.9L834.7,1310L864.2,1305.8L893.6,1302.4L923.1,1299.2L952.5,1297L981.9,1294.5L1011.4,1293.1L1040.8,1292L1070.3,1290.5L1099.7,1289.1L1129.1,1287.5L1158.6,1288L1188,1287.9L1217.5,1287.3L1246.9,1287.7L1276.3,1286.9L1305.8,1286.8L1335.2,1286.6L1364.7,1286.1L1394.1,1286.2 M802.3,1325L805.3,1324L834.7,1318.1L864.2,1313.6L893.6,1309.8L923.1,1306.3L952.5,1303.8L981.9,1301.3L1011.4,1299.8L1040.8,1298.5L1070.3,1296.8L1099.7,1295.2L1129.1,1293.6L1158.6,1293.9L1188,1293.8L1217.5,1293.3L1246.9,1293.6L1276.3,1293L1305.8,1292.8L1335.2,1292.6L1364.7,1292.1L1394.1,1292 M802.3,1332.7L805.3,1331.7L834.7,1325.7L864.2,1321L893.6,1317L923.1,1313.2L952.5,1310.4L981.9,1307.8L1011.4,1306.2L1040.8,1304.8L1070.3,1302.9L1099.7,1301.1L1129.1,1299.5L1158.6,1299.6L1188,1299.6L1217.5,1299.1L1246.9,1299.4L1276.3,1298.8L1305.8,1298.6L1335.2,1298.4L1364.7,1297.9L1394.1,1297.8 M802.3,1340L805.3,1339L834.7,1333L864.2,1328.3L893.6,1324L923.1,1319.7L952.5,1316.6L981.9,1314L1011.4,1312.4L1040.8,1311L1070.3,1308.9L1099.7,1306.9L1129.1,1305.1L1158.6,1305.2L1188,1305.2L1217.5,1304.7L1246.9,1305L1276.3,1304.5L1305.8,1304.3L1335.2,1304.1L1364.7,1303.6L1394.1,1303.6 M802.3,1346.8L805.3,1345.8L834.7,1339.9L864.2,1335.2L893.6,1330.7L923.1,1326L952.5,1322.6L981.9,1319.9L1011.4,1318.4L1040.8,1316.9L1070.3,1314.8L1099.7,1312.6L1129.1,1310.6L1158.6,1310.7L1188,1310.7L1217.5,1310.3L1246.9,1310.6L1276.3,1310.1L1305.8,1309.9L1335.2,1309.7L1364.7,1309.3L1394.1,1309.2 M802.3,1353.1L805.3,1352.1L834.7,1346.4L864.2,1341.6L893.6,1337L923.1,1332L952.5,1328.3L981.9,1325.6L1011.4,1324.1L1040.8,1322.6L1070.3,1320.4L1099.7,1318.1L1129.1,1316L1158.6,1316.2L1188,1316.2L1217.5,1315.8L1246.9,1316.1L1276.3,1315.6L1305.8,1315.5L1335.2,1315.3L1364.7,1314.9L1394.1,1314.8 M802.3,1358.9L805.3,1357.9L834.7,1352.3L864.2,1347.5L893.6,1342.9L923.1,1337.7L952.5,1333.8L981.9,1331.1L1011.4,1329.5L1040.8,1328L1070.3,1325.8L1099.7,1323.5L1129.1,1321.5L1158.6,1321.6L1188,1321.7L1217.5,1321.4L1246.9,1321.7L1276.3,1321.2L1305.8,1321.1L1335.2,1320.9L1364.7,1320.4L1394.1,1320.4 M802.3,1364.1L805.3,1363.1L834.7,1357.5L864.2,1352.8L893.6,1348.1L923.1,1342.9L952.5,1339L981.9,1336.2L1011.4,1334.5L1040.8,1333L1070.3,1330.9L1099.7,1328.8L1129.1,1326.9L1158.6,1327.1L1188,1327.2L1217.5,1327L1246.9,1327.4L1276.3,1326.9L1305.8,1326.8L1335.2,1326.6L1364.7,1326L1394.1,1325.9"/>
<rect x="1271" y="820.9" width="34.5" height="21" fill="#fff"/>
<rect x="1166.8" y="851.9" width="34.5" height="21" fill="#fff"/>
<rect x="1133" y="889.5" width="34.5" height="21" fill="#fff"/>
<rect x="1098.2" y="926" width="34.5" height="21" fill="#fff"/>
<rect x="1065" y="958.1" width="34.5" height="21" fill="#fff"/>
<rect x="1035.2" y="986.9" width="34.5" height="21" fill="#fff"/>
<rect x="1017.5" y="1018.1" width="34.5" height="21" fill="#fff"/>
<rect x="955.5" y="1092.5" width="34.5" height="21" fill="#fff"/>
<rect x="1217.8" y="1091.4" width="34.5" height="21" fill="#fff"/>
<rect x="870.2" y="1121.3" width="34.5" height="21" fill="#fff"/>
<rect x="838.1" y="1144.5" width="34.5" height="21" fill="#fff"/>
<rect x="810.5" y="1163.3" width="34.5" height="21" fill="#fff"/>
</g>
<text class="cl" x="1288.2" y="839.4" font-size="24.2">2.8</text>
<text class="cl" x="1184.1" y="870.4" font-size="24.2">2.6</text>
<text class="cl" x="1150.2" y="908" font-size="24.2">2.4</text>
<text class="cl" x="1115.5" y="944.5" font-size="24.2">2.2</text>
<text class="cl" x="1082.3" y="976.6" font-size="24.2">2.0</text>
<text class="cl" x="1052.4" y="1005.4" font-size="24.2">1.8</text>
<text class="cl" x="1034.7" y="1036.6" font-size="24.2">1.6</text>
<text class="cl" x="972.7" y="1111" font-size="24.2">1.6</text>
<text class="cl" x="1235" y="1109.9" font-size="24.2">1.4</text>
<text class="cl" x="887.5" y="1139.8" font-size="24.2">2.0</text>
<text class="cl" x="855.4" y="1163" font-size="24.2">2.4</text>
<text class="cl" x="827.7" y="1181.8" font-size="24.2">2.8</text>
<path d="M796.5,753.9H1396.4M796.5,1364.8H1396.4" stroke="#000" stroke-width="3.7" fill="none"/>
<path d="M805.3,752V1376.2M1394.1,752V1376.2M952.5,1364.8V1376.2M1099.7,1364.8V1376.2M1246.9,1364.8V1376.2" stroke="#000" stroke-width="4.7" fill="none"/>
<path d="M796.5,804.8H805.3M796.5,855.7H805.3M785.4,906.6H805.3M796.5,957.5H805.3M796.5,1008.4H805.3M796.5,1059.3H805.3M796.5,1110.3H805.3M785.4,1161.2H805.3M796.5,1212.1H805.3M796.5,1263H805.3M796.5,1313.9H805.3" stroke="#000" stroke-width="3.7" fill="none"/>
<text class="tl" text-anchor="end" x="791.8" y="767.5">1.8</text>
<text class="tl" text-anchor="end" x="782.3" y="917.2">1.5</text>
<text class="tl" text-anchor="end" x="782.3" y="1171.8">1.0</text>
<text class="tl" text-anchor="end" x="791.8" y="1377.1">0.6</text>
<text class="tl" text-anchor="middle" x="805" y="1404.8">2</text>
<text class="tl" text-anchor="middle" x="954.5" y="1404.8">3</text>
<text class="tl" text-anchor="middle" x="1097.4" y="1404.8">4</text>
<text class="tl" text-anchor="middle" x="1248.5" y="1404.8">5</text>
<text class="tl" text-anchor="middle" x="1390.8" y="1404.8">6</text>
<rect x="1069.7" y="753.9" width="322.4" height="50.4" fill="#fff" stroke="#333" stroke-width="1"/>
<ellipse cx="1110.3" cy="780.4" rx="31.7" ry="14.8" fill="url(#rgd)"/>
<text class="lg" transform="translate(1152,790.4) scale(1.18,1)" x="0" y="0">σ</text>
<text class="lg sub" x="1171.6" y="796.2">5</text>
<text class="lg" x="1187.1" y="790.4">[%],</text>
<text class="lg" transform="translate(1248.8,790.4) scale(1.08,1)" x="0" y="0">δ</text>
<text class="lg" x="1264.3" y="790.4">/r</text>
<text class="lg sub" x="1283.8" y="796.2">0</text>
<text class="lg" transform="translate(1300.2,790.4) scale(1.08,1)" x="0" y="0">=</text>
<text class="lg" x="1327.3" y="790.4">7.4%</text>
<text class="pl" x="693.3" y="31.2">a)</text>
<text class="pl" x="1397.3" y="31.2">b)</text>
<text class="pl" x="693.3" y="726.7">c)</text>
<text class="pl" x="1397.3" y="726.7">d)</text>
<g transform="translate(24,0.5) rotate(-90)">
<text class="yr" x="-423.4" y="0">Δ</text>
<text class="ysr" x="-405.4" y="5.6">b</text>
<text class="yb" x="-388.6" y="0">/</text>
<text class="yb" x="-371.6" y="0">r</text>
<text class="ysb" x="-358.4" y="5.8">0</text>
<text class="yb" x="-350.2" y="0">,</text>
<text class="yr" x="-333.4" y="0">Δ</text>
<text class="ysr" x="-314.8" y="5.6">a</text>
<text class="yr" x="-299.2" y="0">=</text>
<text class="yr" x="-272.7" y="0">Δ</text>
<text class="ysr" x="-253.4" y="5.6">b</text>
</g>
<g transform="translate(24,705.8) rotate(-90)">
<text class="yr" x="-423.4" y="0">Δ</text>
<text class="ysr" x="-405.4" y="5.6">b</text>
<text class="yb" x="-388.6" y="0">/</text>
<text class="yb" x="-371.6" y="0">r</text>
<text class="ysb" x="-358.4" y="5.8">0</text>
<text class="yb" x="-350.2" y="0">,</text>
<text class="yr" x="-333.4" y="0">Δ</text>
<text class="ysr" x="-314.8" y="5.6">a</text>
<text class="yr" x="-299.2" y="0">=</text>
<text class="yr" x="-272.7" y="0">Δ</text>
<text class="ysr" x="-253.4" y="5.6">b</text>
</g>
<g transform="translate(734,0.8) rotate(-90)">
<text class="yr" x="-423.6" y="0">Δ</text>
<text class="ysr" x="-405.4" y="5.6">b</text>
<text class="yb" x="-388.6" y="0">/</text>
<text class="yb" x="-371.6" y="0">r</text>
<text class="ysb" x="-358.4" y="5.8">0</text>
<text class="yb" x="-350.2" y="0">,</text>
<text class="yr" x="-335" y="0">Δ</text>
<text class="ysr" x="-316.2" y="5.6">a</text>
<text class="yr" x="-300" y="0">=</text>
<text class="yb" x="-276" y="0">2</text>
<text class="yr" x="-249.8" y="0">Δ</text>
<text class="ysr" x="-231" y="5.6">b</text>
</g>
<g transform="translate(734,705.8) rotate(-90)">
<text class="yr" x="-423.6" y="0">Δ</text>
<text class="ysr" x="-405.4" y="5.6">b</text>
<text class="yb" x="-388.6" y="0">/</text>
<text class="yb" x="-371.6" y="0">r</text>
<text class="ysb" x="-358.4" y="5.8">0</text>
<text class="yb" x="-350.2" y="0">,</text>
<text class="yr" x="-335" y="0">Δ</text>
<text class="ysr" x="-316.2" y="5.6">a</text>
<text class="yr" x="-300" y="0">=</text>
<text class="yb" x="-276" y="0">2</text>
<text class="yr" x="-249.8" y="0">Δ</text>
<text class="ysr" x="-231" y="5.6">b</text>
</g>
<text class="xl" x="391.7" y="1438.5">m</text>
<text class="xl" x="1101.7" y="1438.5">m</text>
</svg>
</body></html>
